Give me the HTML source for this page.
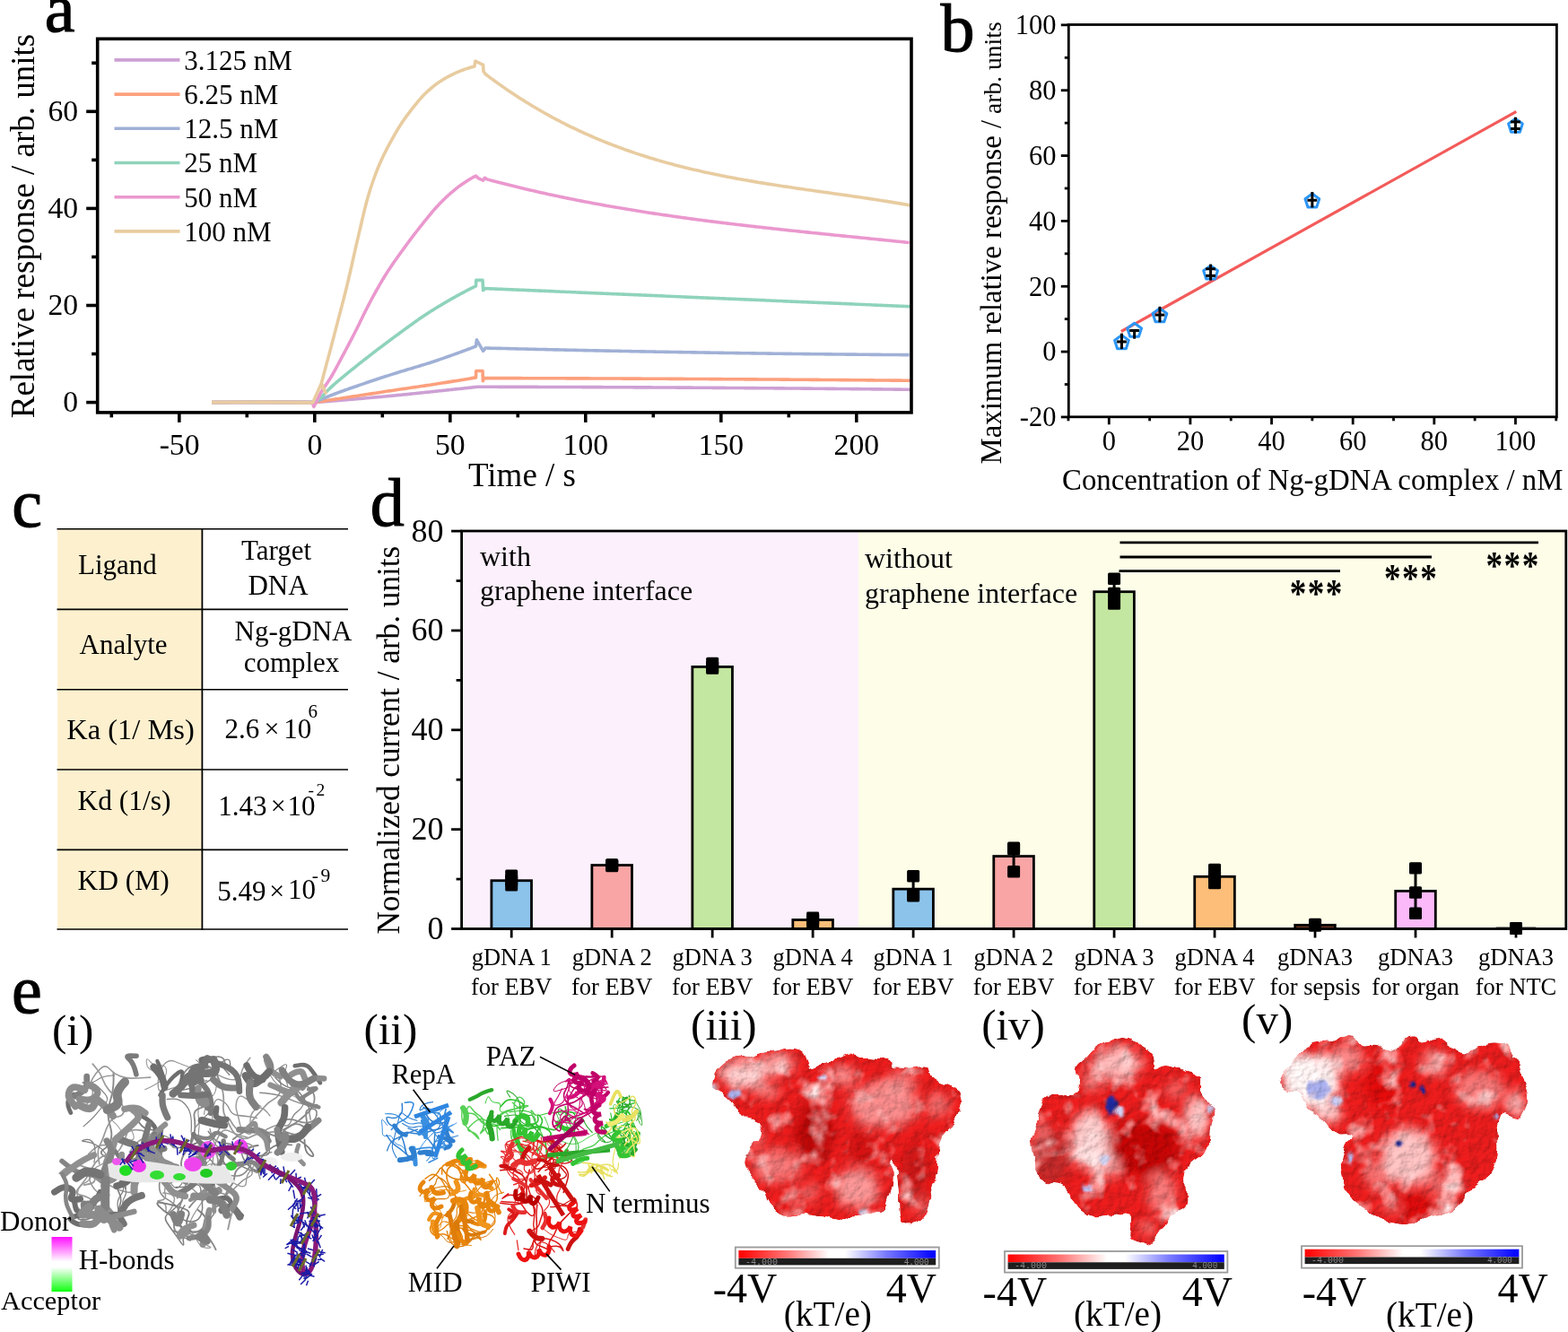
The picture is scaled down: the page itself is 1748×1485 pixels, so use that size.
<!DOCTYPE html><html><head><meta charset="utf-8"><style>html,body{margin:0;padding:0;background:#fff;}body{width:1748px;height:1485px;position:relative;overflow:hidden;}</style></head><body><svg width="1748" height="1485" viewBox="0 0 1748 1485" font-family="'Liberation Serif', 'Times New Roman', serif" style="position:absolute;left:0;top:0">
<rect x="0" y="0" width="1748" height="1485" fill="#fff"/>
<g id="pa">
<polyline points="236.04,448.6 290.4,448.33 350.8,448.6 352.31,448.48 353.82,448.36 355.33,448.24 356.84,448.12 358.35,448 359.86,447.88 361.37,447.76 362.88,447.64 364.39,447.51 365.9,447.39 367.41,447.27 368.92,447.15 370.43,447.02 371.94,446.9 373.45,446.77 374.96,446.65 376.47,446.52 377.98,446.4 379.49,446.27 381,446.15 382.51,446.02 384.02,445.89 385.53,445.77 387.04,445.64 388.55,445.51 390.06,445.38 391.57,445.26 393.08,445.13 394.59,445 396.1,444.87 397.61,444.74 399.12,444.61 400.63,444.48 402.14,444.35 403.65,444.22 405.16,444.09 406.67,443.96 408.18,443.83 409.69,443.69 411.2,443.56 412.71,443.43 414.22,443.3 415.73,443.16 417.24,443.03 418.75,442.89 420.26,442.76 421.77,442.62 423.28,442.49 424.79,442.35 426.3,442.21 427.81,442.08 429.32,441.94 430.83,441.8 432.34,441.66 433.85,441.52 435.36,441.38 436.87,441.23 438.38,441.09 439.89,440.95 441.4,440.8 442.91,440.65 444.42,440.51 445.93,440.36 447.44,440.21 448.95,440.06 450.46,439.91 451.97,439.75 453.48,439.6 454.99,439.45 456.5,439.29 458.01,439.14 459.52,438.98 461.03,438.82 462.54,438.67 464.05,438.51 465.56,438.35 467.07,438.19 468.58,438.04 470.09,437.88 471.6,437.72 473.11,437.56 474.62,437.4 476.13,437.25 477.64,437.09 479.15,436.93 480.66,436.77 482.17,436.61 483.68,436.46 485.19,436.3 486.7,436.14 488.21,435.98 489.72,435.82 491.23,435.67 492.74,435.51 494.25,435.35 495.76,435.19 497.27,435.03 498.78,434.87 500.29,434.71 501.8,434.55 503.31,434.39 504.82,434.23 506.33,434.07 507.84,433.91 509.35,433.75 510.86,433.58 512.37,433.42 513.88,433.26 515.39,433.1 516.9,432.94 518.41,432.77 519.92,432.61 521.43,432.45 522.94,432.29 524.45,432.12 525.96,431.96 527.47,431.8 528.98,431.63 530.49,431.47 532,431.3 535.02,431.3 538.04,431.3 541.06,431.3 544.08,431.31 547.1,431.31 550.12,431.32 553.14,431.32 556.16,431.33 559.18,431.33 562.2,431.34 565.22,431.35 568.24,431.35 571.26,431.36 574.28,431.36 577.3,431.37 580.32,431.38 583.34,431.38 586.36,431.39 589.38,431.4 592.4,431.41 595.42,431.41 598.44,431.42 601.46,431.43 604.48,431.44 607.5,431.45 610.52,431.45 613.54,431.46 616.56,431.47 619.58,431.48 622.6,431.49 625.62,431.5 628.64,431.51 631.66,431.52 634.68,431.53 637.7,431.54 640.72,431.55 643.74,431.56 646.76,431.57 649.78,431.58 652.8,431.59 655.82,431.6 658.84,431.62 661.86,431.63 664.88,431.64 667.9,431.65 670.92,431.66 673.94,431.68 676.96,431.69 679.98,431.7 683,431.71 686.02,431.73 689.04,431.74 692.06,431.76 695.08,431.77 698.1,431.78 701.12,431.8 704.14,431.81 707.16,431.83 710.18,431.84 713.2,431.86 716.22,431.87 719.24,431.89 722.26,431.9 725.28,431.92 728.3,431.93 731.32,431.95 734.34,431.96 737.36,431.98 740.38,432 743.4,432.01 746.42,432.03 749.44,432.05 752.46,432.07 755.48,432.08 758.5,432.1 761.52,432.12 764.54,432.14 767.56,432.15 770.58,432.17 773.6,432.19 776.62,432.21 779.64,432.23 782.66,432.25 785.68,432.27 788.7,432.29 791.72,432.31 794.74,432.33 797.76,432.35 800.78,432.37 803.8,432.39 806.82,432.41 809.84,432.43 812.86,432.45 815.88,432.47 818.9,432.49 821.92,432.51 824.94,432.54 827.96,432.56 830.98,432.58 834,432.6 837.02,432.62 840.04,432.65 843.06,432.67 846.08,432.69 849.1,432.72 852.12,432.74 855.14,432.76 858.16,432.79 861.18,432.81 864.2,432.83 867.22,432.86 870.24,432.88 873.26,432.91 876.28,432.93 879.3,432.96 882.32,432.98 885.34,433.01 888.36,433.03 891.38,433.06 894.4,433.09 897.42,433.11 900.44,433.14 903.46,433.16 906.48,433.19 909.5,433.22 912.52,433.25 915.54,433.27 918.56,433.3 921.58,433.33 924.6,433.36 927.62,433.38 930.64,433.41 933.66,433.44 936.68,433.47 939.7,433.5 942.72,433.53 945.74,433.56 948.76,433.59 951.78,433.61 954.8,433.64 957.82,433.67 960.84,433.7 963.86,433.73 966.88,433.76 969.9,433.8 972.92,433.83 975.94,433.86 978.96,433.89 981.98,433.92 985,433.95 988.02,433.98 991.04,434.01 994.06,434.05 997.08,434.08 1000.1,434.11 1003.12,434.14 1006.14,434.18 1009.16,434.21 1012.18,434.24 1015.2,434.28" fill="none" stroke="#cda0d4" stroke-width="3.6" stroke-linejoin="round" />
<polyline points="236.04,448.6 290.4,448.33 350.8,448.6 352.31,448.37 353.82,448.14 355.33,447.91 356.84,447.68 358.35,447.45 359.86,447.21 361.37,446.98 362.88,446.75 364.39,446.52 365.9,446.29 367.41,446.06 368.92,445.83 370.43,445.6 371.94,445.37 373.45,445.13 374.96,444.9 376.47,444.67 377.98,444.44 379.49,444.21 381,443.98 382.51,443.75 384.02,443.52 385.53,443.29 387.04,443.05 388.55,442.82 390.06,442.59 391.57,442.36 393.08,442.13 394.59,441.9 396.1,441.67 397.61,441.43 399.12,441.2 400.63,440.97 402.14,440.74 403.65,440.51 405.16,440.27 406.67,440.04 408.18,439.81 409.69,439.57 411.2,439.34 412.71,439.11 414.22,438.87 415.73,438.64 417.24,438.41 418.75,438.17 420.26,437.94 421.77,437.71 423.28,437.48 424.79,437.25 426.3,437.01 427.81,436.78 429.32,436.55 430.83,436.32 432.34,436.09 433.85,435.86 435.36,435.63 436.87,435.41 438.38,435.18 439.89,434.95 441.4,434.73 442.91,434.5 444.42,434.28 445.93,434.06 447.44,433.84 448.95,433.62 450.46,433.4 451.97,433.18 453.48,432.96 454.99,432.74 456.5,432.52 458.01,432.31 459.52,432.09 461.03,431.87 462.54,431.65 464.05,431.43 465.56,431.21 467.07,430.99 468.58,430.77 470.09,430.55 471.6,430.33 473.11,430.1 474.62,429.88 476.13,429.65 477.64,429.42 479.15,429.2 480.66,428.96 482.17,428.73 483.68,428.5 485.19,428.26 486.7,428.03 488.21,427.79 489.72,427.56 491.23,427.32 492.74,427.08 494.25,426.84 495.76,426.6 497.27,426.36 498.78,426.12 500.29,425.88 501.8,425.64 503.31,425.39 504.82,425.15 506.33,424.9 507.84,424.66 509.35,424.41 510.86,424.16 512.37,423.92 513.88,423.67 515.39,423.42 516.9,423.17 518.41,422.92 519.92,422.66 521.43,422.41 522.94,422.16 524.45,421.9 525.96,421.65 527.47,421.39 528.98,421.14 530.49,420.88 530.79,413.47 538.04,413.47 538.34,424.82 539.85,421.58 541.06,421.58 544.08,421.58 547.1,421.59 550.12,421.6 553.14,421.6 556.16,421.61 559.18,421.62 562.2,421.62 565.22,421.63 568.24,421.64 571.26,421.65 574.28,421.65 577.3,421.66 580.32,421.67 583.34,421.68 586.36,421.69 589.38,421.7 592.4,421.71 595.42,421.71 598.44,421.72 601.46,421.73 604.48,421.74 607.5,421.75 610.52,421.76 613.54,421.77 616.56,421.78 619.58,421.79 622.6,421.8 625.62,421.81 628.64,421.82 631.66,421.83 634.68,421.84 637.7,421.85 640.72,421.86 643.74,421.88 646.76,421.89 649.78,421.9 652.8,421.91 655.82,421.92 658.84,421.93 661.86,421.94 664.88,421.96 667.9,421.97 670.92,421.98 673.94,421.99 676.96,422.01 679.98,422.02 683,422.03 686.02,422.04 689.04,422.06 692.06,422.07 695.08,422.08 698.1,422.1 701.12,422.11 704.14,422.13 707.16,422.14 710.18,422.15 713.2,422.17 716.22,422.18 719.24,422.2 722.26,422.21 725.28,422.23 728.3,422.24 731.32,422.26 734.34,422.27 737.36,422.29 740.38,422.3 743.4,422.32 746.42,422.33 749.44,422.35 752.46,422.37 755.48,422.38 758.5,422.4 761.52,422.41 764.54,422.43 767.56,422.45 770.58,422.46 773.6,422.48 776.62,422.5 779.64,422.52 782.66,422.53 785.68,422.55 788.7,422.57 791.72,422.59 794.74,422.6 797.76,422.62 800.78,422.64 803.8,422.66 806.82,422.68 809.84,422.69 812.86,422.71 815.88,422.73 818.9,422.75 821.92,422.77 824.94,422.79 827.96,422.81 830.98,422.83 834,422.85 837.02,422.87 840.04,422.89 843.06,422.91 846.08,422.93 849.1,422.95 852.12,422.97 855.14,422.99 858.16,423.01 861.18,423.03 864.2,423.05 867.22,423.07 870.24,423.09 873.26,423.12 876.28,423.14 879.3,423.16 882.32,423.18 885.34,423.2 888.36,423.23 891.38,423.25 894.4,423.27 897.42,423.29 900.44,423.32 903.46,423.34 906.48,423.36 909.5,423.38 912.52,423.41 915.54,423.43 918.56,423.45 921.58,423.48 924.6,423.5 927.62,423.53 930.64,423.55 933.66,423.57 936.68,423.6 939.7,423.62 942.72,423.65 945.74,423.67 948.76,423.7 951.78,423.72 954.8,423.75 957.82,423.77 960.84,423.8 963.86,423.82 966.88,423.85 969.9,423.87 972.92,423.9 975.94,423.93 978.96,423.95 981.98,423.98 985,424.01 988.02,424.03 991.04,424.06 994.06,424.09 997.08,424.11 1000.1,424.14 1003.12,424.17 1006.14,424.19 1009.16,424.22 1012.18,424.25 1015.2,424.28" fill="none" stroke="#fca07d" stroke-width="3.6" stroke-linejoin="round" />
<polyline points="236.04,448.6 290.4,448.33 350.8,448.6 352.31,447.91 353.82,447.22 355.33,446.55 356.84,445.87 358.35,445.21 359.86,444.55 361.37,443.9 362.88,443.26 364.39,442.63 365.9,442.01 367.41,441.39 368.92,440.79 370.43,440.2 371.94,439.62 373.45,439.04 374.96,438.48 376.47,437.92 377.98,437.36 379.49,436.81 381,436.26 382.51,435.72 384.02,435.19 385.53,434.65 387.04,434.12 388.55,433.6 390.06,433.07 391.57,432.54 393.08,432.02 394.59,431.5 396.1,430.97 397.61,430.45 399.12,429.93 400.63,429.41 402.14,428.89 403.65,428.37 405.16,427.85 406.67,427.34 408.18,426.83 409.69,426.32 411.2,425.81 412.71,425.3 414.22,424.79 415.73,424.29 417.24,423.79 418.75,423.29 420.26,422.79 421.77,422.29 423.28,421.79 424.79,421.3 426.3,420.8 427.81,420.31 429.32,419.82 430.83,419.33 432.34,418.84 433.85,418.36 435.36,417.87 436.87,417.39 438.38,416.9 439.89,416.42 441.4,415.95 442.91,415.47 444.42,415.01 445.93,414.54 447.44,414.08 448.95,413.62 450.46,413.17 451.97,412.71 453.48,412.26 454.99,411.81 456.5,411.36 458.01,410.91 459.52,410.46 461.03,410.01 462.54,409.56 464.05,409.11 465.56,408.65 467.07,408.2 468.58,407.74 470.09,407.28 471.6,406.82 473.11,406.35 474.62,405.87 476.13,405.4 477.64,404.92 479.15,404.43 480.66,403.94 482.17,403.44 483.68,402.94 485.19,402.43 486.7,401.93 488.21,401.42 489.72,400.91 491.23,400.39 492.74,399.87 494.25,399.35 495.76,398.83 497.27,398.31 498.78,397.78 500.29,397.25 501.8,396.72 503.31,396.18 504.82,395.64 506.33,395.1 507.84,394.56 509.35,394.01 510.86,393.46 512.37,392.91 513.88,392.36 515.39,391.8 516.9,391.24 518.41,390.68 519.92,390.11 521.43,389.55 522.94,388.98 524.45,388.41 525.96,387.83 527.47,387.25 528.98,386.67 530.49,386.09 531.4,378.88 538.64,391.31 541.06,388.06 542.57,388.02 545.59,388.1 548.61,388.18 551.63,388.25 554.65,388.33 557.67,388.4 560.69,388.48 563.71,388.56 566.73,388.63 569.75,388.71 572.77,388.78 575.79,388.85 578.81,388.93 581.83,389 584.85,389.07 587.87,389.14 590.89,389.22 593.91,389.29 596.93,389.36 599.95,389.43 602.97,389.5 605.99,389.57 609.01,389.64 612.03,389.71 615.05,389.78 618.07,389.85 621.09,389.92 624.11,389.98 627.13,390.05 630.15,390.12 633.17,390.18 636.19,390.25 639.21,390.32 642.23,390.38 645.25,390.45 648.27,390.51 651.29,390.58 654.31,390.64 657.33,390.71 660.35,390.77 663.37,390.83 666.39,390.89 669.41,390.96 672.43,391.02 675.45,391.08 678.47,391.14 681.49,391.2 684.51,391.26 687.53,391.32 690.55,391.38 693.57,391.44 696.59,391.5 699.61,391.56 702.63,391.62 705.65,391.68 708.67,391.73 711.69,391.79 714.71,391.85 717.73,391.9 720.75,391.96 723.77,392.02 726.79,392.07 729.81,392.13 732.83,392.18 735.85,392.24 738.87,392.29 741.89,392.34 744.91,392.4 747.93,392.45 750.95,392.5 753.97,392.55 756.99,392.6 760.01,392.66 763.03,392.71 766.05,392.76 769.07,392.81 772.09,392.86 775.11,392.91 778.13,392.96 781.15,393 784.17,393.05 787.19,393.1 790.21,393.15 793.23,393.2 796.25,393.24 799.27,393.29 802.29,393.33 805.31,393.38 808.33,393.43 811.35,393.47 814.37,393.52 817.39,393.56 820.41,393.6 823.43,393.65 826.45,393.69 829.47,393.73 832.49,393.78 835.51,393.82 838.53,393.86 841.55,393.9 844.57,393.94 847.59,393.98 850.61,394.02 853.63,394.06 856.65,394.1 859.67,394.14 862.69,394.18 865.71,394.22 868.73,394.26 871.75,394.29 874.77,394.33 877.79,394.37 880.81,394.41 883.83,394.44 886.85,394.48 889.87,394.51 892.89,394.55 895.91,394.58 898.93,394.62 901.95,394.65 904.97,394.68 907.99,394.72 911.01,394.75 914.03,394.78 917.05,394.81 920.07,394.85 923.09,394.88 926.11,394.91 929.13,394.94 932.15,394.97 935.17,395 938.19,395.03 941.21,395.06 944.23,395.09 947.25,395.12 950.27,395.14 953.29,395.17 956.31,395.2 959.33,395.23 962.35,395.25 965.37,395.28 968.39,395.3 971.41,395.33 974.43,395.36 977.45,395.38 980.47,395.4 983.49,395.43 986.51,395.45 989.53,395.48 992.55,395.5 995.57,395.52 998.59,395.54 1001.61,395.57 1004.63,395.59 1007.65,395.61 1010.67,395.63 1013.69,395.65" fill="none" stroke="#a0b0d6" stroke-width="3.6" stroke-linejoin="round" />
<polyline points="236.04,448.6 290.4,448.33 350.8,448.6 352.31,447.55 353.82,446.43 355.33,445.25 356.84,443.99 358.35,442.65 359.86,441.17 361.37,439.61 362.88,437.99 364.39,436.37 365.9,434.78 367.41,433.25 368.92,431.82 370.43,430.44 371.94,429.08 373.45,427.74 374.96,426.41 376.47,425.11 377.98,423.82 379.49,422.55 381,421.29 382.51,420.04 384.02,418.8 385.53,417.57 387.04,416.35 388.55,415.13 390.06,413.92 391.57,412.71 393.08,411.51 394.59,410.3 396.1,409.09 397.61,407.88 399.12,406.67 400.63,405.46 402.14,404.26 403.65,403.07 405.16,401.88 406.67,400.69 408.18,399.5 409.69,398.33 411.2,397.15 412.71,395.98 414.22,394.81 415.73,393.64 417.24,392.48 418.75,391.33 420.26,390.17 421.77,389.02 423.28,387.88 424.79,386.74 426.3,385.6 427.81,384.46 429.32,383.33 430.83,382.2 432.34,381.08 433.85,379.96 435.36,378.84 436.87,377.73 438.38,376.62 439.89,375.51 441.4,374.4 442.91,373.29 444.42,372.18 445.93,371.07 447.44,369.96 448.95,368.85 450.46,367.74 451.97,366.63 453.48,365.53 454.99,364.43 456.5,363.34 458.01,362.25 459.52,361.17 461.03,360.09 462.54,359.01 464.05,357.95 465.56,356.89 467.07,355.84 468.58,354.79 470.09,353.76 471.6,352.74 473.11,351.72 474.62,350.72 476.13,349.73 477.64,348.75 479.15,347.78 480.66,346.82 482.17,345.88 483.68,344.94 485.19,344.01 486.7,343.08 488.21,342.16 489.72,341.25 491.23,340.34 492.74,339.43 494.25,338.53 495.76,337.64 497.27,336.75 498.78,335.87 500.29,335 501.8,334.13 503.31,333.27 504.82,332.42 506.33,331.57 507.84,330.73 509.35,329.89 510.86,329.06 512.37,328.24 513.88,327.43 515.39,326.62 516.9,325.83 518.41,325.03 519.92,324.25 521.43,323.47 522.94,322.71 524.45,321.95 525.96,321.19 527.47,320.45 528.98,319.71 530.49,318.98 530.79,312.39 538.04,312.39 538.64,323.74 540.46,322.12 541.06,321.6 544.08,321.73 547.1,321.86 550.12,321.98 553.14,322.11 556.16,322.24 559.18,322.37 562.2,322.5 565.22,322.62 568.24,322.75 571.26,322.88 574.28,323.01 577.3,323.13 580.32,323.26 583.34,323.39 586.36,323.52 589.38,323.65 592.4,323.77 595.42,323.9 598.44,324.03 601.46,324.16 604.48,324.29 607.5,324.41 610.52,324.54 613.54,324.67 616.56,324.8 619.58,324.93 622.6,325.05 625.62,325.18 628.64,325.31 631.66,325.44 634.68,325.57 637.7,325.69 640.72,325.82 643.74,325.95 646.76,326.08 649.78,326.21 652.8,326.33 655.82,326.46 658.84,326.59 661.86,326.72 664.88,326.85 667.9,326.97 670.92,327.1 673.94,327.23 676.96,327.36 679.98,327.49 683,327.61 686.02,327.74 689.04,327.87 692.06,328 695.08,328.13 698.1,328.26 701.12,328.38 704.14,328.51 707.16,328.64 710.18,328.77 713.2,328.9 716.22,329.02 719.24,329.15 722.26,329.28 725.28,329.41 728.3,329.54 731.32,329.67 734.34,329.79 737.36,329.92 740.38,330.05 743.4,330.18 746.42,330.31 749.44,330.44 752.46,330.56 755.48,330.69 758.5,330.82 761.52,330.95 764.54,331.08 767.56,331.21 770.58,331.33 773.6,331.46 776.62,331.59 779.64,331.72 782.66,331.85 785.68,331.98 788.7,332.1 791.72,332.23 794.74,332.36 797.76,332.49 800.78,332.62 803.8,332.75 806.82,332.87 809.84,333 812.86,333.13 815.88,333.26 818.9,333.39 821.92,333.52 824.94,333.65 827.96,333.77 830.98,333.9 834,334.03 837.02,334.16 840.04,334.29 843.06,334.42 846.08,334.55 849.1,334.67 852.12,334.8 855.14,334.93 858.16,335.06 861.18,335.19 864.2,335.32 867.22,335.45 870.24,335.57 873.26,335.7 876.28,335.83 879.3,335.96 882.32,336.09 885.34,336.22 888.36,336.35 891.38,336.47 894.4,336.6 897.42,336.73 900.44,336.86 903.46,336.99 906.48,337.12 909.5,337.25 912.52,337.38 915.54,337.5 918.56,337.63 921.58,337.76 924.6,337.89 927.62,338.02 930.64,338.15 933.66,338.28 936.68,338.41 939.7,338.53 942.72,338.66 945.74,338.79 948.76,338.92 951.78,339.05 954.8,339.18 957.82,339.31 960.84,339.44 963.86,339.57 966.88,339.69 969.9,339.82 972.92,339.95 975.94,340.08 978.96,340.21 981.98,340.34 985,340.47 988.02,340.6 991.04,340.73 994.06,340.85 997.08,340.98 1000.1,341.11 1003.12,341.24 1006.14,341.37 1009.16,341.5 1012.18,341.63 1015.2,341.76" fill="none" stroke="#8fd3bb" stroke-width="3.6" stroke-linejoin="round" />
<polyline points="236.04,448.6 290.4,448.33 348.08,448.6 349.89,453.46 353.82,445.37 355.33,442.32 356.84,439.43 358.35,436.71 359.86,434.2 361.37,431.88 362.88,429.68 364.39,427.52 365.9,425.33 367.41,423.03 368.92,420.57 370.43,417.99 371.94,415.33 373.45,412.61 374.96,409.83 376.47,407.01 377.98,404.16 379.49,401.31 381,398.46 382.51,395.63 384.02,392.81 385.53,389.98 387.04,387.14 388.55,384.29 390.06,381.43 391.57,378.55 393.08,375.65 394.59,372.73 396.1,369.79 397.61,366.81 399.12,363.77 400.63,360.68 402.14,357.56 403.65,354.43 405.16,351.31 406.67,348.23 408.18,345.19 409.69,342.23 411.2,339.36 412.71,336.52 414.22,333.7 415.73,330.91 417.24,328.14 418.75,325.41 420.26,322.7 421.77,320.03 423.28,317.4 424.79,314.81 426.3,312.26 427.81,309.75 429.32,307.3 430.83,304.89 432.34,302.53 433.85,300.22 435.36,297.94 436.87,295.7 438.38,293.49 439.89,291.32 441.4,289.17 442.91,287.04 444.42,284.93 445.93,282.84 447.44,280.77 448.95,278.7 450.46,276.64 451.97,274.58 453.48,272.53 454.99,270.48 456.5,268.44 458.01,266.42 459.52,264.41 461.03,262.42 462.54,260.44 464.05,258.47 465.56,256.52 467.07,254.58 468.58,252.66 470.09,250.76 471.6,248.87 473.11,246.99 474.62,245.13 476.13,243.27 477.64,241.41 479.15,239.57 480.66,237.76 482.17,235.96 483.68,234.2 485.19,232.48 486.7,230.79 488.21,229.16 489.72,227.56 491.23,225.99 492.74,224.46 494.25,222.95 495.76,221.48 497.27,220.03 498.78,218.63 500.29,217.26 501.8,215.92 503.31,214.61 504.82,213.32 506.33,212.06 507.84,210.83 509.35,209.62 510.86,208.45 512.37,207.32 513.88,206.22 515.39,205.17 516.9,204.14 518.41,203.14 519.92,202.16 521.43,201.2 522.94,200.28 524.45,199.38 525.96,198.52 527.47,197.68 528.98,196.88 530.49,196.12 533.51,198.89 538.64,201.05 540.46,198.35 542.57,199.81 545.59,200.62 548.61,201.43 551.63,202.22 554.65,203.01 557.67,203.79 560.69,204.57 563.71,205.33 566.73,206.09 569.75,206.84 572.77,207.59 575.79,208.33 578.81,209.06 581.83,209.78 584.85,210.5 587.87,211.21 590.89,211.92 593.91,212.62 596.93,213.31 599.95,213.99 602.97,214.67 605.99,215.34 609.01,216.01 612.03,216.67 615.05,217.32 618.07,217.97 621.09,218.61 624.11,219.25 627.13,219.88 630.15,220.5 633.17,221.12 636.19,221.73 639.21,222.33 642.23,222.93 645.25,223.53 648.27,224.12 651.29,224.7 654.31,225.28 657.33,225.85 660.35,226.42 663.37,226.98 666.39,227.53 669.41,228.09 672.43,228.63 675.45,229.17 678.47,229.71 681.49,230.24 684.51,230.77 687.53,231.29 690.55,231.8 693.57,232.31 696.59,232.82 699.61,233.32 702.63,233.82 705.65,234.31 708.67,234.8 711.69,235.28 714.71,235.76 717.73,236.24 720.75,236.71 723.77,237.18 726.79,237.64 729.81,238.1 732.83,238.55 735.85,239 738.87,239.45 741.89,239.89 744.91,240.33 747.93,240.76 750.95,241.19 753.97,241.62 756.99,242.04 760.01,242.46 763.03,242.88 766.05,243.29 769.07,243.7 772.09,244.11 775.11,244.51 778.13,244.91 781.15,245.3 784.17,245.7 787.19,246.09 790.21,246.47 793.23,246.86 796.25,247.24 799.27,247.62 802.29,247.99 805.31,248.36 808.33,248.73 811.35,249.1 814.37,249.47 817.39,249.83 820.41,250.19 823.43,250.54 826.45,250.9 829.47,251.25 832.49,251.6 835.51,251.95 838.53,252.3 841.55,252.64 844.57,252.98 847.59,253.32 850.61,253.66 853.63,253.99 856.65,254.33 859.67,254.66 862.69,254.99 865.71,255.32 868.73,255.64 871.75,255.97 874.77,256.29 877.79,256.62 880.81,256.94 883.83,257.26 886.85,257.57 889.87,257.89 892.89,258.21 895.91,258.52 898.93,258.84 901.95,259.15 904.97,259.46 907.99,259.77 911.01,260.08 914.03,260.39 917.05,260.7 920.07,261.01 923.09,261.31 926.11,261.62 929.13,261.93 932.15,262.23 935.17,262.54 938.19,262.84 941.21,263.15 944.23,263.45 947.25,263.75 950.27,264.06 953.29,264.36 956.31,264.66 959.33,264.97 962.35,265.27 965.37,265.58 968.39,265.88 971.41,266.18 974.43,266.49 977.45,266.79 980.47,267.1 983.49,267.4 986.51,267.71 989.53,268.02 992.55,268.32 995.57,268.63 998.59,268.94 1001.61,269.25 1004.63,269.56 1007.65,269.87 1010.67,270.18 1013.69,270.5" fill="none" stroke="#ea98ce" stroke-width="3.6" stroke-linejoin="round" />
<polyline points="236.04,448.6 290.4,448.33 348.69,448.87 357.9,428.33 363.09,438.01 358.35,427.25 364.39,404.3 365.9,398.88 367.41,393.3 368.92,387.6 370.43,381.82 371.94,375.99 373.45,370.16 374.96,364.36 376.47,358.61 377.98,352.89 379.49,347.18 381,341.44 382.51,335.65 384.02,329.77 385.53,323.78 387.04,317.64 388.55,311.29 390.06,304.74 391.57,298.07 393.08,291.32 394.59,284.57 396.1,277.86 397.61,271.26 399.12,264.83 400.63,258.44 402.14,251.97 403.65,245.51 405.16,239.14 406.67,232.94 408.18,226.99 409.69,221.38 411.2,216.19 412.71,211.33 414.22,206.69 415.73,202.25 417.24,197.99 418.75,193.92 420.26,190.01 421.77,186.27 423.28,182.67 424.79,179.24 426.3,175.95 427.81,172.81 429.32,169.77 430.83,166.83 432.34,163.96 433.85,161.14 435.36,158.35 436.87,155.59 438.38,152.87 439.89,150.2 441.4,147.59 442.91,145.04 444.42,142.55 445.93,140.14 447.44,137.81 448.95,135.55 450.46,133.35 451.97,131.2 453.48,129.11 454.99,127.06 456.5,125.05 458.01,123.09 459.52,121.16 461.03,119.27 462.54,117.4 464.05,115.55 465.56,113.72 467.07,111.93 468.58,110.18 470.09,108.47 471.6,106.83 473.11,105.26 474.62,103.76 476.13,102.33 477.64,100.93 479.15,99.58 480.66,98.27 482.17,97 483.68,95.78 485.19,94.61 486.7,93.49 488.21,92.41 489.72,91.38 491.23,90.38 492.74,89.42 494.25,88.49 495.76,87.6 497.27,86.73 498.78,85.9 500.29,85.09 501.8,84.3 503.31,83.54 504.82,82.79 506.33,82.07 507.84,81.37 509.35,80.69 510.86,80.03 512.37,79.41 513.88,78.81 515.39,78.25 516.9,77.7 518.41,77.17 519.92,76.66 521.43,76.17 522.94,75.7 524.45,75.24 525.96,74.82 527.47,74.41 528.98,74.03 529.89,68.09 538.64,72.41 538.95,79.44 541.06,82.56 544.08,84.84 547.1,87.09 550.12,89.3 553.14,91.49 556.16,93.65 559.18,95.78 562.2,97.89 565.22,99.96 568.24,102.01 571.26,104.03 574.28,106.03 577.3,107.99 580.32,109.93 583.34,111.84 586.36,113.73 589.38,115.59 592.4,117.43 595.42,119.24 598.44,121.02 601.46,122.78 604.48,124.51 607.5,126.22 610.52,127.91 613.54,129.57 616.56,131.21 619.58,132.82 622.6,134.41 625.62,135.98 628.64,137.52 631.66,139.04 634.68,140.54 637.7,142.01 640.72,143.47 643.74,144.9 646.76,146.31 649.78,147.7 652.8,149.07 655.82,150.42 658.84,151.74 661.86,153.05 664.88,154.33 667.9,155.6 670.92,156.85 673.94,158.07 676.96,159.28 679.98,160.47 683,161.64 686.02,162.79 689.04,163.92 692.06,165.04 695.08,166.14 698.1,167.21 701.12,168.28 704.14,169.32 707.16,170.35 710.18,171.36 713.2,172.36 716.22,173.33 719.24,174.3 722.26,175.24 725.28,176.17 728.3,177.09 731.32,177.99 734.34,178.88 737.36,179.75 740.38,180.61 743.4,181.45 746.42,182.28 749.44,183.1 752.46,183.9 755.48,184.69 758.5,185.46 761.52,186.23 764.54,186.98 767.56,187.72 770.58,188.44 773.6,189.16 776.62,189.86 779.64,190.55 782.66,191.23 785.68,191.9 788.7,192.56 791.72,193.21 794.74,193.85 797.76,194.48 800.78,195.1 803.8,195.71 806.82,196.31 809.84,196.91 812.86,197.49 815.88,198.06 818.9,198.63 821.92,199.19 824.94,199.74 827.96,200.28 830.98,200.82 834,201.35 837.02,201.87 840.04,202.38 843.06,202.89 846.08,203.4 849.1,203.89 852.12,204.38 855.14,204.87 858.16,205.35 861.18,205.83 864.2,206.3 867.22,206.76 870.24,207.22 873.26,207.68 876.28,208.14 879.3,208.59 882.32,209.03 885.34,209.48 888.36,209.92 891.38,210.36 894.4,210.79 897.42,211.23 900.44,211.66 903.46,212.09 906.48,212.52 909.5,212.95 912.52,213.37 915.54,213.8 918.56,214.22 921.58,214.65 924.6,215.07 927.62,215.5 930.64,215.92 933.66,216.35 936.68,216.78 939.7,217.21 942.72,217.63 945.74,218.07 948.76,218.5 951.78,218.93 954.8,219.37 957.82,219.81 960.84,220.25 963.86,220.7 966.88,221.15 969.9,221.6 972.92,222.05 975.94,222.51 978.96,222.98 981.98,223.44 985,223.92 988.02,224.39 991.04,224.88 994.06,225.36 997.08,225.86 1000.1,226.36 1003.12,226.86 1006.14,227.37 1009.16,227.89 1012.18,228.41 1015.2,228.95" fill="none" stroke="#e8cca0" stroke-width="3.6" stroke-linejoin="round" />
<line x1="127.5" y1="66.9" x2="200.5" y2="66.9" stroke="#cda0d4" stroke-width="3.6" />
<text x="205.3" y="77.8" font-size="31" text-anchor="start" >3.125 nM</text>
<line x1="127.5" y1="105.1" x2="200.5" y2="105.1" stroke="#fca07d" stroke-width="3.6" />
<text x="205.3" y="116" font-size="31" text-anchor="start" >6.25 nM</text>
<line x1="127.5" y1="143.3" x2="200.5" y2="143.3" stroke="#a0b0d6" stroke-width="3.6" />
<text x="205.3" y="154.2" font-size="31" text-anchor="start" >12.5 nM</text>
<line x1="127.5" y1="181.5" x2="200.5" y2="181.5" stroke="#8fd3bb" stroke-width="3.6" />
<text x="205.3" y="192.4" font-size="31" text-anchor="start" >25 nM</text>
<line x1="127.5" y1="219.7" x2="200.5" y2="219.7" stroke="#ea98ce" stroke-width="3.6" />
<text x="205.3" y="230.6" font-size="31" text-anchor="start" >50 nM</text>
<line x1="127.5" y1="257.9" x2="200.5" y2="257.9" stroke="#e8cca0" stroke-width="3.6" />
<text x="205.3" y="268.8" font-size="31" text-anchor="start" >100 nM</text>
<rect x="108.7" y="43.3" width="907.3" height="416.59999999999997" fill="none" stroke="#000" stroke-width="3.6"/>
<line x1="96.2" y1="448.6" x2="108.7" y2="448.6" stroke="#000" stroke-width="3.6" />
<line x1="102.2" y1="394.55" x2="108.7" y2="394.55" stroke="#000" stroke-width="3.6" />
<line x1="96.2" y1="340.5" x2="108.7" y2="340.5" stroke="#000" stroke-width="3.6" />
<line x1="102.2" y1="286.45" x2="108.7" y2="286.45" stroke="#000" stroke-width="3.6" />
<line x1="96.2" y1="232.4" x2="108.7" y2="232.4" stroke="#000" stroke-width="3.6" />
<line x1="102.2" y1="178.35" x2="108.7" y2="178.35" stroke="#000" stroke-width="3.6" />
<line x1="96.2" y1="124.3" x2="108.7" y2="124.3" stroke="#000" stroke-width="3.6" />
<line x1="102.2" y1="70.25" x2="108.7" y2="70.25" stroke="#000" stroke-width="3.6" />
<text x="87.1" y="459.1" font-size="33.7" text-anchor="end" >0</text>
<text x="87.1" y="351" font-size="33.7" text-anchor="end" >20</text>
<text x="87.1" y="242.9" font-size="33.7" text-anchor="end" >40</text>
<text x="87.1" y="134.8" font-size="33.7" text-anchor="end" >60</text>
<line x1="124.3" y1="459.9" x2="124.3" y2="465.4" stroke="#000" stroke-width="3.6" />
<line x1="199.8" y1="459.9" x2="199.8" y2="470.9" stroke="#000" stroke-width="3.6" />
<line x1="275.3" y1="459.9" x2="275.3" y2="465.4" stroke="#000" stroke-width="3.6" />
<line x1="350.8" y1="459.9" x2="350.8" y2="470.9" stroke="#000" stroke-width="3.6" />
<line x1="426.3" y1="459.9" x2="426.3" y2="465.4" stroke="#000" stroke-width="3.6" />
<line x1="501.8" y1="459.9" x2="501.8" y2="470.9" stroke="#000" stroke-width="3.6" />
<line x1="577.3" y1="459.9" x2="577.3" y2="465.4" stroke="#000" stroke-width="3.6" />
<line x1="652.8" y1="459.9" x2="652.8" y2="470.9" stroke="#000" stroke-width="3.6" />
<line x1="728.3" y1="459.9" x2="728.3" y2="465.4" stroke="#000" stroke-width="3.6" />
<line x1="803.8" y1="459.9" x2="803.8" y2="470.9" stroke="#000" stroke-width="3.6" />
<line x1="879.3" y1="459.9" x2="879.3" y2="465.4" stroke="#000" stroke-width="3.6" />
<line x1="954.8" y1="459.9" x2="954.8" y2="470.9" stroke="#000" stroke-width="3.6" />
<text x="200.1" y="506.5" font-size="33.7" text-anchor="middle" >-50</text>
<text x="350.8" y="506.5" font-size="33.7" text-anchor="middle" >0</text>
<text x="501.8" y="506.5" font-size="33.7" text-anchor="middle" >50</text>
<text x="652.8" y="506.5" font-size="33.7" text-anchor="middle" >100</text>
<text x="803.8" y="506.5" font-size="33.7" text-anchor="middle" >150</text>
<text x="954.8" y="506.5" font-size="33.7" text-anchor="middle" >200</text>
<text x="582" y="542" font-size="37" text-anchor="middle" >Time / s</text>
<text x="0" y="0" font-size="37" text-anchor="middle" transform="translate(37.6,252) rotate(-90)">Relative response / arb. units</text>
<text x="49.8" y="34.8" font-size="76" text-anchor="start" stroke="#000" stroke-width="1.1">a</text>
</g>
<g id="pb">
<line x1="1249.89" y1="369.52" x2="1690.37" y2="124.38" stroke="#f35a5a" stroke-width="3.2" />
<polygon points="1250.46,373.67 1258.36,379.41 1255.34,388.69 1245.58,388.69 1242.57,379.41" fill="none" stroke="#2b95f5" stroke-width="3" stroke-linejoin="round"/>
<line x1="1250.46" y1="371.67" x2="1250.46" y2="389.17" stroke="#000" stroke-width="3" />
<line x1="1245.06" y1="380.97" x2="1255.86" y2="380.97" stroke="#000" stroke-width="3" />
<polygon points="1264.62,360.2 1272.52,365.93 1269.5,375.21 1259.74,375.21 1256.73,365.93" fill="none" stroke="#2b95f5" stroke-width="3" stroke-linejoin="round"/>
<line x1="1264.62" y1="368.7" x2="1264.62" y2="377.7" stroke="#000" stroke-width="3" />
<line x1="1259.22" y1="368.5" x2="1270.02" y2="368.5" stroke="#000" stroke-width="3" />
<polygon points="1292.94,343.8 1300.84,349.54 1297.82,358.82 1288.07,358.82 1285.05,349.54" fill="none" stroke="#2b95f5" stroke-width="3" stroke-linejoin="round"/>
<line x1="1292.94" y1="341.8" x2="1292.94" y2="359.3" stroke="#000" stroke-width="3" />
<line x1="1287.54" y1="351.1" x2="1298.35" y2="351.1" stroke="#000" stroke-width="3" />
<polygon points="1349.59,296.09 1357.48,301.82 1354.47,311.1 1344.71,311.1 1341.7,301.82" fill="none" stroke="#2b95f5" stroke-width="3" stroke-linejoin="round"/>
<line x1="1349.59" y1="294.59" x2="1349.59" y2="312.59" stroke="#000" stroke-width="3" />
<line x1="1344.19" y1="299.79" x2="1354.99" y2="299.79" stroke="#000" stroke-width="3" />
<line x1="1344.19" y1="307.39" x2="1354.99" y2="307.39" stroke="#000" stroke-width="3" />
<polygon points="1462.88,215.95 1470.77,221.69 1467.76,230.97 1458,230.97 1454.99,221.69" fill="none" stroke="#2b95f5" stroke-width="3" stroke-linejoin="round"/>
<line x1="1462.88" y1="213.95" x2="1462.88" y2="231.45" stroke="#000" stroke-width="3" />
<line x1="1457.48" y1="223.25" x2="1468.28" y2="223.25" stroke="#000" stroke-width="3" />
<polygon points="1689.46,132.17 1697.35,137.91 1694.34,147.19 1684.58,147.19 1681.57,137.91" fill="none" stroke="#2b95f5" stroke-width="3" stroke-linejoin="round"/>
<line x1="1689.46" y1="130.67" x2="1689.46" y2="148.67" stroke="#000" stroke-width="3" />
<line x1="1684.06" y1="135.87" x2="1694.86" y2="135.87" stroke="#000" stroke-width="3" />
<line x1="1684.06" y1="143.47" x2="1694.86" y2="143.47" stroke="#000" stroke-width="3" />
<rect x="1191.3" y="27.5" width="544.1000000000001" height="437.3" fill="none" stroke="#000" stroke-width="2.8"/>
<line x1="1182.8" y1="464.95" x2="1191.3" y2="464.95" stroke="#000" stroke-width="2.8" />
<line x1="1186.8" y1="428.53" x2="1191.3" y2="428.53" stroke="#000" stroke-width="2.8" />
<line x1="1182.8" y1="392.1" x2="1191.3" y2="392.1" stroke="#000" stroke-width="2.8" />
<line x1="1186.8" y1="355.68" x2="1191.3" y2="355.68" stroke="#000" stroke-width="2.8" />
<line x1="1182.8" y1="319.25" x2="1191.3" y2="319.25" stroke="#000" stroke-width="2.8" />
<line x1="1186.8" y1="282.83" x2="1191.3" y2="282.83" stroke="#000" stroke-width="2.8" />
<line x1="1182.8" y1="246.4" x2="1191.3" y2="246.4" stroke="#000" stroke-width="2.8" />
<line x1="1186.8" y1="209.98" x2="1191.3" y2="209.98" stroke="#000" stroke-width="2.8" />
<line x1="1182.8" y1="173.55" x2="1191.3" y2="173.55" stroke="#000" stroke-width="2.8" />
<line x1="1186.8" y1="137.13" x2="1191.3" y2="137.13" stroke="#000" stroke-width="2.8" />
<line x1="1182.8" y1="100.7" x2="1191.3" y2="100.7" stroke="#000" stroke-width="2.8" />
<line x1="1186.8" y1="64.28" x2="1191.3" y2="64.28" stroke="#000" stroke-width="2.8" />
<line x1="1182.8" y1="27.85" x2="1191.3" y2="27.85" stroke="#000" stroke-width="2.8" />
<text x="1177.5" y="475.25" font-size="30.5" text-anchor="end" >-20</text>
<text x="1177.5" y="402.4" font-size="30.5" text-anchor="end" >0</text>
<text x="1177.5" y="329.55" font-size="30.5" text-anchor="end" >20</text>
<text x="1177.5" y="256.7" font-size="30.5" text-anchor="end" >40</text>
<text x="1177.5" y="183.85" font-size="30.5" text-anchor="end" >60</text>
<text x="1177.5" y="111" font-size="30.5" text-anchor="end" >80</text>
<text x="1177.5" y="38.15" font-size="30.5" text-anchor="end" >100</text>
<line x1="1190.98" y1="464.8" x2="1190.98" y2="469.3" stroke="#000" stroke-width="2.8" />
<line x1="1236.3" y1="464.8" x2="1236.3" y2="473.3" stroke="#000" stroke-width="2.8" />
<line x1="1281.62" y1="464.8" x2="1281.62" y2="469.3" stroke="#000" stroke-width="2.8" />
<line x1="1326.93" y1="464.8" x2="1326.93" y2="473.3" stroke="#000" stroke-width="2.8" />
<line x1="1372.25" y1="464.8" x2="1372.25" y2="469.3" stroke="#000" stroke-width="2.8" />
<line x1="1417.56" y1="464.8" x2="1417.56" y2="473.3" stroke="#000" stroke-width="2.8" />
<line x1="1462.88" y1="464.8" x2="1462.88" y2="469.3" stroke="#000" stroke-width="2.8" />
<line x1="1508.2" y1="464.8" x2="1508.2" y2="473.3" stroke="#000" stroke-width="2.8" />
<line x1="1553.51" y1="464.8" x2="1553.51" y2="469.3" stroke="#000" stroke-width="2.8" />
<line x1="1598.83" y1="464.8" x2="1598.83" y2="473.3" stroke="#000" stroke-width="2.8" />
<line x1="1644.14" y1="464.8" x2="1644.14" y2="469.3" stroke="#000" stroke-width="2.8" />
<line x1="1689.46" y1="464.8" x2="1689.46" y2="473.3" stroke="#000" stroke-width="2.8" />
<line x1="1734.78" y1="464.8" x2="1734.78" y2="469.3" stroke="#000" stroke-width="2.8" />
<text x="1236.3" y="502" font-size="30.5" text-anchor="middle" >0</text>
<text x="1326.93" y="502" font-size="30.5" text-anchor="middle" >20</text>
<text x="1417.56" y="502" font-size="30.5" text-anchor="middle" >40</text>
<text x="1508.2" y="502" font-size="30.5" text-anchor="middle" >60</text>
<text x="1598.83" y="502" font-size="30.5" text-anchor="middle" >80</text>
<text x="1689.46" y="502" font-size="30.5" text-anchor="middle" >100</text>
<text x="1184" y="546" font-size="32.8" text-anchor="start" >Concentration of Ng-gDNA complex / nM</text>
<text transform="translate(1116,517.4) rotate(-90)" font-size="32.8">Maximum relative response /<tspan font-size="27.6"> arb. units</tspan></text>
<text x="1048.5" y="56.5" font-size="76" text-anchor="start" stroke="#000" stroke-width="1.1">b</text>
</g>
<g id="pc">
<rect x="64" y="589.7" width="161.4" height="446.3" fill="#fdf0cf"/>
<line x1="63.5" y1="589.7" x2="388" y2="589.7" stroke="#000" stroke-width="1.6" />
<line x1="63.5" y1="679.4" x2="388" y2="679.4" stroke="#000" stroke-width="1.6" />
<line x1="63.5" y1="768.7" x2="388" y2="768.7" stroke="#000" stroke-width="1.6" />
<line x1="63.5" y1="858" x2="388" y2="858" stroke="#000" stroke-width="1.6" />
<line x1="63.5" y1="947.4" x2="388" y2="947.4" stroke="#000" stroke-width="1.6" />
<line x1="63.5" y1="1036" x2="388" y2="1036" stroke="#000" stroke-width="1.6" />
<line x1="225.4" y1="589" x2="225.4" y2="1036.7" stroke="#000" stroke-width="1.8" />
<text x="87" y="639.8" font-size="31" text-anchor="start" >Ligand</text>
<text x="308" y="624" font-size="31" text-anchor="middle" >Target</text>
<text x="310" y="662.6" font-size="31" text-anchor="middle" >DNA</text>
<text x="88.5" y="729.1" font-size="31" text-anchor="start" >Analyte</text>
<text x="327" y="714.1" font-size="31" text-anchor="middle" >Ng-gDNA</text>
<text x="325" y="749.1" font-size="31" text-anchor="middle" >complex</text>
<text x="74.2" y="823.7" font-size="32.5" text-anchor="start" >Ka (1/ Ms)</text>
<text x="86.5" y="902.5" font-size="31.5" text-anchor="start" >Kd (1/s)</text>
<text x="86.5" y="991.8" font-size="31.5" text-anchor="start" >KD (M)</text>
<text x="250.5" y="823" font-size="31">2.6</text>
<text x="294.5" y="822" font-size="30">×</text>
<text x="316.2" y="823" font-size="31">10</text>
<text x="343.6" y="800.2" font-size="21">6</text>
<text x="243.2" y="908.5" font-size="31">1.43</text>
<text x="301.7" y="907.5" font-size="30">×</text>
<text x="320.4" y="908.5" font-size="31">10</text>
<text x="343.5" y="887.4" font-size="19.5" letter-spacing="2.5">-2</text>
<text x="242.2" y="1003.5" font-size="31">5.49</text>
<text x="300.2" y="1002.5" font-size="30">×</text>
<text x="320.9" y="1001.5" font-size="31">10</text>
<text x="347.8" y="983.3" font-size="21.5" letter-spacing="2.5">-9</text>
<text x="13.2" y="586.5" font-size="76" text-anchor="start" stroke="#000" stroke-width="1.1">c</text>
</g>
<g id="pd">
<rect x="514.6" y="592.0" width="442.4" height="443.5" fill="#fcf0fc"/>
<rect x="957" y="592.0" width="788.8" height="443.5" fill="#fdfde8"/>
<rect x="547.9" y="981.74" width="44.6" height="53.76" fill="#8cc3eb" stroke="#000" stroke-width="2.8"/>
<line x1="570.2" y1="976.2" x2="570.2" y2="986.73" stroke="#000" stroke-width="3" />
<rect x="563.2" y="969.5" width="14" height="13.4" rx="1.5" fill="#000"/>
<rect x="563.2" y="975.04" width="14" height="13.4" rx="1.5" fill="#000"/>
<rect x="563.2" y="980.03" width="14" height="13.4" rx="1.5" fill="#000"/>
<rect x="659.88" y="964.56" width="44.6" height="70.94" fill="#faa5a5" stroke="#000" stroke-width="2.8"/>
<line x1="682.18" y1="964" x2="682.18" y2="965.66" stroke="#000" stroke-width="3" />
<rect x="675.18" y="958.96" width="14" height="13.4" rx="1.5" fill="#000"/>
<rect x="675.18" y="957.3" width="14" height="13.4" rx="1.5" fill="#000"/>
<rect x="675.18" y="957.86" width="14" height="13.4" rx="1.5" fill="#000"/>
<rect x="771.86" y="743.41" width="44.6" height="292.09" fill="#c3e6a0" stroke="#000" stroke-width="2.8"/>
<line x1="794.16" y1="739.53" x2="794.16" y2="745.07" stroke="#000" stroke-width="3" />
<rect x="787.16" y="732.83" width="14" height="13.4" rx="1.5" fill="#000"/>
<rect x="787.16" y="738.37" width="14" height="13.4" rx="1.5" fill="#000"/>
<rect x="787.16" y="736.71" width="14" height="13.4" rx="1.5" fill="#000"/>
<rect x="883.84" y="1025.52" width="44.6" height="9.98" fill="#fcbe78" stroke="#000" stroke-width="2.8"/>
<line x1="906.14" y1="1023.31" x2="906.14" y2="1028.29" stroke="#000" stroke-width="3" />
<rect x="899.14" y="1016.61" width="14" height="13.4" rx="1.5" fill="#000"/>
<rect x="899.14" y="1018.82" width="14" height="13.4" rx="1.5" fill="#000"/>
<rect x="899.14" y="1021.59" width="14" height="13.4" rx="1.5" fill="#000"/>
<rect x="995.82" y="991.16" width="44.6" height="44.34" fill="#8cc3eb" stroke="#000" stroke-width="2.8"/>
<line x1="1018.12" y1="976.75" x2="1018.12" y2="998.92" stroke="#000" stroke-width="3" />
<rect x="1011.12" y="970.05" width="14" height="13.4" rx="1.5" fill="#000"/>
<rect x="1011.12" y="990.56" width="14" height="13.4" rx="1.5" fill="#000"/>
<rect x="1011.12" y="992.22" width="14" height="13.4" rx="1.5" fill="#000"/>
<rect x="1107.8" y="954.58" width="44.6" height="80.92" fill="#faa5a5" stroke="#000" stroke-width="2.8"/>
<line x1="1130.1" y1="945.16" x2="1130.1" y2="971.76" stroke="#000" stroke-width="3" />
<rect x="1123.1" y="938.46" width="14" height="13.4" rx="1.5" fill="#000"/>
<rect x="1123.1" y="965.06" width="14" height="13.4" rx="1.5" fill="#000"/>
<rect x="1123.1" y="940.12" width="14" height="13.4" rx="1.5" fill="#000"/>
<rect x="1219.78" y="659.72" width="44.6" height="375.78" fill="#c3e6a0" stroke="#000" stroke-width="2.8"/>
<line x1="1242.08" y1="645.31" x2="1242.08" y2="673.02" stroke="#000" stroke-width="3" />
<rect x="1235.08" y="638.61" width="14" height="13.4" rx="1.5" fill="#000"/>
<rect x="1235.08" y="654.68" width="14" height="13.4" rx="1.5" fill="#000"/>
<rect x="1235.08" y="666.32" width="14" height="13.4" rx="1.5" fill="#000"/>
<rect x="1331.76" y="977.3" width="44.6" height="58.2" fill="#fcbe78" stroke="#000" stroke-width="2.8"/>
<line x1="1354.06" y1="969.54" x2="1354.06" y2="984.51" stroke="#000" stroke-width="3" />
<rect x="1347.06" y="962.84" width="14" height="13.4" rx="1.5" fill="#000"/>
<rect x="1347.06" y="970.6" width="14" height="13.4" rx="1.5" fill="#000"/>
<rect x="1347.06" y="977.81" width="14" height="13.4" rx="1.5" fill="#000"/>
<rect x="1443.74" y="1031.34" width="44.6" height="4.16" fill="#7a3a28" stroke="#000" stroke-width="2.8"/>
<line x1="1466.04" y1="1030.51" x2="1466.04" y2="1032.17" stroke="#000" stroke-width="3" />
<rect x="1459.04" y="1024.64" width="14" height="13.4" rx="1.5" fill="#000"/>
<rect x="1459.04" y="1025.47" width="14" height="13.4" rx="1.5" fill="#000"/>
<rect x="1459.04" y="1023.81" width="14" height="13.4" rx="1.5" fill="#000"/>
<rect x="1555.72" y="993.38" width="44.6" height="42.12" fill="#fcb9fa" stroke="#000" stroke-width="2.8"/>
<line x1="1578.02" y1="967.88" x2="1578.02" y2="1018.32" stroke="#000" stroke-width="3" />
<rect x="1571.02" y="961.18" width="14" height="13.4" rx="1.5" fill="#000"/>
<rect x="1571.02" y="988.34" width="14" height="13.4" rx="1.5" fill="#000"/>
<rect x="1571.02" y="1011.62" width="14" height="13.4" rx="1.5" fill="#000"/>
<line x1="1667.7" y1="1034" x2="1712.3" y2="1034" stroke="#777" stroke-width="1.5" />
<line x1="1690" y1="1034.67" x2="1690" y2="1035.22" stroke="#000" stroke-width="3" />
<rect x="1683" y="1028.25" width="14" height="13.4" rx="1.5" fill="#000"/>
<rect x="1683" y="1028.52" width="14" height="13.4" rx="1.5" fill="#000"/>
<rect x="1683" y="1027.97" width="14" height="13.4" rx="1.5" fill="#000"/>
<rect x="514.6" y="592.0" width="1231.1999999999998" height="443.5" fill="none" stroke="#000" stroke-width="2.8"/>
<line x1="503.1" y1="1035.5" x2="514.6" y2="1035.5" stroke="#000" stroke-width="2.8" />
<line x1="508.6" y1="980.08" x2="514.6" y2="980.08" stroke="#000" stroke-width="2.8" />
<line x1="503.1" y1="924.65" x2="514.6" y2="924.65" stroke="#000" stroke-width="2.8" />
<line x1="508.6" y1="869.23" x2="514.6" y2="869.23" stroke="#000" stroke-width="2.8" />
<line x1="503.1" y1="813.8" x2="514.6" y2="813.8" stroke="#000" stroke-width="2.8" />
<line x1="508.6" y1="758.38" x2="514.6" y2="758.38" stroke="#000" stroke-width="2.8" />
<line x1="503.1" y1="702.95" x2="514.6" y2="702.95" stroke="#000" stroke-width="2.8" />
<line x1="508.6" y1="647.52" x2="514.6" y2="647.52" stroke="#000" stroke-width="2.8" />
<line x1="503.1" y1="592.1" x2="514.6" y2="592.1" stroke="#000" stroke-width="2.8" />
<text x="494.6" y="1047" font-size="36" text-anchor="end" >0</text>
<text x="494.6" y="936.15" font-size="36" text-anchor="end" >20</text>
<text x="494.6" y="825.3" font-size="36" text-anchor="end" >40</text>
<text x="494.6" y="714.45" font-size="36" text-anchor="end" >60</text>
<text x="494.6" y="603.6" font-size="36" text-anchor="end" >80</text>
<line x1="570.2" y1="1035.5" x2="570.2" y2="1045.5" stroke="#000" stroke-width="2.8" />
<text x="570.2" y="1076.4" font-size="26.5" text-anchor="middle" >gDNA 1</text>
<text x="570.2" y="1108.8" font-size="26.5" text-anchor="middle" >for EBV</text>
<line x1="682.18" y1="1035.5" x2="682.18" y2="1045.5" stroke="#000" stroke-width="2.8" />
<text x="682.18" y="1076.4" font-size="26.5" text-anchor="middle" >gDNA 2</text>
<text x="682.18" y="1108.8" font-size="26.5" text-anchor="middle" >for EBV</text>
<line x1="794.16" y1="1035.5" x2="794.16" y2="1045.5" stroke="#000" stroke-width="2.8" />
<text x="794.16" y="1076.4" font-size="26.5" text-anchor="middle" >gDNA 3</text>
<text x="794.16" y="1108.8" font-size="26.5" text-anchor="middle" >for EBV</text>
<line x1="906.14" y1="1035.5" x2="906.14" y2="1045.5" stroke="#000" stroke-width="2.8" />
<text x="906.14" y="1076.4" font-size="26.5" text-anchor="middle" >gDNA 4</text>
<text x="906.14" y="1108.8" font-size="26.5" text-anchor="middle" >for EBV</text>
<line x1="1018.12" y1="1035.5" x2="1018.12" y2="1045.5" stroke="#000" stroke-width="2.8" />
<text x="1018.12" y="1076.4" font-size="26.5" text-anchor="middle" >gDNA 1</text>
<text x="1018.12" y="1108.8" font-size="26.5" text-anchor="middle" >for EBV</text>
<line x1="1130.1" y1="1035.5" x2="1130.1" y2="1045.5" stroke="#000" stroke-width="2.8" />
<text x="1130.1" y="1076.4" font-size="26.5" text-anchor="middle" >gDNA 2</text>
<text x="1130.1" y="1108.8" font-size="26.5" text-anchor="middle" >for EBV</text>
<line x1="1242.08" y1="1035.5" x2="1242.08" y2="1045.5" stroke="#000" stroke-width="2.8" />
<text x="1242.08" y="1076.4" font-size="26.5" text-anchor="middle" >gDNA 3</text>
<text x="1242.08" y="1108.8" font-size="26.5" text-anchor="middle" >for EBV</text>
<line x1="1354.06" y1="1035.5" x2="1354.06" y2="1045.5" stroke="#000" stroke-width="2.8" />
<text x="1354.06" y="1076.4" font-size="26.5" text-anchor="middle" >gDNA 4</text>
<text x="1354.06" y="1108.8" font-size="26.5" text-anchor="middle" >for EBV</text>
<line x1="1466.04" y1="1035.5" x2="1466.04" y2="1045.5" stroke="#000" stroke-width="2.8" />
<text x="1466.04" y="1076.4" font-size="26.5" text-anchor="middle" >gDNA3</text>
<text x="1466.04" y="1108.8" font-size="26.5" text-anchor="middle" >for sepsis</text>
<line x1="1578.02" y1="1035.5" x2="1578.02" y2="1045.5" stroke="#000" stroke-width="2.8" />
<text x="1578.02" y="1076.4" font-size="26.5" text-anchor="middle" >gDNA3</text>
<text x="1578.02" y="1108.8" font-size="26.5" text-anchor="middle" >for organ</text>
<line x1="1690" y1="1035.5" x2="1690" y2="1045.5" stroke="#000" stroke-width="2.8" />
<text x="1690" y="1076.4" font-size="26.5" text-anchor="middle" >gDNA3</text>
<text x="1690" y="1108.8" font-size="26.5" text-anchor="middle" >for NTC</text>
<line x1="1248.5" y1="604.8" x2="1715" y2="604.8" stroke="#000" stroke-width="2.8" />
<line x1="1248.5" y1="621" x2="1596" y2="621" stroke="#000" stroke-width="2.8" />
<line x1="1247.5" y1="636.7" x2="1494" y2="636.7" stroke="#000" stroke-width="2.8" />
<text transform="translate(1437.7,675.7) scale(0.93,1.1)" font-size="40" font-weight="bold" letter-spacing="1.6">***</text>
<text transform="translate(1543,659.2) scale(0.93,1.1)" font-size="40" font-weight="bold" letter-spacing="1.6">***</text>
<text transform="translate(1656.5,645.1) scale(0.93,1.1)" font-size="40" font-weight="bold" letter-spacing="1.6">***</text>
<text x="535" y="630.6" font-size="32" text-anchor="start" >with</text>
<text x="535" y="669" font-size="32" text-anchor="start" >graphene interface</text>
<text x="964" y="632.6" font-size="32" text-anchor="start" >without</text>
<text x="964" y="672" font-size="32" text-anchor="start" >graphene interface</text>
<text transform="translate(445.3,825.2) rotate(-90)" font-size="35.2" text-anchor="middle">Normalized current / arb. units</text>
<text x="412.8" y="586.3" font-size="76" text-anchor="start" stroke="#000" stroke-width="1.1">d</text>
</g>
<g id="pe">
<g id="e1">
<path d="M232.2,1261.4 Q239.7,1273.3 246.7,1274.1 Q253.6,1274.9 260.5,1276 Q267.4,1277.2 268.8,1284.1 Q270.2,1290.9 274.3,1296.5 Q278.5,1302.1 285,1304.7 Q291.6,1307.2 284.7,1306 Q277.8,1304.7 271.7,1301.3 Q265.5,1297.9 259.8,1293.9 L254,1290" fill="none" stroke="#7e7e7e" stroke-width="1.5" stroke-linecap="round" stroke-linejoin="round" opacity="1.0"/>
<path d="M173.2,1314.6 Q162.3,1305.8 158.4,1311.6 Q154.5,1317.4 151.9,1323.9 Q149.3,1330.4 142.4,1329.2 Q135.5,1327.9 129.2,1325 Q122.8,1322.1 116.9,1318.4 Q111,1314.6 104.5,1311.9 Q98.1,1309.2 100.1,1315.9 Q102.1,1322.6 107.1,1327.5 L112,1332.5" fill="none" stroke="#999999" stroke-width="1.6" stroke-linecap="round" stroke-linejoin="round" opacity="1.0"/>
<path d="M197.6,1335.6 Q207.3,1325.5 207.6,1318.5 Q207.8,1311.5 213.7,1307.7 Q219.6,1303.8 221.4,1297.1 Q223.2,1290.3 224.8,1283.5 Q226.5,1276.7 232.5,1273.1 Q238.5,1269.5 241.9,1263.4 Q245.3,1257.3 248,1250.8 L250.8,1244.4" fill="none" stroke="#7e7e7e" stroke-width="1.5" stroke-linecap="round" stroke-linejoin="round" opacity="1.0"/>
<path d="M217.5,1257.1 Q226.8,1246.6 231.9,1241.8 Q237.1,1237.1 238.8,1230.3 Q240.6,1223.5 246.8,1226.8 Q253,1230 255.7,1236.5 Q258.5,1242.9 265.4,1243.5 Q272.4,1244.1 279.3,1245.2 L286.3,1246.3" fill="none" stroke="#8a8a8a" stroke-width="1.3" stroke-linecap="round" stroke-linejoin="round" opacity="1.0"/>
<path d="M298.7,1193 Q304.3,1205.8 310.2,1209.5 Q316.2,1213.2 321.4,1217.9 Q326.6,1222.6 333.2,1224.8 Q339.9,1226.9 346.2,1229.9 L352.6,1232.8" fill="none" stroke="#999999" stroke-width="1.2" stroke-linecap="round" stroke-linejoin="round" opacity="1.0"/>
<path d="M211,1346.1 Q219.5,1335 226.1,1332.7 Q232.7,1330.4 229,1324.4 Q225.3,1318.5 219.5,1314.6 Q213.7,1310.6 207.6,1307.2 Q201.5,1303.8 202,1296.8 Q202.5,1289.8 207,1284.4 Q211.4,1279 214.1,1272.6 Q216.8,1266.1 217.2,1259.1 Q217.7,1252.1 216.6,1245.2 Q215.4,1238.3 222,1235.9 L228.5,1233.4" fill="none" stroke="#8a8a8a" stroke-width="1.9" stroke-linecap="round" stroke-linejoin="round" opacity="1.0"/>
<path d="M312.8,1260.9 Q298.8,1262.5 291.9,1263.3 Q284.9,1264.2 278.9,1267.7 Q272.8,1271.2 266.8,1267.7 Q260.7,1264.2 257.6,1257.9 Q254.5,1251.6 251.3,1245.4 Q248.1,1239.2 249,1232.2 Q249.8,1225.3 248.6,1218.4 L247.3,1211.5" fill="none" stroke="#999999" stroke-width="1.8" stroke-linecap="round" stroke-linejoin="round" opacity="1.0"/>
<path d="M140.1,1325.3 Q139.1,1311.3 136.8,1304.7 Q134.4,1298.1 128,1295.3 Q121.6,1292.5 115.7,1288.7 Q109.8,1285 115.7,1281.3 Q121.7,1277.6 123.5,1270.8 Q125.3,1264.1 123.3,1257.4 Q121.2,1250.7 120.5,1243.7 Q119.7,1236.8 122,1230.2 Q124.2,1223.5 125.5,1216.7 Q126.7,1209.8 126.6,1202.8 L126.5,1195.8" fill="none" stroke="#8a8a8a" stroke-width="1.9" stroke-linecap="round" stroke-linejoin="round" opacity="1.0"/>
<path d="M193.9,1279 Q182.7,1270.6 178.2,1265.2 Q173.7,1259.9 166.8,1259.2 Q159.8,1258.4 155.9,1252.6 Q152,1246.8 149.1,1240.4 L146.3,1234.1" fill="none" stroke="#7e7e7e" stroke-width="1.8" stroke-linecap="round" stroke-linejoin="round" opacity="1.0"/>
<path d="M296.8,1259.4 Q309.1,1252.7 315.9,1254.6 Q322.6,1256.5 324.5,1249.7 Q326.3,1243 332,1238.9 Q337.7,1234.8 339,1227.9 L340.3,1221" fill="none" stroke="#8a8a8a" stroke-width="1.3" stroke-linecap="round" stroke-linejoin="round" opacity="1.0"/>
<path d="M204.1,1215.1 Q217.9,1212.6 224.2,1209.7 Q230.6,1206.7 236.5,1202.9 Q242.4,1199.2 243.2,1192.2 Q244.1,1185.3 250.3,1182.1 Q256.6,1179 256.6,1186 L256.7,1193" fill="none" stroke="#7e7e7e" stroke-width="1.4" stroke-linecap="round" stroke-linejoin="round" opacity="1.0"/>
<path d="M203.9,1275.7 Q191.2,1269.9 184.9,1266.9 Q178.5,1263.9 171.6,1265.2 Q164.8,1266.5 158.5,1269.7 Q152.3,1272.9 148.4,1278.7 L144.5,1284.5" fill="none" stroke="#999999" stroke-width="1.6" stroke-linecap="round" stroke-linejoin="round" opacity="1.0"/>
<path d="M171.2,1299.2 Q183.1,1306.5 180,1312.7 Q176.8,1319 177.8,1325.9 Q178.8,1332.8 185,1336.1 Q191.2,1339.4 196.1,1344.3 Q201,1349.3 197.8,1355.5 Q194.5,1361.7 199.7,1366.4 Q204.8,1371.2 210.7,1374.9 Q216.7,1378.6 223.7,1378.5 Q230.7,1378.5 230.5,1371.5 Q230.3,1364.5 234.5,1358.8 L238.6,1353.2" fill="none" stroke="#8a8a8a" stroke-width="1.6" stroke-linecap="round" stroke-linejoin="round" opacity="1.0"/>
<path d="M339.5,1270.6 Q339.3,1284.6 345.4,1288 Q351.6,1291.3 348.2,1285.1 Q344.8,1279 339.1,1275 L333.4,1271" fill="none" stroke="#7e7e7e" stroke-width="1.8" stroke-linecap="round" stroke-linejoin="round" opacity="1.0"/>
<path d="M193.2,1279.4 Q207.2,1279.7 214.2,1278.9 Q221.1,1278.1 228.1,1277.4 Q235,1276.8 239,1282.5 Q243,1288.3 243,1295.3 Q242.9,1302.3 240.5,1308.9 Q238.1,1315.4 239.2,1322.4 Q240.3,1329.3 247.2,1330.4 Q254.1,1331.6 257.8,1337.6 Q261.4,1343.6 259.2,1350.2 Q257,1356.9 255.6,1363.7 L254.2,1370.6" fill="none" stroke="#999999" stroke-width="1.9" stroke-linecap="round" stroke-linejoin="round" opacity="1.0"/>
<path d="M66.3,1308.2 Q76.4,1298.5 83.4,1298.7 Q90.4,1298.8 96.7,1301.9 Q103,1305 105.2,1311.7 Q107.4,1318.3 100.5,1319.7 L93.7,1321.1" fill="none" stroke="#999999" stroke-width="1.9" stroke-linecap="round" stroke-linejoin="round" opacity="1.0"/>
<path d="M124.7,1248.9 Q135.4,1257.9 136.2,1264.9 Q137,1271.8 144,1271.6 Q151,1271.5 148.6,1264.9 L146.2,1258.3" fill="none" stroke="#999999" stroke-width="1.1" stroke-linecap="round" stroke-linejoin="round" opacity="1.0"/>
<path d="M256,1247.6 Q262.4,1260 269.3,1261.5 Q276.1,1263 278.2,1256.4 Q280.3,1249.7 285.2,1244.6 Q290,1239.6 294.6,1234.2 Q299.1,1228.9 305.2,1225.6 Q311.4,1222.2 312.7,1215.3 Q313.9,1208.4 311.1,1202 L308.3,1195.6" fill="none" stroke="#999999" stroke-width="1.7" stroke-linecap="round" stroke-linejoin="round" opacity="1.0"/>
<path d="M125.7,1306.2 Q138.2,1312.6 133.5,1317.9 Q128.9,1323.1 132.4,1329.1 Q135.9,1335.2 134.1,1341.9 Q132.2,1348.7 130.9,1355.5 Q129.5,1362.4 126.5,1356.1 Q123.4,1349.8 116.6,1351.1 Q109.7,1352.4 103.9,1356.3 Q98.1,1360.3 91.1,1359.8 Q84.2,1359.3 89.8,1355.2 L95.4,1351" fill="none" stroke="#7e7e7e" stroke-width="1.7" stroke-linecap="round" stroke-linejoin="round" opacity="1.0"/>
<path d="M175.3,1198.2 Q187.1,1205.6 182.1,1200.7 Q177.2,1195.8 170.5,1193.7 Q163.8,1191.6 163.3,1184.7 Q162.8,1177.7 167.1,1183.2 Q171.4,1188.8 178.3,1187.8 Q185.2,1186.8 185.5,1193.8 Q185.8,1200.8 180,1204.8 Q174.3,1208.7 168,1211.8 L161.7,1214.8" fill="none" stroke="#999999" stroke-width="1.1" stroke-linecap="round" stroke-linejoin="round" opacity="1.0"/>
<path d="M235.7,1347.9 Q248.6,1342.6 250.3,1335.8 Q251.9,1329 256.4,1323.6 Q260.9,1318.2 261.5,1311.3 Q262.1,1304.3 268.2,1300.9 L274.3,1297.5" fill="none" stroke="#8a8a8a" stroke-width="1.9" stroke-linecap="round" stroke-linejoin="round" opacity="1.0"/>
<path d="M192.1,1371.9 Q205.9,1374.5 210.3,1380 Q214.7,1385.4 209,1381.4 Q203.2,1377.5 204.4,1384.4 Q205.7,1391.3 201.8,1385.4 Q198,1379.6 193.8,1374 Q189.6,1368.4 185.8,1362.5 Q182.1,1356.6 187.9,1352.7 Q193.7,1348.7 198.4,1343.5 L203.1,1338.4" fill="none" stroke="#7e7e7e" stroke-width="1.5" stroke-linecap="round" stroke-linejoin="round" opacity="1.0"/>
<path d="M301.8,1209.7 Q312.9,1218.3 319.6,1220.4 Q326.2,1222.5 327.9,1215.7 Q329.6,1208.9 336.6,1209.5 Q343.6,1210.1 347.6,1215.8 Q351.7,1221.5 350.2,1228.4 Q348.8,1235.2 343.7,1240 Q338.7,1244.9 333.2,1249.2 Q327.6,1253.5 321.4,1256.6 L315.1,1259.8" fill="none" stroke="#8a8a8a" stroke-width="1.8" stroke-linecap="round" stroke-linejoin="round" opacity="1.0"/>
<path d="M278.9,1179.3 Q269.9,1190 268.9,1196.9 Q268,1203.8 261,1203.8 Q254,1203.8 247.7,1200.7 Q241.5,1197.6 235.4,1194.1 L229.3,1190.7" fill="none" stroke="#999999" stroke-width="1.5" stroke-linecap="round" stroke-linejoin="round" opacity="1.0"/>
<path d="M93,1255.9 Q103.7,1246.8 108,1241.2 Q112.3,1235.7 117.1,1230.6 Q121.9,1225.6 117.5,1220.1 Q113.2,1214.6 107.7,1210.2 Q102.3,1205.8 95.3,1206.3 Q88.4,1206.9 95.3,1207.5 Q102.3,1208.1 108.1,1204.1 Q113.8,1200.1 120.8,1199.5 L127.7,1198.8" fill="none" stroke="#7e7e7e" stroke-width="1.1" stroke-linecap="round" stroke-linejoin="round" opacity="1.0"/>
<path d="M210.2,1303.8 Q205.5,1317 200.7,1322.1 Q196,1327.2 192.2,1321.3 Q188.4,1315.4 183.3,1310.6 Q178.3,1305.7 172.4,1301.9 Q166.6,1298 160,1300.5 Q153.4,1303 146.5,1303.5 Q139.5,1304 136.9,1310.5 Q134.3,1317 138.4,1322.7 Q142.4,1328.4 138.9,1334.4 Q135.3,1340.4 137.3,1347.2 L139.2,1353.9" fill="none" stroke="#7e7e7e" stroke-width="1.1" stroke-linecap="round" stroke-linejoin="round" opacity="1.0"/>
<path d="M234,1258.4 Q236.7,1272.2 241.4,1277.4 Q246.1,1282.6 252.6,1280 Q259.1,1277.4 265.7,1275 Q272.3,1272.7 276.1,1278.5 Q280,1284.4 278,1291.1 Q276.1,1297.8 279.8,1303.7 Q283.6,1309.7 277.1,1312.3 Q270.6,1315 266,1320.3 Q261.4,1325.5 255.5,1329.4 Q249.7,1333.2 244.6,1338.1 L239.6,1343" fill="none" stroke="#8a8a8a" stroke-width="1.3" stroke-linecap="round" stroke-linejoin="round" opacity="1.0"/>
<path d="M181.6,1330 Q195.6,1330.7 194.4,1337.7 Q193.3,1344.6 188.8,1349.9 Q184.3,1355.3 185.1,1348.3 Q186,1341.4 179.1,1340.2 Q172.2,1339 179.1,1338.2 Q186.1,1337.5 184.1,1330.8 Q182.1,1324.1 187.9,1320 Q193.6,1316 200.5,1317.1 Q207.4,1318.2 212.3,1323.2 Q217.3,1328.2 222.8,1332.4 L228.3,1336.7" fill="none" stroke="#999999" stroke-width="1.5" stroke-linecap="round" stroke-linejoin="round" opacity="1.0"/>
<path d="M254.9,1343.8 Q245.4,1333.5 238.4,1332.7 Q231.5,1331.8 227.3,1337.4 Q223.1,1343 219.2,1348.9 Q215.3,1354.7 212.4,1361 Q209.5,1367.4 213.5,1373.2 Q217.5,1378.9 220.9,1385 Q224.2,1391.2 231.2,1391.4 Q238.2,1391.6 231.8,1388.9 Q225.4,1386.1 223.9,1379.3 Q222.5,1372.4 227.3,1367.4 L232.2,1362.3" fill="none" stroke="#999999" stroke-width="1.2" stroke-linecap="round" stroke-linejoin="round" opacity="1.0"/>
<path d="M110.8,1297.6 Q107.6,1284 110.8,1277.8 Q114,1271.6 116.2,1264.9 Q118.3,1258.2 121.7,1252.1 Q125,1246 131.9,1244.8 Q138.8,1243.7 137.8,1236.7 Q136.7,1229.8 131.4,1225.3 Q126.1,1220.7 121.5,1215.4 Q117,1210 114.6,1203.5 Q112.2,1196.9 107.7,1191.5 L103.3,1186.1" fill="none" stroke="#999999" stroke-width="1.7" stroke-linecap="round" stroke-linejoin="round" opacity="1.0"/>
<path d="M287.6,1277 Q273.7,1278.6 275.5,1285.3 Q277.2,1292.1 271.5,1296.1 Q265.8,1300.2 258.8,1300.7 Q251.8,1301.2 248.9,1294.9 Q245.9,1288.5 241,1283.5 Q236,1278.6 230,1275.1 Q223.9,1271.6 217.7,1274.9 Q211.6,1278.2 213.1,1271.3 L214.7,1264.5" fill="none" stroke="#7e7e7e" stroke-width="2" stroke-linecap="round" stroke-linejoin="round" opacity="1.0"/>
<path d="M96.7,1231.3 Q105.7,1220.5 102.8,1214.2 Q99.9,1207.8 103.5,1201.8 Q107.1,1195.8 112.3,1191.1 Q117.5,1186.5 122.2,1191.7 Q126.8,1196.9 133.3,1199.6 Q139.7,1202.3 146.7,1202.1 Q153.7,1202 160.7,1201.5 L167.7,1201.1" fill="none" stroke="#999999" stroke-width="1.6" stroke-linecap="round" stroke-linejoin="round" opacity="1.0"/>
<path d="M226.4,1274.6 Q231.7,1287.5 228.9,1294 Q226.1,1300.4 231.9,1304.4 Q237.7,1308.3 243.4,1312.3 L249.2,1316.3" fill="none" stroke="#7e7e7e" stroke-width="1.6" stroke-linecap="round" stroke-linejoin="round" opacity="1.0"/>
<path d="M345.8,1237.7 Q339.5,1225.2 335.1,1219.7 Q330.8,1214.2 323.9,1212.7 Q317.1,1211.2 312,1206.4 L306.9,1201.6" fill="none" stroke="#7e7e7e" stroke-width="1.4" stroke-linecap="round" stroke-linejoin="round" opacity="1.0"/>
<path d="M227.6,1242.4 Q228.7,1228.4 234.4,1224.3 Q240,1220.2 240.9,1213.3 Q241.8,1206.3 242.5,1199.4 Q243.1,1192.4 236.2,1191.6 Q229.2,1190.8 223.9,1186.3 L218.5,1181.8" fill="none" stroke="#7e7e7e" stroke-width="1" stroke-linecap="round" stroke-linejoin="round" opacity="1.0"/>
<path d="M302.9,1284.5 Q289.1,1286.9 286.4,1293.3 Q283.8,1299.8 279.2,1305.1 Q274.5,1310.3 274.5,1317.3 Q274.5,1324.3 267.8,1322.3 Q261.1,1320.3 256.3,1315.1 Q251.5,1310 244.6,1309.1 L237.7,1308.1" fill="none" stroke="#999999" stroke-width="1.4" stroke-linecap="round" stroke-linejoin="round" opacity="1.0"/>
<path d="M202.9,1368.2 Q193.9,1357.5 188,1353.6 Q182.2,1349.8 177.3,1344.8 Q172.4,1339.8 179.3,1340.8 Q186.3,1341.8 193,1343.7 Q199.7,1345.7 206.3,1348 Q212.9,1350.3 209.7,1356.5 Q206.5,1362.7 209.5,1369 Q212.6,1375.3 219.3,1373.3 Q226.1,1371.3 228.6,1364.8 Q231.2,1358.3 226,1353.5 L220.8,1348.8" fill="none" stroke="#7e7e7e" stroke-width="1.8" stroke-linecap="round" stroke-linejoin="round" opacity="1.0"/>
<path d="M126.1,1286.6 Q116.9,1297.1 110.4,1299.7 Q103.9,1302.3 102.4,1309.1 Q100.8,1316 94.4,1318.8 Q88,1321.6 86.7,1328.4 Q85.4,1335.3 85.9,1342.3 Q86.3,1349.3 93.3,1350.3 Q100.2,1351.3 105.4,1346.7 Q110.6,1342 116.7,1345.4 L122.8,1348.9" fill="none" stroke="#999999" stroke-width="1.4" stroke-linecap="round" stroke-linejoin="round" opacity="1.0"/>
<path d="M255.7,1198.3 Q246.7,1187.5 241.8,1182.5 Q236.9,1177.5 243.9,1178.1 Q250.9,1178.7 250.8,1185.7 L250.6,1192.7" fill="none" stroke="#8a8a8a" stroke-width="1.6" stroke-linecap="round" stroke-linejoin="round" opacity="1.0"/>
<path d="M240.6,1393.2 Q234.7,1380.5 228.8,1376.7 Q223,1372.8 216,1373.4 Q209,1374 202.1,1375 Q195.2,1375.9 194.2,1369 Q193.3,1362.1 196.1,1355.7 Q198.9,1349.2 201.1,1342.6 Q203.3,1335.9 206.9,1329.9 Q210.5,1323.9 213.1,1317.4 Q215.7,1310.9 213.7,1304.2 L211.8,1297.5" fill="none" stroke="#8a8a8a" stroke-width="1.9" stroke-linecap="round" stroke-linejoin="round" opacity="1.0"/>
<path d="M214.6,1191 Q201.5,1186.3 195.1,1183.5 Q188.6,1180.7 183.8,1185.8 Q178.9,1190.8 177.4,1197.6 Q175.9,1204.5 176.3,1211.5 Q176.6,1218.5 183.2,1216.1 Q189.8,1213.7 196.5,1211.9 Q203.3,1210 210.2,1209.1 Q217.2,1208.2 223.9,1206.3 L230.7,1204.5" fill="none" stroke="#999999" stroke-width="1.3" stroke-linecap="round" stroke-linejoin="round" opacity="1.0"/>
<path d="M289.8,1218.2 Q303.8,1219.2 310.5,1221.1 Q317.2,1223.1 323.6,1225.9 Q330.1,1228.7 336.8,1230.6 Q343.5,1232.6 350.5,1231.8 Q357.4,1231 350.6,1232.7 Q343.8,1234.4 345,1241.3 L346.2,1248.2" fill="none" stroke="#8a8a8a" stroke-width="1.4" stroke-linecap="round" stroke-linejoin="round" opacity="1.0"/>
<path d="M259.8,1270.3 Q270.4,1261.2 277.3,1260.2 Q284.3,1259.3 291.1,1261 Q297.8,1262.7 304.2,1265.7 Q310.5,1268.6 314.7,1263 Q318.9,1257.4 325.3,1254.4 Q331.6,1251.4 337.3,1255.4 L343.1,1259.4" fill="none" stroke="#8a8a8a" stroke-width="1.9" stroke-linecap="round" stroke-linejoin="round" opacity="1.0"/>
<path d="M215.4,1292.9 Q227.3,1300.2 232.2,1295.2 Q237.1,1290.1 234.4,1283.7 Q231.7,1277.2 225.9,1273.2 Q220.2,1269.3 221.4,1262.4 Q222.7,1255.5 221.6,1248.6 Q220.5,1241.7 221.1,1234.7 Q221.7,1227.7 228.7,1228.3 Q235.7,1229 236,1236 Q236.3,1243 237.3,1249.9 L238.2,1256.8" fill="none" stroke="#7e7e7e" stroke-width="1" stroke-linecap="round" stroke-linejoin="round" opacity="1.0"/>
<path d="M98.8,1286.5 Q108.2,1276.1 115.2,1276.6 Q122.2,1277 127.8,1272.8 Q133.5,1268.7 138.9,1264.3 Q144.3,1259.9 151.3,1259.7 Q158.3,1259.5 164.5,1262.8 Q170.6,1266.2 171.3,1273.2 Q172.1,1280.1 170.4,1286.9 Q168.6,1293.7 168.8,1300.7 L169,1307.7" fill="none" stroke="#999999" stroke-width="1.7" stroke-linecap="round" stroke-linejoin="round" opacity="1.0"/>
<path d="M213.1,1262.3 Q214,1248.3 212.1,1241.6 Q210.3,1234.8 205.2,1230 Q200.2,1225.1 193.2,1225.2 L186.2,1225.3" fill="none" stroke="#7e7e7e" stroke-width="1.2" stroke-linecap="round" stroke-linejoin="round" opacity="1.0"/>
<path d="M320.7,1210.7 Q316.4,1197.4 318.9,1190.9 Q321.4,1184.3 315.4,1188 Q309.5,1191.6 303.9,1195.9 Q298.4,1200.2 291.5,1201.3 Q284.6,1202.5 278.2,1199.5 L271.9,1196.5" fill="none" stroke="#8a8a8a" stroke-width="1.1" stroke-linecap="round" stroke-linejoin="round" opacity="1.0"/>
<path d="M242,1319.6 Q230.8,1311.2 230,1304.2 Q229.3,1297.3 236.2,1297.8 Q243.2,1298.4 250.2,1297.9 Q257.2,1297.5 264.2,1296.7 Q271.1,1296 278.1,1296.4 Q285.1,1296.9 287.1,1303.6 Q289.1,1310.3 283.4,1306.3 Q277.7,1302.2 280.3,1295.7 Q282.9,1289.1 279.5,1283 Q276.2,1276.8 271.9,1271.3 L267.6,1265.8" fill="none" stroke="#8a8a8a" stroke-width="1" stroke-linecap="round" stroke-linejoin="round" opacity="1.0"/>
<path d="M104.9,1295.8 Q107.4,1282 104.6,1275.6 Q101.8,1269.2 95,1270.6 Q88.1,1272.1 95.1,1272.7 Q102.1,1273.4 108.1,1277 Q114.1,1280.6 117.9,1286.5 Q121.8,1292.3 127.7,1296 Q133.7,1299.7 134.3,1306.7 Q134.9,1313.7 137,1320.3 Q139.1,1327 134.7,1332.4 Q130.3,1337.9 131.2,1344.8 L132.2,1351.7" fill="none" stroke="#7e7e7e" stroke-width="1.2" stroke-linecap="round" stroke-linejoin="round" opacity="1.0"/>
<path d="M221.3,1275.6 Q218.4,1289.3 219.1,1296.3 Q219.8,1303.2 215.2,1308.5 Q210.6,1313.8 209.6,1320.7 L208.6,1327.6" fill="none" stroke="#999999" stroke-width="1.1" stroke-linecap="round" stroke-linejoin="round" opacity="1.0"/>
<path d="M287,1257.1 Q300.7,1260.3 300.4,1267.3 Q300.1,1274.3 300.5,1281.3 Q301,1288.3 294,1288.3 Q287,1288.4 280.1,1287.7 Q273.1,1287 267,1283.6 Q260.9,1280.2 254.1,1281.9 Q247.3,1283.5 248.3,1290.5 L249.4,1297.4" fill="none" stroke="#7e7e7e" stroke-width="1.3" stroke-linecap="round" stroke-linejoin="round" opacity="1.0"/>
<path d="M226.3,1285.7 Q237.3,1294.3 240.4,1300.6 Q243.5,1306.8 250.2,1309 Q256.9,1311.1 263.9,1311 Q270.9,1310.9 275,1305.2 L279.2,1299.6" fill="none" stroke="#8a8a8a" stroke-width="1.6" stroke-linecap="round" stroke-linejoin="round" opacity="1.0"/>
<path d="M300.9,1243.9 Q292.7,1232.5 286.5,1235.8 Q280.3,1239.1 279.3,1246 Q278.3,1252.9 279.6,1259.8 Q280.9,1266.7 274.8,1263.2 Q268.7,1259.8 267.4,1252.9 Q266,1246 264,1239.3 Q262,1232.6 264.4,1226 Q266.7,1219.5 272.4,1223.6 Q278.1,1227.7 284.5,1230.5 L290.9,1233.3" fill="none" stroke="#999999" stroke-width="1.4" stroke-linecap="round" stroke-linejoin="round" opacity="1.0"/>
<path d="M199,1209.7 Q203.6,1196.5 208.9,1191.9 Q214.1,1187.2 221.1,1186.5 Q228.1,1185.8 233.9,1189.6 Q239.7,1193.5 242.6,1199.9 L245.4,1206.3" fill="none" stroke="#8a8a8a" stroke-width="1.9" stroke-linecap="round" stroke-linejoin="round" opacity="1.0"/>
<path d="M325.2,1276.5 Q311.4,1274.5 305.3,1278.1 Q299.3,1281.6 294.5,1286.7 Q289.8,1291.9 288.4,1298.7 L287,1305.6" fill="none" stroke="#7e7e7e" stroke-width="1.7" stroke-linecap="round" stroke-linejoin="round" opacity="1.0"/>
<path d="M205.9,1343.9 Q197.2,1354.9 202.9,1358.9 Q208.6,1363 215.5,1361.7 Q222.3,1360.4 224.4,1353.7 Q226.5,1347 225.4,1340.1 Q224.4,1333.2 223.8,1326.2 Q223.3,1319.2 216.6,1321.4 Q209.9,1323.5 202.9,1323.6 L195.9,1323.6" fill="none" stroke="#7e7e7e" stroke-width="1.5" stroke-linecap="round" stroke-linejoin="round" opacity="1.0"/>
<path d="M316.7,1261.2 Q329.7,1266.5 336.6,1265.4 Q343.5,1264.3 342.7,1257.3 Q342,1250.3 341.1,1243.4 Q340.1,1236.5 347.1,1236.2 Q354.1,1235.9 353,1242.8 Q351.8,1249.7 344.9,1251.1 Q338.1,1252.6 331.7,1249.8 Q325.3,1246.9 318.5,1248.2 L311.6,1249.5" fill="none" stroke="#8a8a8a" stroke-width="1.8" stroke-linecap="round" stroke-linejoin="round" opacity="1.0"/>
<path d="M108.8,1355 Q108.2,1341 102.2,1337.3 Q96.3,1333.6 89.4,1332.2 Q82.6,1330.7 87.1,1325.3 Q91.6,1319.9 95.7,1314.3 Q99.9,1308.6 102.7,1302.2 Q105.6,1295.9 111,1291.5 Q116.5,1287.1 123.5,1286.9 Q130.5,1286.6 134,1280.6 Q137.6,1274.6 140,1268 L142.3,1261.4" fill="none" stroke="#999999" stroke-width="1.7" stroke-linecap="round" stroke-linejoin="round" opacity="1.0"/>
<path d="M290,1314 Q286.4,1300.5 281.7,1295.3 Q277,1290.1 281,1284.4 Q285,1278.6 278.6,1275.8 Q272.2,1272.9 265.3,1274.2 Q258.4,1275.5 252.9,1279.7 Q247.3,1284 240.4,1284.5 L233.4,1284.9" fill="none" stroke="#999999" stroke-width="1.6" stroke-linecap="round" stroke-linejoin="round" opacity="1.0"/>
<path d="M231.3,1290.8 Q217.6,1287.6 211.9,1291.6 Q206.1,1295.6 211.6,1299.9 Q217.1,1304.3 223.7,1306.6 Q230.3,1308.9 234,1303 Q237.7,1297.1 237.6,1290.1 Q237.4,1283.1 239.5,1276.4 Q241.7,1269.7 245.6,1263.9 Q249.5,1258.1 255.8,1261.1 Q262.1,1264.2 268.8,1266.1 L275.6,1267.9" fill="none" stroke="#999999" stroke-width="1.5" stroke-linecap="round" stroke-linejoin="round" opacity="1.0"/>
<path d="M138.8,1308.8 Q146.3,1298.1 140.3,1295.6 Q134.3,1293 131,1287.4 Q127.7,1281.9 123.8,1276.6 L119.9,1271.4" fill="none" stroke="#7a7a7a" stroke-width="4.6" stroke-linecap="round" stroke-linejoin="round" opacity="1.0"/>
<path d="M269.3,1355.1 Q259.8,1346.2 257.1,1340.3 Q254.3,1334.5 247.9,1335.7 L241.5,1336.8" fill="none" stroke="#6e6e6e" stroke-width="5.3" stroke-linecap="round" stroke-linejoin="round" opacity="1.0"/>
<path d="M227.3,1297.2 Q220.4,1308.2 223.7,1313.8 L227.1,1319.4" fill="none" stroke="#858585" stroke-width="7.1" stroke-linecap="round" stroke-linejoin="round" opacity="1.0"/>
<path d="M151.9,1197.8 Q149,1185.1 144.1,1180.9 Q139.1,1176.7 145.6,1177 L152.1,1177.2" fill="none" stroke="#7a7a7a" stroke-width="5.6" stroke-linecap="round" stroke-linejoin="round" opacity="1.0"/>
<path d="M170.1,1272.6 Q175.6,1260.8 171.9,1255.5 Q168.2,1250.1 162.6,1246.8 L157,1243.5" fill="none" stroke="#6e6e6e" stroke-width="4.9" stroke-linecap="round" stroke-linejoin="round" opacity="1.0"/>
<path d="M325.8,1218.6 Q313.3,1214.9 307.4,1212.2 L301.5,1209.6" fill="none" stroke="#909090" stroke-width="6.3" stroke-linecap="round" stroke-linejoin="round" opacity="1.0"/>
<path d="M179.8,1260.6 Q174.5,1272.5 176.9,1278.5 Q179.3,1284.6 178.1,1291 L176.9,1297.3" fill="none" stroke="#7a7a7a" stroke-width="4.9" stroke-linecap="round" stroke-linejoin="round" opacity="1.0"/>
<path d="M138.7,1236.5 Q151.4,1233.4 156.7,1237.1 L162,1240.9" fill="none" stroke="#909090" stroke-width="7.2" stroke-linecap="round" stroke-linejoin="round" opacity="1.0"/>
<path d="M191.8,1314.3 Q201.6,1305.7 207.5,1303 L213.5,1300.4" fill="none" stroke="#909090" stroke-width="4.1" stroke-linecap="round" stroke-linejoin="round" opacity="1.0"/>
<path d="M111.5,1328.6 Q106.4,1340.5 102.2,1345.6 Q98.1,1350.6 91.7,1351.5 Q85.2,1352.5 84,1346.1 L82.7,1339.7" fill="none" stroke="#6e6e6e" stroke-width="5.5" stroke-linecap="round" stroke-linejoin="round" opacity="1.0"/>
<path d="M297.2,1182.2 Q301,1194.6 306.9,1197.4 L312.8,1200.2" fill="none" stroke="#909090" stroke-width="6.6" stroke-linecap="round" stroke-linejoin="round" opacity="1.0"/>
<path d="M357,1207.2 Q349.9,1196.3 345.8,1191.3 Q341.6,1186.3 335.2,1187.3 L328.7,1188.3" fill="none" stroke="#6e6e6e" stroke-width="4.6" stroke-linecap="round" stroke-linejoin="round" opacity="1.0"/>
<path d="M126.9,1274.9 Q122.9,1287.3 120,1293.1 Q117,1298.8 120,1304.6 Q123,1310.4 119.7,1315.9 L116.3,1321.5" fill="none" stroke="#909090" stroke-width="7.9" stroke-linecap="round" stroke-linejoin="round" opacity="1.0"/>
<path d="M231.6,1235.4 Q229.7,1222.5 223.4,1221 Q217.1,1219.5 214.7,1213.4 L212.3,1207.4" fill="none" stroke="#7a7a7a" stroke-width="6.3" stroke-linecap="round" stroke-linejoin="round" opacity="1.0"/>
<path d="M355.2,1249.1 Q345.4,1257.6 340.3,1261.7 Q335.3,1265.8 329,1267.4 Q322.7,1269 317.8,1273.3 L312.9,1277.5" fill="none" stroke="#858585" stroke-width="6.6" stroke-linecap="round" stroke-linejoin="round" opacity="1.0"/>
<path d="M230.4,1288.4 Q218.4,1293.3 215,1298.8 Q211.6,1304.4 209.2,1310.4 L206.8,1316.5" fill="none" stroke="#858585" stroke-width="7.8" stroke-linecap="round" stroke-linejoin="round" opacity="1.0"/>
<path d="M184.2,1253.6 Q174.2,1261.9 169.6,1266.4 Q164.9,1271 167.3,1277 L169.7,1283.1" fill="none" stroke="#909090" stroke-width="6.1" stroke-linecap="round" stroke-linejoin="round" opacity="1.0"/>
<path d="M343.9,1214.5 Q356.6,1211.6 351,1214.9 Q345.4,1218.2 339.9,1221.7 L334.4,1225.1" fill="none" stroke="#858585" stroke-width="4.1" stroke-linecap="round" stroke-linejoin="round" opacity="1.0"/>
<path d="M218.7,1304.2 Q219.9,1317.2 214.8,1321.2 Q209.7,1325.2 203.9,1328.1 L198.1,1331.1" fill="none" stroke="#7a7a7a" stroke-width="6.2" stroke-linecap="round" stroke-linejoin="round" opacity="1.0"/>
<path d="M135.7,1287 Q136.1,1300 129.7,1299.6 Q123.2,1299.2 123.3,1292.7 L123.5,1286.2" fill="none" stroke="#909090" stroke-width="6.7" stroke-linecap="round" stroke-linejoin="round" opacity="1.0"/>
<path d="M355.4,1234.4 Q342.7,1231.9 337.4,1228.1 Q332,1224.4 329.6,1218.4 Q327.3,1212.3 324.5,1206.5 L321.7,1200.6" fill="none" stroke="#858585" stroke-width="4.4" stroke-linecap="round" stroke-linejoin="round" opacity="1.0"/>
<path d="M313.6,1229.4 Q321.5,1219.1 326.9,1215.5 L332.3,1211.9" fill="none" stroke="#909090" stroke-width="8.4" stroke-linecap="round" stroke-linejoin="round" opacity="1.0"/>
<path d="M260.1,1292.4 Q249.5,1284.8 249.4,1278.3 L249.2,1271.8" fill="none" stroke="#7a7a7a" stroke-width="5.3" stroke-linecap="round" stroke-linejoin="round" opacity="1.0"/>
<path d="M238.8,1350.8 Q239,1337.8 237.7,1331.4 Q236.4,1325.1 234.2,1319 Q231.9,1312.8 230.2,1306.6 L228.4,1300.3" fill="none" stroke="#909090" stroke-width="4.8" stroke-linecap="round" stroke-linejoin="round" opacity="1.0"/>
<path d="M155.3,1290.8 Q154.7,1303.7 152.2,1309.7 Q149.7,1315.7 149.6,1322.2 L149.5,1328.7" fill="none" stroke="#909090" stroke-width="8.1" stroke-linecap="round" stroke-linejoin="round" opacity="1.0"/>
<path d="M226.1,1387.5 Q227.8,1374.7 229.1,1368.3 Q230.3,1361.9 231.9,1355.6 L233.4,1349.3" fill="none" stroke="#909090" stroke-width="7" stroke-linecap="round" stroke-linejoin="round" opacity="1.0"/>
<path d="M130,1322.1 Q142.6,1319.1 145,1313.1 Q147.4,1307 141,1306.3 Q134.5,1305.6 129.8,1310 L125.1,1314.5" fill="none" stroke="#6e6e6e" stroke-width="7.6" stroke-linecap="round" stroke-linejoin="round" opacity="1.0"/>
<path d="M171.4,1189.7 Q180.3,1199.1 181.9,1205.4 L183.5,1211.7" fill="none" stroke="#6e6e6e" stroke-width="7.9" stroke-linecap="round" stroke-linejoin="round" opacity="1.0"/>
<path d="M206.5,1333.6 Q193.7,1331.3 189.8,1326.1 Q185.9,1320.9 181.8,1315.8 L177.7,1310.8" fill="none" stroke="#909090" stroke-width="7.2" stroke-linecap="round" stroke-linejoin="round" opacity="1.0"/>
<path d="M155.7,1290.4 Q155,1277.4 148.7,1275.7 Q142.5,1273.9 136.4,1271.5 L130.4,1269.1" fill="none" stroke="#7a7a7a" stroke-width="7.9" stroke-linecap="round" stroke-linejoin="round" opacity="1.0"/>
<path d="M311.6,1266.4 Q323.6,1271.5 329.7,1269.3 Q335.8,1267.1 339.5,1261.8 L343.2,1256.4" fill="none" stroke="#6e6e6e" stroke-width="8.3" stroke-linecap="round" stroke-linejoin="round" opacity="1.0"/>
<path d="M248.8,1286.5 Q245.9,1299.2 240.8,1303.3 Q235.7,1307.3 233.6,1313.5 L231.5,1319.6" fill="none" stroke="#7a7a7a" stroke-width="4.8" stroke-linecap="round" stroke-linejoin="round" opacity="1.0"/>
<path d="M210.6,1380.3 Q223.6,1379.3 228.4,1374.9 Q233.1,1370.5 232.9,1364 L232.7,1357.5" fill="none" stroke="#858585" stroke-width="5.7" stroke-linecap="round" stroke-linejoin="round" opacity="1.0"/>
<path d="M178.4,1220.8 Q185.2,1209.7 189.4,1204.7 Q193.5,1199.7 198.8,1195.9 Q204.1,1192.1 203.3,1198.5 L202.5,1205" fill="none" stroke="#6e6e6e" stroke-width="4.4" stroke-linecap="round" stroke-linejoin="round" opacity="1.0"/>
<path d="M275,1187.8 Q280.6,1199.6 286.8,1201.5 L293,1203.5" fill="none" stroke="#6e6e6e" stroke-width="7.3" stroke-linecap="round" stroke-linejoin="round" opacity="1.0"/>
<path d="M233.3,1323.2 Q223.7,1331.9 217.9,1334.8 L212.1,1337.8" fill="none" stroke="#909090" stroke-width="4.4" stroke-linecap="round" stroke-linejoin="round" opacity="1.0"/>
<path d="M69,1294.4 Q79,1302.7 84.8,1305.8 Q90.5,1308.9 97,1308.9 Q103.5,1308.9 108.6,1313 L113.6,1317" fill="none" stroke="#858585" stroke-width="5.5" stroke-linecap="round" stroke-linejoin="round" opacity="1.0"/>
<path d="M211.8,1199.4 Q223.1,1205.7 227.5,1210.5 Q231.9,1215.3 233.7,1221.6 Q235.5,1227.8 235.2,1234.3 L234.9,1240.8" fill="none" stroke="#7a7a7a" stroke-width="6.3" stroke-linecap="round" stroke-linejoin="round" opacity="1.0"/>
<path d="M171.9,1264.4 Q169.5,1277.2 168.1,1283.5 Q166.7,1289.9 169.6,1295.7 Q172.5,1301.5 177.6,1305.6 L182.7,1309.6" fill="none" stroke="#7a7a7a" stroke-width="5.7" stroke-linecap="round" stroke-linejoin="round" opacity="1.0"/>
<path d="M188.4,1311.5 Q195.8,1300.8 189.7,1298.5 Q183.7,1296.1 177.5,1294 L171.4,1291.8" fill="none" stroke="#858585" stroke-width="7.2" stroke-linecap="round" stroke-linejoin="round" opacity="1.0"/>
<path d="M266.5,1259.4 Q279.5,1260.1 286,1260.5 Q292.4,1260.9 295.9,1266.4 L299.3,1272" fill="none" stroke="#858585" stroke-width="6.7" stroke-linecap="round" stroke-linejoin="round" opacity="1.0"/>
<path d="M232.3,1284.3 Q223.7,1274.6 219.6,1269.5 L215.6,1264.5" fill="none" stroke="#7a7a7a" stroke-width="5.4" stroke-linecap="round" stroke-linejoin="round" opacity="1.0"/>
<path d="M324.5,1198.1 Q335.7,1191.4 338,1197.4 L340.3,1203.5" fill="none" stroke="#909090" stroke-width="6.9" stroke-linecap="round" stroke-linejoin="round" opacity="1.0"/>
<path d="M148.6,1295 Q160.2,1289.2 161.9,1283 Q163.7,1276.7 168.1,1272 L172.6,1267.2" fill="none" stroke="#858585" stroke-width="6.3" stroke-linecap="round" stroke-linejoin="round" opacity="1.0"/>
<path d="M89.4,1336.7 Q76.6,1339.1 79.9,1333.5 Q83.3,1327.9 77.5,1324.9 Q71.7,1322 66.2,1325.5 L60.7,1329" fill="none" stroke="#6e6e6e" stroke-width="7.2" stroke-linecap="round" stroke-linejoin="round" opacity="1.0"/>
<path d="M128.4,1270.7 Q138.2,1262.1 143,1257.8 Q147.9,1253.5 152.4,1248.8 Q156.9,1244.1 151.7,1240.2 L146.6,1236.2" fill="none" stroke="#909090" stroke-width="7.4" stroke-linecap="round" stroke-linejoin="round" opacity="1.0"/>
<path d="M209.5,1278.2 Q220.2,1285.6 226.7,1286.6 L233.1,1287.7" fill="none" stroke="#909090" stroke-width="5.6" stroke-linecap="round" stroke-linejoin="round" opacity="1.0"/>
<path d="M291.6,1304.9 Q284.3,1294.1 278,1295.8 Q271.7,1297.4 265.2,1297.8 Q258.7,1298.3 253.2,1301.7 L247.6,1305" fill="none" stroke="#858585" stroke-width="5.3" stroke-linecap="round" stroke-linejoin="round" opacity="1.0"/>
<path d="M135.7,1302.6 Q129.8,1314.2 123.6,1316.1 Q117.4,1318.1 112,1314.5 Q106.6,1310.9 100.9,1307.7 L95.3,1304.5" fill="none" stroke="#909090" stroke-width="6.7" stroke-linecap="round" stroke-linejoin="round" opacity="1.0"/>
<path d="M165.8,1253.6 Q162.3,1266.1 160.7,1272.4 Q159.1,1278.7 164.9,1281.6 Q170.7,1284.6 176.9,1282.6 L183.1,1280.6" fill="none" stroke="#7a7a7a" stroke-width="6.8" stroke-linecap="round" stroke-linejoin="round" opacity="1.0"/>
<path d="M338.6,1297.9 Q328.9,1289.2 330.8,1282.9 L332.7,1276.7" fill="none" stroke="#909090" stroke-width="4.8" stroke-linecap="round" stroke-linejoin="round" opacity="1.0"/>
<path d="M152.5,1293.9 Q162.7,1285.7 168.7,1288.2 L174.7,1290.7" fill="none" stroke="#909090" stroke-width="4.3" stroke-linecap="round" stroke-linejoin="round" opacity="1.0"/>
<path d="M116.4,1318.8 Q114,1306 117.8,1300.7 Q121.6,1295.5 123.6,1289.3 Q125.6,1283.1 122.3,1277.5 L119,1271.9" fill="none" stroke="#858585" stroke-width="7.1" stroke-linecap="round" stroke-linejoin="round" opacity="1.0"/>
<path d="M150.4,1298.5 Q160.2,1307.1 166.7,1307.8 Q173.1,1308.6 179.3,1306.7 L185.5,1304.7" fill="none" stroke="#858585" stroke-width="5.1" stroke-linecap="round" stroke-linejoin="round" opacity="1.0"/>
<path d="M159.8,1287 Q168.8,1296.3 174.8,1298.8 L180.8,1301.3" fill="none" stroke="#909090" stroke-width="8.1" stroke-linecap="round" stroke-linejoin="round" opacity="1.0"/>
<path d="M313.8,1283.9 Q310.6,1271.3 310.1,1264.8 Q309.6,1258.3 313.3,1253 Q317,1247.7 317.3,1241.2 L317.6,1234.7" fill="none" stroke="#6e6e6e" stroke-width="7.6" stroke-linecap="round" stroke-linejoin="round" opacity="1.0"/>
<path d="M183.3,1204.2 Q179.3,1191.8 176.7,1185.9 Q174,1180 176.5,1186 L179.1,1192" fill="none" stroke="#6e6e6e" stroke-width="4.3" stroke-linecap="round" stroke-linejoin="round" opacity="1.0"/>
<path d="M296.7,1178.2 Q304.5,1188.7 300.7,1194 L296.9,1199.3" fill="none" stroke="#858585" stroke-width="7" stroke-linecap="round" stroke-linejoin="round" opacity="1.0"/>
<path d="M220.3,1267 Q232.5,1271.5 236.3,1266.3 Q240.1,1261 245.9,1264.1 L251.6,1267.2" fill="none" stroke="#858585" stroke-width="4.4" stroke-linecap="round" stroke-linejoin="round" opacity="1.0"/>
<path d="M71.9,1308.6 Q82.1,1300.5 87.5,1296.8 Q92.9,1293.2 98.8,1290.4 L104.7,1287.7" fill="none" stroke="#909090" stroke-width="7.1" stroke-linecap="round" stroke-linejoin="round" opacity="1.0"/>
<path d="M208.2,1374 Q197.6,1381.6 200.7,1375.8 Q203.7,1370.1 209.9,1368 L216,1365.9" fill="none" stroke="#909090" stroke-width="7" stroke-linecap="round" stroke-linejoin="round" opacity="1.0"/>
<path d="M88,1355.4 Q75.1,1356.6 79.9,1360.9 Q84.8,1365.2 91.3,1365.5 L97.8,1365.8" fill="none" stroke="#6e6e6e" stroke-width="5.7" stroke-linecap="round" stroke-linejoin="round" opacity="1.0"/>
<path d="M225.4,1182.2 Q238,1178.9 239.3,1185.3 L240.6,1191.7" fill="none" stroke="#6e6e6e" stroke-width="8" stroke-linecap="round" stroke-linejoin="round" opacity="1.0"/>
<path d="M186.7,1245.9 Q180.9,1234.3 181,1227.8 L181.1,1221.3" fill="none" stroke="#7a7a7a" stroke-width="7.2" stroke-linecap="round" stroke-linejoin="round" opacity="1.0"/>
<path d="M81.1,1357.1 Q74.6,1345.9 73.6,1339.4 Q72.6,1333 73.9,1326.6 Q75.2,1320.3 72.2,1314.5 L69.2,1308.8" fill="none" stroke="#858585" stroke-width="4.6" stroke-linecap="round" stroke-linejoin="round" opacity="1.0"/>
<path d="M235.7,1319.9 Q233.8,1307.1 227.5,1305.7 L221.1,1304.3" fill="none" stroke="#6e6e6e" stroke-width="7.3" stroke-linecap="round" stroke-linejoin="round" opacity="1.0"/>
<path d="M196.6,1301 Q183.7,1298.8 180.2,1293.4 Q176.6,1288 172,1283.4 L167.4,1278.7" fill="none" stroke="#909090" stroke-width="7.1" stroke-linecap="round" stroke-linejoin="round" opacity="1.0"/>
<path d="M78.8,1240.5 Q73.1,1228.8 77.8,1224.4 L82.6,1220" fill="none" stroke="#6e6e6e" stroke-width="4.8" stroke-linecap="round" stroke-linejoin="round" opacity="1.0"/>
<path d="M273.7,1199.1 Q279.8,1210.6 285.5,1207.3 Q291.1,1204.1 295.6,1199.4 L300.1,1194.7" fill="none" stroke="#6e6e6e" stroke-width="8.3" stroke-linecap="round" stroke-linejoin="round" opacity="1.0"/>
<path d="M275.8,1257.8 Q284.9,1248.5 285,1255 Q285.1,1261.5 290.7,1264.9 Q296.2,1268.2 297.3,1274.6 L298.4,1281" fill="none" stroke="#909090" stroke-width="5.3" stroke-linecap="round" stroke-linejoin="round" opacity="1.0"/>
<path d="M309,1259.6 Q311.1,1272.4 315.3,1267.5 Q319.6,1262.6 318.8,1269 Q318.1,1275.5 313.6,1280.2 L309.2,1285" fill="none" stroke="#858585" stroke-width="7.1" stroke-linecap="round" stroke-linejoin="round" opacity="1.0"/>
<path d="M224.7,1249.1 Q237.2,1252.7 243.7,1253.6 L250.1,1254.4" fill="none" stroke="#6e6e6e" stroke-width="8.3" stroke-linecap="round" stroke-linejoin="round" opacity="1.0"/>
<path d="M252.7,1247.8 Q239.7,1248.4 240.5,1241.9 L241.3,1235.5" fill="none" stroke="#6e6e6e" stroke-width="6.3" stroke-linecap="round" stroke-linejoin="round" opacity="1.0"/>
<path d="M119.4,1348.7 Q128.5,1358 122,1358.5 L115.5,1359" fill="none" stroke="#909090" stroke-width="8.2" stroke-linecap="round" stroke-linejoin="round" opacity="1.0"/>
<path d="M361.2,1202.5 Q346.3,1200.8 341.8,1206.7 L337.2,1212.7" fill="none" stroke="#8c8c8c" stroke-width="6.4" stroke-linecap="round" stroke-linejoin="round" opacity="1.0"/>
<path d="M120.2,1235.7 Q128.5,1248.2 124.4,1242 Q120.3,1235.7 114.5,1230.9 L108.7,1226.1" fill="none" stroke="#8c8c8c" stroke-width="8.2" stroke-linecap="round" stroke-linejoin="round" opacity="1.0"/>
<path d="M267.4,1356.8 Q261,1343.3 254.2,1346.3 L247.3,1349.4" fill="none" stroke="#747474" stroke-width="7.8" stroke-linecap="round" stroke-linejoin="round" opacity="1.0"/>
<path d="M158,1332.8 Q143.6,1337.1 139.7,1343.5 L135.8,1350" fill="none" stroke="#747474" stroke-width="7.8" stroke-linecap="round" stroke-linejoin="round" opacity="1.0"/>
<path d="M221.3,1212.8 Q218.6,1227.5 225.5,1230.4 Q232.5,1233.2 229.2,1226.5 L225.8,1219.8" fill="none" stroke="#8c8c8c" stroke-width="7" stroke-linecap="round" stroke-linejoin="round" opacity="1.0"/>
<path d="M216.8,1206.4 Q223.4,1192.9 227.3,1186.5 L231.2,1180.1" fill="none" stroke="#747474" stroke-width="7.8" stroke-linecap="round" stroke-linejoin="round" opacity="1.0"/>
<path d="M88.1,1231.6 Q100.9,1239.5 104.3,1232.7 L107.6,1226" fill="none" stroke="#8c8c8c" stroke-width="8.6" stroke-linecap="round" stroke-linejoin="round" opacity="1.0"/>
<path d="M117.7,1315.6 Q117.1,1330.6 117.2,1338.1 L117.3,1345.6" fill="none" stroke="#808080" stroke-width="10" stroke-linecap="round" stroke-linejoin="round" opacity="1.0"/>
<path d="M192.7,1219.5 Q204.6,1210.4 207.6,1203.5 Q210.5,1196.6 217,1200.4 L223.5,1204.1" fill="none" stroke="#747474" stroke-width="8.5" stroke-linecap="round" stroke-linejoin="round" opacity="1.0"/>
<path d="M314.5,1193.3 Q322.1,1206.2 329.3,1208.3 Q336.5,1210.3 343,1206.4 L349.4,1202.5" fill="none" stroke="#808080" stroke-width="7.5" stroke-linecap="round" stroke-linejoin="round" opacity="1.0"/>
<path d="M139.1,1206.2 Q128.6,1217 131,1224.1 Q133.3,1231.2 126.5,1234.2 L119.6,1237.2" fill="none" stroke="#808080" stroke-width="9.9" stroke-linecap="round" stroke-linejoin="round" opacity="1.0"/>
<path d="M83.7,1222.1 Q97,1215 96.9,1207.5 L96.7,1200.1" fill="none" stroke="#808080" stroke-width="6.8" stroke-linecap="round" stroke-linejoin="round" opacity="1.0"/>
<path d="M98,1343 Q96.5,1357.9 95.4,1350.5 L94.3,1343.1" fill="none" stroke="#808080" stroke-width="9.2" stroke-linecap="round" stroke-linejoin="round" opacity="1.0"/>
<path d="M98.2,1209.4 Q112.2,1214.9 107.8,1220.9 Q103.4,1227 95.9,1226.1 L88.5,1225.2" fill="none" stroke="#8c8c8c" stroke-width="7.3" stroke-linecap="round" stroke-linejoin="round" opacity="1.0"/>
<path d="M243.7,1327.3 Q231,1335.3 223.6,1334.4 L216.1,1333.5" fill="none" stroke="#8c8c8c" stroke-width="8" stroke-linecap="round" stroke-linejoin="round" opacity="1.0"/>
<path d="M241.7,1316.6 Q254.4,1324.6 260.1,1329.6 Q265.7,1334.5 262.2,1341.1 L258.6,1347.7" fill="none" stroke="#8c8c8c" stroke-width="6.6" stroke-linecap="round" stroke-linejoin="round" opacity="1.0"/>
<path d="M97.2,1350.4 Q103.8,1337 111,1334.7 L118.1,1332.5" fill="none" stroke="#808080" stroke-width="8.7" stroke-linecap="round" stroke-linejoin="round" opacity="1.0"/>
<path d="M116.5,1357.2 Q130.3,1351.5 134.2,1357.9 L138.1,1364.3" fill="none" stroke="#747474" stroke-width="7.3" stroke-linecap="round" stroke-linejoin="round" opacity="1.0"/>
<path d="M278.9,1207.2 Q276.3,1221.9 280.8,1227.9 L285.3,1233.9" fill="none" stroke="#808080" stroke-width="8.2" stroke-linecap="round" stroke-linejoin="round" opacity="1.0"/>
<path d="M127.2,1371.5 Q120.4,1358.1 127.7,1356.2 Q135,1354.4 142.2,1352.5 L149.5,1350.7" fill="none" stroke="#8c8c8c" stroke-width="6.2" stroke-linecap="round" stroke-linejoin="round" opacity="1.0"/>
<path d="M202.1,1353.5 Q198.8,1368.1 196,1361.1 L193.2,1354.2" fill="none" stroke="#808080" stroke-width="8" stroke-linecap="round" stroke-linejoin="round" opacity="1.0"/>
<path d="M133,1368 Q121.4,1358.5 115.6,1353.6 L109.9,1348.8" fill="none" stroke="#8c8c8c" stroke-width="9.4" stroke-linecap="round" stroke-linejoin="round" opacity="1.0"/>
<path d="M206.4,1307.9 Q221.1,1310.8 228.3,1312.8 Q235.6,1314.7 243,1315.6 L250.5,1316.4" fill="none" stroke="#8c8c8c" stroke-width="7.6" stroke-linecap="round" stroke-linejoin="round" opacity="1.0"/>
<path d="M214.3,1219 Q213.6,1204.1 214,1196.6 Q214.3,1189.1 221.8,1188.6 L229.3,1188.1" fill="none" stroke="#747474" stroke-width="6.1" stroke-linecap="round" stroke-linejoin="round" opacity="1.0"/>
<path d="M221.6,1378.8 Q233.9,1387.4 229.7,1381.2 L225.5,1375" fill="none" stroke="#808080" stroke-width="8.1" stroke-linecap="round" stroke-linejoin="round" opacity="1.0"/>
<path d="M111.3,1309.4 Q97.3,1304 91.3,1308.5 L85.2,1312.9" fill="none" stroke="#747474" stroke-width="9.8" stroke-linecap="round" stroke-linejoin="round" opacity="1.0"/>
<path d="M115.9,1359.4 Q102.6,1352.4 95.2,1353.9 Q87.8,1355.3 93.6,1350.5 L99.3,1345.6" fill="none" stroke="#8c8c8c" stroke-width="9.1" stroke-linecap="round" stroke-linejoin="round" opacity="1.0"/>
<path d="M263.7,1212.9 Q248.7,1213.6 243.2,1208.5 L237.6,1203.5" fill="none" stroke="#808080" stroke-width="7.2" stroke-linecap="round" stroke-linejoin="round" opacity="1.0"/>
<path d="M266.9,1216.8 Q267,1201.8 261.9,1196.3 Q256.8,1190.8 249.8,1188.2 L242.8,1185.6" fill="none" stroke="#747474" stroke-width="6.7" stroke-linecap="round" stroke-linejoin="round" opacity="1.0"/>
<path d="M238.1,1181.4 Q243.9,1195.3 236.4,1196.1 Q229,1197 221.5,1196.4 L214,1195.9" fill="none" stroke="#747474" stroke-width="8.8" stroke-linecap="round" stroke-linejoin="round" opacity="1.0"/>
<path d="M201.6,1220.9 Q216.6,1222.2 224,1221.2 L231.4,1220.2" fill="none" stroke="#747474" stroke-width="6.9" stroke-linecap="round" stroke-linejoin="round" opacity="1.0"/>
<path d="M252.8,1354.4 Q248.9,1339.9 241.4,1338.7 L234,1337.5" fill="none" stroke="#808080" stroke-width="8.8" stroke-linecap="round" stroke-linejoin="round" opacity="1.0"/>
<path d="M239.9,1329.8 Q228.4,1320.1 222.5,1315.6 L216.5,1311" fill="none" stroke="#808080" stroke-width="8.3" stroke-linecap="round" stroke-linejoin="round" opacity="1.0"/>
<path d="M94.6,1215.2 Q81.1,1208.7 77.8,1215.4 Q74.4,1222.1 79.3,1227.8 L84.1,1233.6" fill="none" stroke="#8c8c8c" stroke-width="7.6" stroke-linecap="round" stroke-linejoin="round" opacity="1.0"/>
<path d="M113.5,1352.2 Q107.2,1365.8 99.7,1365.1 L92.3,1364.3" fill="none" stroke="#8c8c8c" stroke-width="8.1" stroke-linecap="round" stroke-linejoin="round" opacity="1.0"/>
<path d="M120,1298 C140,1288 170,1296 200,1300 C215,1302 235,1298 252,1300 L262,1318 C240,1322 215,1318 190,1318 C165,1318 140,1320 122,1312 Z" fill="#e8e8e8"/>
<ellipse cx="140" cy="1305" rx="7" ry="6" fill="#22dd22"/>
<ellipse cx="155" cy="1300" rx="8" ry="7" fill="#ee33ee"/>
<ellipse cx="175" cy="1310" rx="8" ry="5" fill="#33dd33"/>
<ellipse cx="215" cy="1298" rx="10" ry="8" fill="#ee44ee"/>
<ellipse cx="230" cy="1308" rx="7" ry="5" fill="#22cc22"/>
<ellipse cx="232" cy="1282" rx="9" ry="10" fill="#ee55ee"/>
<ellipse cx="268" cy="1278" rx="8" ry="8" fill="#ee44ee"/>
<ellipse cx="258" cy="1300" rx="6" ry="5" fill="#33cc33"/>
<ellipse cx="130" cy="1295" rx="5" ry="4" fill="#ee55ee"/>
<ellipse cx="200" cy="1312" rx="7" ry="4" fill="#33dd33"/>
<ellipse cx="300" cy="1296" rx="10" ry="6" fill="#f0f0f0"/>
<ellipse cx="325" cy="1290" rx="12" ry="5" fill="#eeeeee"/>
<line x1="143.7" y1="1294.5" x2="148.9" y2="1299.9" stroke="#1c1ca6" stroke-width="1.5"/>
<line x1="141.7" y1="1295.8" x2="148" y2="1304.2" stroke="#1c1ca6" stroke-width="1.5"/>
<line x1="144.7" y1="1295.7" x2="152.6" y2="1293" stroke="#1c1ca6" stroke-width="1.5"/>
<line x1="138.9" y1="1297.4" x2="135.8" y2="1292.3" stroke="#1c1ca6" stroke-width="1.5"/>
<line x1="139.5" y1="1298.1" x2="135.9" y2="1291.4" stroke="#1c1ca6" stroke-width="1.5"/>
<line x1="141.2" y1="1294" x2="146.6" y2="1293.3" stroke="#1c1ca6" stroke-width="1.5"/>
<line x1="138.6" y1="1292.4" x2="133.7" y2="1298.9" stroke="#1c1ca6" stroke-width="1.5"/>
<line x1="142.7" y1="1295.3" x2="146" y2="1291.7" stroke="#1c1ca6" stroke-width="1.5"/>
<line x1="152.2" y1="1284.1" x2="161.1" y2="1289.2" stroke="#1c1ca6" stroke-width="1.5"/>
<line x1="149.4" y1="1282.6" x2="146.9" y2="1277.8" stroke="#1c1ca6" stroke-width="1.5"/>
<line x1="153.3" y1="1281.1" x2="158.6" y2="1282.3" stroke="#1c1ca6" stroke-width="1.5"/>
<line x1="144.8" y1="1285.4" x2="152.2" y2="1280.4" stroke="#1c1ca6" stroke-width="1.5"/>
<line x1="154.2" y1="1287.5" x2="160" y2="1296.7" stroke="#1c1ca6" stroke-width="1.5"/>
<line x1="152.9" y1="1281" x2="156.9" y2="1282.4" stroke="#1c1ca6" stroke-width="1.5"/>
<line x1="144.7" y1="1286" x2="142.5" y2="1291.8" stroke="#1c1ca6" stroke-width="1.5"/>
<line x1="148.7" y1="1284.9" x2="158.4" y2="1286.5" stroke="#1c1ca6" stroke-width="1.5"/>
<line x1="159.4" y1="1278.8" x2="159" y2="1273.4" stroke="#1c1ca6" stroke-width="1.5"/>
<line x1="160.4" y1="1280.3" x2="163.8" y2="1277.7" stroke="#1c1ca6" stroke-width="1.5"/>
<line x1="163.9" y1="1280.8" x2="167.3" y2="1283.1" stroke="#1c1ca6" stroke-width="1.5"/>
<line x1="164.6" y1="1278.4" x2="154.7" y2="1278.8" stroke="#1c1ca6" stroke-width="1.5"/>
<line x1="165.8" y1="1273.2" x2="165.2" y2="1284" stroke="#1c1ca6" stroke-width="1.5"/>
<line x1="157.2" y1="1276.1" x2="151.5" y2="1278.5" stroke="#1c1ca6" stroke-width="1.5"/>
<line x1="166.5" y1="1283.1" x2="172.8" y2="1285.9" stroke="#1c1ca6" stroke-width="1.5"/>
<line x1="164.1" y1="1281.7" x2="163.7" y2="1273.9" stroke="#1c1ca6" stroke-width="1.5"/>
<line x1="178.9" y1="1273" x2="180.9" y2="1262.7" stroke="#1c1ca6" stroke-width="1.5"/>
<line x1="179.2" y1="1273.9" x2="183.6" y2="1279.5" stroke="#1c1ca6" stroke-width="1.5"/>
<line x1="174.1" y1="1271.5" x2="174.4" y2="1267.3" stroke="#1c1ca6" stroke-width="1.5"/>
<line x1="173.7" y1="1277" x2="178.7" y2="1277" stroke="#1c1ca6" stroke-width="1.5"/>
<line x1="178.2" y1="1271.6" x2="187.6" y2="1275.4" stroke="#1c1ca6" stroke-width="1.5"/>
<line x1="185.7" y1="1270.5" x2="181.2" y2="1270.6" stroke="#1c1ca6" stroke-width="1.5"/>
<line x1="175.5" y1="1272.2" x2="180.2" y2="1273.3" stroke="#1c1ca6" stroke-width="1.5"/>
<line x1="181.3" y1="1273.1" x2="177.4" y2="1280.6" stroke="#1c1ca6" stroke-width="1.5"/>
<line x1="193" y1="1266.6" x2="190.3" y2="1272.8" stroke="#1c1ca6" stroke-width="1.5"/>
<line x1="190.2" y1="1274.7" x2="197" y2="1278.8" stroke="#1c1ca6" stroke-width="1.5"/>
<line x1="194.4" y1="1276.1" x2="193.1" y2="1271.8" stroke="#1c1ca6" stroke-width="1.5"/>
<line x1="189.8" y1="1271.5" x2="194.3" y2="1277.2" stroke="#1c1ca6" stroke-width="1.5"/>
<line x1="191.7" y1="1273.8" x2="189.8" y2="1264.3" stroke="#1c1ca6" stroke-width="1.5"/>
<line x1="191.8" y1="1273.7" x2="193.2" y2="1268.1" stroke="#1c1ca6" stroke-width="1.5"/>
<line x1="190.1" y1="1270.8" x2="184.1" y2="1270.9" stroke="#1c1ca6" stroke-width="1.5"/>
<line x1="197.5" y1="1279.4" x2="198" y2="1287.7" stroke="#1c1ca6" stroke-width="1.5"/>
<line x1="206.4" y1="1278.7" x2="204" y2="1288" stroke="#1c1ca6" stroke-width="1.5"/>
<line x1="205.5" y1="1272.5" x2="202" y2="1265.7" stroke="#1c1ca6" stroke-width="1.5"/>
<line x1="202.8" y1="1277.4" x2="207.9" y2="1280.9" stroke="#1c1ca6" stroke-width="1.5"/>
<line x1="207.5" y1="1277.9" x2="212.9" y2="1285.9" stroke="#1c1ca6" stroke-width="1.5"/>
<line x1="203.7" y1="1276.5" x2="211.2" y2="1271.1" stroke="#1c1ca6" stroke-width="1.5"/>
<line x1="204.6" y1="1278.2" x2="199.7" y2="1286" stroke="#1c1ca6" stroke-width="1.5"/>
<line x1="201" y1="1279.7" x2="207.3" y2="1273.5" stroke="#1c1ca6" stroke-width="1.5"/>
<line x1="204.4" y1="1275.3" x2="205.9" y2="1268.3" stroke="#1c1ca6" stroke-width="1.5"/>
<line x1="214.8" y1="1280.5" x2="205.7" y2="1277.2" stroke="#1c1ca6" stroke-width="1.5"/>
<line x1="214.5" y1="1283" x2="204.3" y2="1283.3" stroke="#1c1ca6" stroke-width="1.5"/>
<line x1="213.4" y1="1284.4" x2="210.2" y2="1287.8" stroke="#1c1ca6" stroke-width="1.5"/>
<line x1="218.9" y1="1286" x2="209.9" y2="1290.3" stroke="#1c1ca6" stroke-width="1.5"/>
<line x1="220.8" y1="1283.5" x2="214.3" y2="1287.5" stroke="#1c1ca6" stroke-width="1.5"/>
<line x1="217.6" y1="1284.9" x2="221" y2="1280.9" stroke="#1c1ca6" stroke-width="1.5"/>
<line x1="216.5" y1="1279.7" x2="206" y2="1282.4" stroke="#1c1ca6" stroke-width="1.5"/>
<line x1="220.9" y1="1281.5" x2="216.2" y2="1280.4" stroke="#1c1ca6" stroke-width="1.5"/>
<line x1="231.6" y1="1283.3" x2="229.9" y2="1275.7" stroke="#1c1ca6" stroke-width="1.5"/>
<line x1="228.9" y1="1280.9" x2="235.2" y2="1274" stroke="#1c1ca6" stroke-width="1.5"/>
<line x1="229.2" y1="1285.5" x2="228.3" y2="1274.7" stroke="#1c1ca6" stroke-width="1.5"/>
<line x1="235.3" y1="1282.2" x2="230.4" y2="1288" stroke="#1c1ca6" stroke-width="1.5"/>
<line x1="233.3" y1="1281.7" x2="234.6" y2="1288.3" stroke="#1c1ca6" stroke-width="1.5"/>
<line x1="229.4" y1="1278.6" x2="233.7" y2="1279.4" stroke="#1c1ca6" stroke-width="1.5"/>
<line x1="230.9" y1="1286" x2="238.9" y2="1279.1" stroke="#1c1ca6" stroke-width="1.5"/>
<line x1="234.1" y1="1285.8" x2="230.7" y2="1289.6" stroke="#1c1ca6" stroke-width="1.5"/>
<line x1="248.8" y1="1281.2" x2="243.8" y2="1273" stroke="#1c1ca6" stroke-width="1.5"/>
<line x1="248.1" y1="1280.8" x2="255.8" y2="1287.8" stroke="#1c1ca6" stroke-width="1.5"/>
<line x1="248.3" y1="1283.6" x2="244.6" y2="1287.4" stroke="#1c1ca6" stroke-width="1.5"/>
<line x1="250" y1="1275.4" x2="245.9" y2="1283.3" stroke="#1c1ca6" stroke-width="1.5"/>
<line x1="246.5" y1="1280.8" x2="251.6" y2="1279.8" stroke="#1c1ca6" stroke-width="1.5"/>
<line x1="247.9" y1="1279.8" x2="254.8" y2="1276.9" stroke="#1c1ca6" stroke-width="1.5"/>
<line x1="250.1" y1="1280.4" x2="244.5" y2="1276.6" stroke="#1c1ca6" stroke-width="1.5"/>
<line x1="250.4" y1="1279.9" x2="244.2" y2="1285" stroke="#1c1ca6" stroke-width="1.5"/>
<line x1="262.9" y1="1284.6" x2="271.8" y2="1279" stroke="#1c1ca6" stroke-width="1.5"/>
<line x1="266" y1="1278.6" x2="259.3" y2="1277.5" stroke="#1c1ca6" stroke-width="1.5"/>
<line x1="265.8" y1="1275.3" x2="267.6" y2="1269.8" stroke="#1c1ca6" stroke-width="1.5"/>
<line x1="260.3" y1="1279.3" x2="258.8" y2="1272.4" stroke="#1c1ca6" stroke-width="1.5"/>
<line x1="261.6" y1="1281.2" x2="263.7" y2="1284.7" stroke="#1c1ca6" stroke-width="1.5"/>
<line x1="266" y1="1279.1" x2="270.6" y2="1273.9" stroke="#1c1ca6" stroke-width="1.5"/>
<line x1="261.5" y1="1281.4" x2="269.6" y2="1282.8" stroke="#1c1ca6" stroke-width="1.5"/>
<line x1="263.1" y1="1277.9" x2="267.7" y2="1282.6" stroke="#1c1ca6" stroke-width="1.5"/>
<line x1="277.7" y1="1285.3" x2="282.7" y2="1281" stroke="#1c1ca6" stroke-width="1.5"/>
<line x1="282.5" y1="1288.4" x2="289.2" y2="1288.5" stroke="#1c1ca6" stroke-width="1.5"/>
<line x1="287.9" y1="1291.8" x2="295.4" y2="1294.3" stroke="#1c1ca6" stroke-width="1.5"/>
<line x1="277.4" y1="1289.9" x2="272.1" y2="1296.7" stroke="#1c1ca6" stroke-width="1.5"/>
<line x1="282.8" y1="1290.7" x2="289.9" y2="1284.8" stroke="#1c1ca6" stroke-width="1.5"/>
<line x1="281" y1="1291.9" x2="285.3" y2="1289.5" stroke="#1c1ca6" stroke-width="1.5"/>
<line x1="283.8" y1="1288.6" x2="276.3" y2="1293.2" stroke="#1c1ca6" stroke-width="1.5"/>
<line x1="278.3" y1="1286.1" x2="278.6" y2="1281.6" stroke="#1c1ca6" stroke-width="1.5"/>
<line x1="295.1" y1="1301.7" x2="295.1" y2="1310.8" stroke="#1c1ca6" stroke-width="1.5"/>
<line x1="293.3" y1="1301.1" x2="290.6" y2="1310.5" stroke="#1c1ca6" stroke-width="1.5"/>
<line x1="293.6" y1="1304.8" x2="293.7" y2="1309" stroke="#1c1ca6" stroke-width="1.5"/>
<line x1="288.5" y1="1293.4" x2="293.9" y2="1292.5" stroke="#1c1ca6" stroke-width="1.5"/>
<line x1="294.9" y1="1299.6" x2="292.5" y2="1305.8" stroke="#1c1ca6" stroke-width="1.5"/>
<line x1="293.3" y1="1298.7" x2="298.8" y2="1299.5" stroke="#1c1ca6" stroke-width="1.5"/>
<line x1="291.6" y1="1301" x2="290.5" y2="1309.6" stroke="#1c1ca6" stroke-width="1.5"/>
<line x1="293.5" y1="1298.4" x2="287.1" y2="1304.7" stroke="#1c1ca6" stroke-width="1.5"/>
<line x1="304.7" y1="1310" x2="307" y2="1314.7" stroke="#1c1ca6" stroke-width="1.5"/>
<line x1="302.8" y1="1307.4" x2="310.3" y2="1301.6" stroke="#1c1ca6" stroke-width="1.5"/>
<line x1="301.2" y1="1305.2" x2="308" y2="1299.6" stroke="#1c1ca6" stroke-width="1.5"/>
<line x1="297.9" y1="1308.3" x2="293.1" y2="1312.5" stroke="#1c1ca6" stroke-width="1.5"/>
<line x1="303.5" y1="1308.1" x2="300.8" y2="1297.9" stroke="#1c1ca6" stroke-width="1.5"/>
<line x1="306.3" y1="1308.1" x2="299" y2="1315.7" stroke="#1c1ca6" stroke-width="1.5"/>
<line x1="304.4" y1="1304.6" x2="310.4" y2="1308.5" stroke="#1c1ca6" stroke-width="1.5"/>
<line x1="307.3" y1="1306.9" x2="310.9" y2="1303.3" stroke="#1c1ca6" stroke-width="1.5"/>
<line x1="321" y1="1315.8" x2="326.7" y2="1323.8" stroke="#1c1ca6" stroke-width="1.5"/>
<line x1="316.7" y1="1311.2" x2="319.7" y2="1318.2" stroke="#1c1ca6" stroke-width="1.5"/>
<line x1="313.6" y1="1311.9" x2="307.6" y2="1307.1" stroke="#1c1ca6" stroke-width="1.5"/>
<line x1="314.4" y1="1308.2" x2="307.3" y2="1315.6" stroke="#1c1ca6" stroke-width="1.5"/>
<line x1="313" y1="1314.2" x2="312.7" y2="1320" stroke="#1c1ca6" stroke-width="1.5"/>
<line x1="323.5" y1="1309.9" x2="329" y2="1303.9" stroke="#1c1ca6" stroke-width="1.5"/>
<line x1="313.7" y1="1315.9" x2="322.4" y2="1312.5" stroke="#1c1ca6" stroke-width="1.5"/>
<line x1="317.2" y1="1307.5" x2="315.9" y2="1300.4" stroke="#1c1ca6" stroke-width="1.5"/>
<line x1="324.9" y1="1316.7" x2="333.5" y2="1317.9" stroke="#1c1ca6" stroke-width="1.5"/>
<line x1="334" y1="1316.6" x2="333.2" y2="1326.3" stroke="#1c1ca6" stroke-width="1.5"/>
<line x1="328.9" y1="1317.1" x2="333.9" y2="1315.9" stroke="#1c1ca6" stroke-width="1.5"/>
<line x1="330.8" y1="1317.4" x2="327.7" y2="1321.1" stroke="#1c1ca6" stroke-width="1.5"/>
<line x1="329.9" y1="1314.8" x2="335.9" y2="1312.2" stroke="#1c1ca6" stroke-width="1.5"/>
<line x1="330.4" y1="1317.4" x2="330" y2="1307.8" stroke="#1c1ca6" stroke-width="1.5"/>
<line x1="334.9" y1="1315.8" x2="339.8" y2="1319.3" stroke="#1c1ca6" stroke-width="1.5"/>
<line x1="325.4" y1="1320.8" x2="321.7" y2="1328" stroke="#1c1ca6" stroke-width="1.5"/>
<line x1="341.8" y1="1327.4" x2="343.8" y2="1323.8" stroke="#1c1ca6" stroke-width="1.5"/>
<line x1="345.2" y1="1321.3" x2="350.8" y2="1315" stroke="#1c1ca6" stroke-width="1.5"/>
<line x1="335.8" y1="1324.7" x2="337.8" y2="1334.9" stroke="#1c1ca6" stroke-width="1.5"/>
<line x1="338.5" y1="1328.2" x2="334.5" y2="1319.5" stroke="#1c1ca6" stroke-width="1.5"/>
<line x1="340.2" y1="1324" x2="346" y2="1325.7" stroke="#1c1ca6" stroke-width="1.5"/>
<line x1="340.8" y1="1321.2" x2="332.5" y2="1316.6" stroke="#1c1ca6" stroke-width="1.5"/>
<line x1="341" y1="1325.7" x2="348.1" y2="1324.9" stroke="#1c1ca6" stroke-width="1.5"/>
<line x1="339.5" y1="1326.1" x2="332.2" y2="1321.1" stroke="#1c1ca6" stroke-width="1.5"/>
<line x1="344.2" y1="1327.4" x2="337.5" y2="1319.3" stroke="#1c1ca6" stroke-width="1.5"/>
<line x1="341.1" y1="1324.7" x2="331.5" y2="1324" stroke="#1c1ca6" stroke-width="1.5"/>
<line x1="344.4" y1="1321.2" x2="335" y2="1325.2" stroke="#1c1ca6" stroke-width="1.5"/>
<line x1="341.5" y1="1320.9" x2="339.5" y2="1312.8" stroke="#1c1ca6" stroke-width="1.5"/>
<line x1="353.2" y1="1338.5" x2="343.1" y2="1335.1" stroke="#1c1ca6" stroke-width="1.5"/>
<line x1="348.6" y1="1333.2" x2="354.2" y2="1337.7" stroke="#1c1ca6" stroke-width="1.5"/>
<line x1="349.9" y1="1337.5" x2="345.6" y2="1333.4" stroke="#1c1ca6" stroke-width="1.5"/>
<line x1="347.4" y1="1337.5" x2="352.4" y2="1341.5" stroke="#1c1ca6" stroke-width="1.5"/>
<line x1="353.2" y1="1331.9" x2="351.4" y2="1342.3" stroke="#1c1ca6" stroke-width="1.5"/>
<line x1="346" y1="1334.4" x2="355.8" y2="1337.3" stroke="#1c1ca6" stroke-width="1.5"/>
<line x1="353.2" y1="1336.1" x2="352.7" y2="1325.2" stroke="#1c1ca6" stroke-width="1.5"/>
<line x1="348.9" y1="1337" x2="358.2" y2="1331.4" stroke="#1c1ca6" stroke-width="1.5"/>
<line x1="348.2" y1="1336" x2="352.1" y2="1330.5" stroke="#1c1ca6" stroke-width="1.5"/>
<line x1="350.5" y1="1337.7" x2="354.5" y2="1338.6" stroke="#1c1ca6" stroke-width="1.5"/>
<line x1="345.2" y1="1333.4" x2="345.2" y2="1322.7" stroke="#1c1ca6" stroke-width="1.5"/>
<line x1="346" y1="1332.4" x2="340" y2="1325.5" stroke="#1c1ca6" stroke-width="1.5"/>
<line x1="344.9" y1="1350.7" x2="353.6" y2="1354.2" stroke="#1c1ca6" stroke-width="1.5"/>
<line x1="351.8" y1="1350.9" x2="347.9" y2="1351.8" stroke="#1c1ca6" stroke-width="1.5"/>
<line x1="345.1" y1="1352.3" x2="350.3" y2="1354.9" stroke="#1c1ca6" stroke-width="1.5"/>
<line x1="349.7" y1="1343.9" x2="348.3" y2="1339" stroke="#1c1ca6" stroke-width="1.5"/>
<line x1="345.6" y1="1353" x2="350.2" y2="1351.4" stroke="#1c1ca6" stroke-width="1.5"/>
<line x1="343" y1="1351.4" x2="344" y2="1356.5" stroke="#1c1ca6" stroke-width="1.5"/>
<path d="M140,1296 C150,1280 170,1270 190,1272 C210,1274 222,1286 240,1282 C258,1277 275,1278 290,1295 C300,1305 325,1312 345,1322 C356,1332 350,1360 342,1380 C335,1400 335,1418 342,1420 C352,1415 355,1380 350,1345" fill="none" stroke="#8b1a7a" stroke-width="5.5"/>
<path d="M300,1300 C318,1312 335,1318 338,1335 C340,1355 328,1375 326,1395 C325,1410 332,1420 340,1421" fill="none" stroke="#7a1470" stroke-width="4.5"/>
<line x1="349.2" y1="1356.9" x2="350.4" y2="1364.1" stroke="#1c1ca6" stroke-width="1.5"/>
<line x1="348.3" y1="1349" x2="350.6" y2="1353.1" stroke="#1c1ca6" stroke-width="1.5"/>
<line x1="344.3" y1="1351.7" x2="334.3" y2="1352.9" stroke="#1c1ca6" stroke-width="1.5"/>
<line x1="352.8" y1="1355.8" x2="357.2" y2="1356.8" stroke="#1c1ca6" stroke-width="1.5"/>
<line x1="348.2" y1="1349.5" x2="346.3" y2="1345.3" stroke="#1c1ca6" stroke-width="1.5"/>
<line x1="349" y1="1354.6" x2="342" y2="1351.4" stroke="#1c1ca6" stroke-width="1.5"/>
<line x1="339.8" y1="1360.3" x2="342.5" y2="1367.8" stroke="#1c1ca6" stroke-width="1.5"/>
<line x1="344.4" y1="1361.8" x2="352.5" y2="1360.6" stroke="#1c1ca6" stroke-width="1.5"/>
<line x1="348.9" y1="1361.9" x2="354.4" y2="1368" stroke="#1c1ca6" stroke-width="1.5"/>
<line x1="347.6" y1="1360.7" x2="349.9" y2="1364.1" stroke="#1c1ca6" stroke-width="1.5"/>
<line x1="345.6" y1="1366.4" x2="345.7" y2="1360.4" stroke="#1c1ca6" stroke-width="1.5"/>
<line x1="342.9" y1="1366.4" x2="335" y2="1360.5" stroke="#1c1ca6" stroke-width="1.5"/>
<line x1="343.9" y1="1366.1" x2="343.3" y2="1375" stroke="#1c1ca6" stroke-width="1.5"/>
<line x1="344.9" y1="1369.4" x2="350.9" y2="1374.4" stroke="#1c1ca6" stroke-width="1.5"/>
<line x1="340.4" y1="1364.7" x2="335.2" y2="1371.9" stroke="#1c1ca6" stroke-width="1.5"/>
<line x1="347.6" y1="1364.3" x2="352.2" y2="1368.2" stroke="#1c1ca6" stroke-width="1.5"/>
<line x1="347.1" y1="1365.6" x2="354" y2="1358.2" stroke="#1c1ca6" stroke-width="1.5"/>
<line x1="339.4" y1="1368.4" x2="337.3" y2="1362.6" stroke="#1c1ca6" stroke-width="1.5"/>
<line x1="336.7" y1="1382.5" x2="335.6" y2="1373.7" stroke="#1c1ca6" stroke-width="1.5"/>
<line x1="336.4" y1="1382.4" x2="334.1" y2="1386.6" stroke="#1c1ca6" stroke-width="1.5"/>
<line x1="337.3" y1="1380.7" x2="333.4" y2="1376.3" stroke="#1c1ca6" stroke-width="1.5"/>
<line x1="338.8" y1="1382" x2="341.2" y2="1378.6" stroke="#1c1ca6" stroke-width="1.5"/>
<line x1="339.1" y1="1376.6" x2="333" y2="1378.7" stroke="#1c1ca6" stroke-width="1.5"/>
<line x1="339.4" y1="1377.3" x2="332.2" y2="1373.4" stroke="#1c1ca6" stroke-width="1.5"/>
<line x1="339.1" y1="1384.7" x2="329.8" y2="1384.6" stroke="#1c1ca6" stroke-width="1.5"/>
<line x1="341" y1="1379.8" x2="335.7" y2="1382.1" stroke="#1c1ca6" stroke-width="1.5"/>
<line x1="338.9" y1="1380.3" x2="340.6" y2="1375" stroke="#1c1ca6" stroke-width="1.5"/>
<line x1="339.4" y1="1386.1" x2="339.7" y2="1395.8" stroke="#1c1ca6" stroke-width="1.5"/>
<line x1="342" y1="1377.3" x2="338.8" y2="1380.5" stroke="#1c1ca6" stroke-width="1.5"/>
<line x1="339.6" y1="1377.7" x2="345.6" y2="1378.8" stroke="#1c1ca6" stroke-width="1.5"/>
<line x1="339.5" y1="1392.8" x2="330.1" y2="1390.6" stroke="#1c1ca6" stroke-width="1.5"/>
<line x1="334.3" y1="1399.5" x2="342.1" y2="1394.5" stroke="#1c1ca6" stroke-width="1.5"/>
<line x1="331.7" y1="1396.4" x2="325.9" y2="1393" stroke="#1c1ca6" stroke-width="1.5"/>
<line x1="336.2" y1="1398.6" x2="339" y2="1403.6" stroke="#1c1ca6" stroke-width="1.5"/>
<line x1="340.3" y1="1395.5" x2="332.1" y2="1390.3" stroke="#1c1ca6" stroke-width="1.5"/>
<line x1="341.6" y1="1398" x2="347.7" y2="1401.3" stroke="#1c1ca6" stroke-width="1.5"/>
<line x1="335.6" y1="1394.5" x2="340.9" y2="1398.6" stroke="#1c1ca6" stroke-width="1.5"/>
<line x1="338.6" y1="1392.2" x2="338.3" y2="1386.6" stroke="#1c1ca6" stroke-width="1.5"/>
<line x1="333.8" y1="1397.2" x2="340.2" y2="1400.5" stroke="#1c1ca6" stroke-width="1.5"/>
<line x1="333.2" y1="1393.6" x2="342.2" y2="1396.9" stroke="#1c1ca6" stroke-width="1.5"/>
<line x1="336.7" y1="1394" x2="346.3" y2="1397.2" stroke="#1c1ca6" stroke-width="1.5"/>
<line x1="330.5" y1="1399.8" x2="320.4" y2="1397.3" stroke="#1c1ca6" stroke-width="1.5"/>
<line x1="341" y1="1410.7" x2="342" y2="1419.2" stroke="#1c1ca6" stroke-width="1.5"/>
<line x1="332.3" y1="1410.6" x2="326.9" y2="1404.9" stroke="#1c1ca6" stroke-width="1.5"/>
<line x1="341.1" y1="1406.6" x2="347.5" y2="1410.3" stroke="#1c1ca6" stroke-width="1.5"/>
<line x1="337" y1="1412.1" x2="329.1" y2="1408.5" stroke="#1c1ca6" stroke-width="1.5"/>
<line x1="331.4" y1="1406.4" x2="339" y2="1409.5" stroke="#1c1ca6" stroke-width="1.5"/>
<line x1="337.9" y1="1408" x2="331.1" y2="1410.3" stroke="#1c1ca6" stroke-width="1.5"/>
<line x1="334.5" y1="1406.2" x2="335.5" y2="1414.4" stroke="#1c1ca6" stroke-width="1.5"/>
<line x1="333.5" y1="1405.6" x2="329.8" y2="1410.6" stroke="#1c1ca6" stroke-width="1.5"/>
<line x1="336.1" y1="1407.6" x2="328.9" y2="1402.5" stroke="#1c1ca6" stroke-width="1.5"/>
<line x1="332.8" y1="1408.8" x2="332.7" y2="1415.1" stroke="#1c1ca6" stroke-width="1.5"/>
<line x1="342.5" y1="1412.9" x2="340.7" y2="1417.2" stroke="#1c1ca6" stroke-width="1.5"/>
<line x1="330.7" y1="1410.8" x2="321.9" y2="1409.9" stroke="#1c1ca6" stroke-width="1.5"/>
<line x1="339.9" y1="1418.9" x2="333.3" y2="1427.3" stroke="#1c1ca6" stroke-width="1.5"/>
<line x1="342.8" y1="1417.2" x2="335.1" y2="1420.4" stroke="#1c1ca6" stroke-width="1.5"/>
<line x1="345.5" y1="1417.2" x2="341.8" y2="1415.7" stroke="#1c1ca6" stroke-width="1.5"/>
<line x1="340.6" y1="1426.5" x2="335.1" y2="1432" stroke="#1c1ca6" stroke-width="1.5"/>
<line x1="344.7" y1="1421.5" x2="350.5" y2="1423.2" stroke="#1c1ca6" stroke-width="1.5"/>
<line x1="342.2" y1="1420.6" x2="341.4" y2="1413.7" stroke="#1c1ca6" stroke-width="1.5"/>
<line x1="342.4" y1="1422.9" x2="338.4" y2="1425.6" stroke="#1c1ca6" stroke-width="1.5"/>
<line x1="343.5" y1="1427.8" x2="341.5" y2="1433.3" stroke="#1c1ca6" stroke-width="1.5"/>
<line x1="347.9" y1="1420.2" x2="339.6" y2="1426.7" stroke="#1c1ca6" stroke-width="1.5"/>
<line x1="347.1" y1="1420.9" x2="336.7" y2="1419.6" stroke="#1c1ca6" stroke-width="1.5"/>
<line x1="338.4" y1="1423.4" x2="345.9" y2="1417.8" stroke="#1c1ca6" stroke-width="1.5"/>
<line x1="341.6" y1="1414.8" x2="347" y2="1422.2" stroke="#1c1ca6" stroke-width="1.5"/>
<line x1="349.2" y1="1403.2" x2="344.9" y2="1412.4" stroke="#1c1ca6" stroke-width="1.5"/>
<line x1="353.7" y1="1404.4" x2="358" y2="1404.3" stroke="#1c1ca6" stroke-width="1.5"/>
<line x1="352.3" y1="1399.8" x2="360.8" y2="1398.1" stroke="#1c1ca6" stroke-width="1.5"/>
<line x1="350.1" y1="1401.6" x2="350.1" y2="1412.2" stroke="#1c1ca6" stroke-width="1.5"/>
<line x1="351.2" y1="1406.4" x2="352" y2="1396.1" stroke="#1c1ca6" stroke-width="1.5"/>
<line x1="352.9" y1="1401.9" x2="350.8" y2="1405.7" stroke="#1c1ca6" stroke-width="1.5"/>
<line x1="355" y1="1395.5" x2="362.7" y2="1396.7" stroke="#1c1ca6" stroke-width="1.5"/>
<line x1="352.7" y1="1396.5" x2="356.5" y2="1400.4" stroke="#1c1ca6" stroke-width="1.5"/>
<line x1="356.2" y1="1401.8" x2="359.6" y2="1393.1" stroke="#1c1ca6" stroke-width="1.5"/>
<line x1="349.2" y1="1393.8" x2="343" y2="1392" stroke="#1c1ca6" stroke-width="1.5"/>
<line x1="355.7" y1="1406.5" x2="348.5" y2="1411.1" stroke="#1c1ca6" stroke-width="1.5"/>
<line x1="356.7" y1="1402.6" x2="362" y2="1406.4" stroke="#1c1ca6" stroke-width="1.5"/>
<line x1="352.3" y1="1378.6" x2="350.3" y2="1374.2" stroke="#1c1ca6" stroke-width="1.5"/>
<line x1="353.5" y1="1379.7" x2="347.9" y2="1379.4" stroke="#1c1ca6" stroke-width="1.5"/>
<line x1="348.9" y1="1384" x2="350.5" y2="1380.1" stroke="#1c1ca6" stroke-width="1.5"/>
<line x1="347.3" y1="1381.2" x2="343.2" y2="1379.1" stroke="#1c1ca6" stroke-width="1.5"/>
<line x1="350.1" y1="1373.5" x2="354" y2="1372.1" stroke="#1c1ca6" stroke-width="1.5"/>
<line x1="353.9" y1="1375.6" x2="358.5" y2="1367.5" stroke="#1c1ca6" stroke-width="1.5"/>
<line x1="351.4" y1="1378.1" x2="350.8" y2="1371.2" stroke="#1c1ca6" stroke-width="1.5"/>
<line x1="354.9" y1="1382.3" x2="358.5" y2="1376.9" stroke="#1c1ca6" stroke-width="1.5"/>
<line x1="351.5" y1="1375.8" x2="353.6" y2="1385.9" stroke="#1c1ca6" stroke-width="1.5"/>
<line x1="354.1" y1="1378.6" x2="350.6" y2="1370.5" stroke="#1c1ca6" stroke-width="1.5"/>
<line x1="354.6" y1="1383.6" x2="357.2" y2="1391.2" stroke="#1c1ca6" stroke-width="1.5"/>
<line x1="350.9" y1="1383.1" x2="347.8" y2="1376.5" stroke="#1c1ca6" stroke-width="1.5"/>
<line x1="352.2" y1="1364.4" x2="360.2" y2="1369.3" stroke="#1c1ca6" stroke-width="1.5"/>
<line x1="350.5" y1="1362.8" x2="355" y2="1367.1" stroke="#1c1ca6" stroke-width="1.5"/>
<line x1="355.1" y1="1361.5" x2="357.8" y2="1370.5" stroke="#1c1ca6" stroke-width="1.5"/>
<line x1="350.3" y1="1361.8" x2="344.1" y2="1369.6" stroke="#1c1ca6" stroke-width="1.5"/>
<line x1="348.2" y1="1357.1" x2="355.9" y2="1362.2" stroke="#1c1ca6" stroke-width="1.5"/>
<line x1="350.6" y1="1360.7" x2="353.3" y2="1356.7" stroke="#1c1ca6" stroke-width="1.5"/>
<line x1="352.6" y1="1356" x2="362.7" y2="1353.9" stroke="#1c1ca6" stroke-width="1.5"/>
<line x1="352.5" y1="1360.6" x2="356.9" y2="1361.2" stroke="#1c1ca6" stroke-width="1.5"/>
<line x1="348" y1="1362.2" x2="350.5" y2="1357.2" stroke="#1c1ca6" stroke-width="1.5"/>
<line x1="345" y1="1352" x2="342.7" y2="1358.4" stroke="#1c1ca6" stroke-width="1.5"/>
<line x1="349.2" y1="1361.1" x2="352.8" y2="1369.1" stroke="#1c1ca6" stroke-width="1.5"/>
<line x1="348.4" y1="1360.4" x2="348.1" y2="1367.7" stroke="#1c1ca6" stroke-width="1.5"/>
<line x1="336.8" y1="1339.2" x2="328.4" y2="1338.9" stroke="#1c1ca6" stroke-width="1.5"/>
<line x1="328.9" y1="1341.6" x2="321" y2="1348.8" stroke="#1c1ca6" stroke-width="1.5"/>
<line x1="331.2" y1="1340.2" x2="336.1" y2="1337" stroke="#1c1ca6" stroke-width="1.5"/>
<line x1="336.9" y1="1342.5" x2="333.4" y2="1347.9" stroke="#1c1ca6" stroke-width="1.5"/>
<line x1="326.2" y1="1344.1" x2="329.9" y2="1348.1" stroke="#1c1ca6" stroke-width="1.5"/>
<line x1="332.6" y1="1340.4" x2="326.6" y2="1347.7" stroke="#1c1ca6" stroke-width="1.5"/>
<line x1="337.2" y1="1336.9" x2="339.5" y2="1331.5" stroke="#1c1ca6" stroke-width="1.5"/>
<line x1="334.3" y1="1339.8" x2="334.8" y2="1345.7" stroke="#1c1ca6" stroke-width="1.5"/>
<line x1="326.4" y1="1344.2" x2="331.5" y2="1336.1" stroke="#1c1ca6" stroke-width="1.5"/>
<line x1="328.7" y1="1336.5" x2="326.9" y2="1326.7" stroke="#1c1ca6" stroke-width="1.5"/>
<line x1="331.7" y1="1341.5" x2="332.5" y2="1351" stroke="#1c1ca6" stroke-width="1.5"/>
<line x1="330.1" y1="1340.3" x2="330.4" y2="1344.5" stroke="#1c1ca6" stroke-width="1.5"/>
<line x1="329.8" y1="1360.4" x2="337.4" y2="1360.4" stroke="#1c1ca6" stroke-width="1.5"/>
<line x1="329.2" y1="1359.6" x2="332" y2="1363" stroke="#1c1ca6" stroke-width="1.5"/>
<line x1="327.2" y1="1362.8" x2="330.3" y2="1359.5" stroke="#1c1ca6" stroke-width="1.5"/>
<line x1="328.6" y1="1360" x2="334.4" y2="1360.7" stroke="#1c1ca6" stroke-width="1.5"/>
<line x1="333.5" y1="1355.3" x2="331.6" y2="1363.3" stroke="#1c1ca6" stroke-width="1.5"/>
<line x1="329.1" y1="1361.7" x2="324.3" y2="1355" stroke="#1c1ca6" stroke-width="1.5"/>
<line x1="328.9" y1="1368.7" x2="324.1" y2="1365.9" stroke="#1c1ca6" stroke-width="1.5"/>
<line x1="326.9" y1="1358.4" x2="330.9" y2="1354" stroke="#1c1ca6" stroke-width="1.5"/>
<line x1="325.9" y1="1357.9" x2="326.6" y2="1347.9" stroke="#1c1ca6" stroke-width="1.5"/>
<line x1="333.9" y1="1363.1" x2="326.1" y2="1364.3" stroke="#1c1ca6" stroke-width="1.5"/>
<line x1="328.6" y1="1359.5" x2="327.7" y2="1368.8" stroke="#1c1ca6" stroke-width="1.5"/>
<line x1="327.5" y1="1359.3" x2="332.9" y2="1357.3" stroke="#1c1ca6" stroke-width="1.5"/>
<line x1="328.1" y1="1387.8" x2="323.9" y2="1381.7" stroke="#1c1ca6" stroke-width="1.5"/>
<line x1="325.2" y1="1385.7" x2="330.1" y2="1383.8" stroke="#1c1ca6" stroke-width="1.5"/>
<line x1="328.9" y1="1385.9" x2="334.6" y2="1393.3" stroke="#1c1ca6" stroke-width="1.5"/>
<line x1="324" y1="1385.5" x2="329.6" y2="1388.3" stroke="#1c1ca6" stroke-width="1.5"/>
<line x1="328.1" y1="1385.1" x2="319.9" y2="1387.2" stroke="#1c1ca6" stroke-width="1.5"/>
<line x1="326.4" y1="1386.4" x2="333" y2="1392.5" stroke="#1c1ca6" stroke-width="1.5"/>
<line x1="322" y1="1389.3" x2="317.6" y2="1391.8" stroke="#1c1ca6" stroke-width="1.5"/>
<line x1="326.9" y1="1381.9" x2="319.4" y2="1387.8" stroke="#1c1ca6" stroke-width="1.5"/>
<line x1="329.1" y1="1385.2" x2="326.2" y2="1381.1" stroke="#1c1ca6" stroke-width="1.5"/>
<line x1="327.1" y1="1388.9" x2="332.1" y2="1382" stroke="#1c1ca6" stroke-width="1.5"/>
<line x1="330.3" y1="1389" x2="332.6" y2="1378.3" stroke="#1c1ca6" stroke-width="1.5"/>
<line x1="328.5" y1="1386.8" x2="337.6" y2="1385.2" stroke="#1c1ca6" stroke-width="1.5"/>
<line x1="331.3" y1="1403.6" x2="341.4" y2="1406" stroke="#1c1ca6" stroke-width="1.5"/>
<line x1="330.7" y1="1403.7" x2="336.3" y2="1410.1" stroke="#1c1ca6" stroke-width="1.5"/>
<line x1="329.2" y1="1399.9" x2="326.4" y2="1408.7" stroke="#1c1ca6" stroke-width="1.5"/>
<line x1="327.8" y1="1406.6" x2="320.4" y2="1410.4" stroke="#1c1ca6" stroke-width="1.5"/>
<line x1="330.2" y1="1409.7" x2="330.1" y2="1413.8" stroke="#1c1ca6" stroke-width="1.5"/>
<line x1="325.5" y1="1403.6" x2="332.7" y2="1406.6" stroke="#1c1ca6" stroke-width="1.5"/>
<line x1="330.6" y1="1407.2" x2="334.9" y2="1403.5" stroke="#1c1ca6" stroke-width="1.5"/>
<line x1="328.9" y1="1399.2" x2="323.5" y2="1407.8" stroke="#1c1ca6" stroke-width="1.5"/>
<line x1="334" y1="1402.4" x2="330.3" y2="1405.3" stroke="#1c1ca6" stroke-width="1.5"/>
<line x1="328.1" y1="1403.4" x2="334.4" y2="1407.6" stroke="#1c1ca6" stroke-width="1.5"/>
<line x1="331.4" y1="1407.4" x2="331.1" y2="1396.6" stroke="#1c1ca6" stroke-width="1.5"/>
<line x1="335.2" y1="1404" x2="333.6" y2="1408.1" stroke="#1c1ca6" stroke-width="1.5"/>
<line x1="146" y1="1292" x2="154" y2="1278" stroke="#6b6b2a" stroke-width="3"/>
<line x1="174" y1="1280" x2="182" y2="1266" stroke="#6b6b2a" stroke-width="3"/>
<line x1="201" y1="1284" x2="209" y2="1270" stroke="#6b6b2a" stroke-width="3"/>
<line x1="228" y1="1290" x2="236" y2="1276" stroke="#6b6b2a" stroke-width="3"/>
<line x1="261" y1="1287" x2="269" y2="1273" stroke="#6b6b2a" stroke-width="3"/>
<line x1="288" y1="1307" x2="296" y2="1293" stroke="#6b6b2a" stroke-width="3"/>
<line x1="314" y1="1319" x2="322" y2="1305" stroke="#6b6b2a" stroke-width="3"/>
<line x1="338" y1="1332" x2="346" y2="1318" stroke="#6b6b2a" stroke-width="3"/>
<line x1="344" y1="1357" x2="352" y2="1343" stroke="#6b6b2a" stroke-width="3"/>
<line x1="336" y1="1387" x2="344" y2="1373" stroke="#6b6b2a" stroke-width="3"/>
<line x1="333" y1="1417" x2="341" y2="1403" stroke="#6b6b2a" stroke-width="3"/>
<line x1="348" y1="1407" x2="356" y2="1393" stroke="#6b6b2a" stroke-width="3"/>
<line x1="347" y1="1367" x2="355" y2="1353" stroke="#6b6b2a" stroke-width="3"/>
<line x1="324" y1="1367" x2="332" y2="1353" stroke="#6b6b2a" stroke-width="3"/>
<line x1="326" y1="1412" x2="334" y2="1398" stroke="#6b6b2a" stroke-width="3"/>
</g>
<defs><linearGradient id="hb" x1="0" y1="0" x2="0" y2="1"><stop offset="0" stop-color="#ff10ff"/><stop offset="0.45" stop-color="#ffffff"/><stop offset="0.55" stop-color="#ffffff"/><stop offset="1" stop-color="#10ff10"/></linearGradient></defs>
<rect x="57.5" y="1379" width="23" height="61" fill="url(#hb)"/>
<g id="e2">
<path d="M472,1234.5 Q480.7,1241.1 486.2,1240.7 Q491.7,1240.3 490.9,1245.8 Q490.1,1251.2 494.1,1255 Q498.2,1258.7 502.9,1261.5 Q507.6,1264.3 503.3,1261 Q498.9,1257.6 496.9,1252.5 Q494.9,1247.4 495.9,1242 L497,1236.6" fill="none" stroke="#3a8fe0" stroke-width="1.8" stroke-linecap="round" stroke-linejoin="round" opacity="1.0"/>
<path d="M475.7,1294.2 Q483.3,1286.3 482.5,1280.8 Q481.7,1275.4 486.3,1272.5 Q490.9,1269.5 496.4,1269.5 Q501.9,1269.5 496.9,1271.8 Q492,1274.1 489.8,1279.2 Q487.7,1284.3 485.6,1289.3 Q483.5,1294.4 481.5,1289.3 Q479.6,1284.1 481.9,1279.2 Q484.3,1274.2 487.1,1269.5 Q490,1264.8 495.1,1267 Q500.1,1269.2 505.4,1267.6 L510.7,1266" fill="none" stroke="#3a8fe0" stroke-width="1.1" stroke-linecap="round" stroke-linejoin="round" opacity="1.0"/>
<path d="M469.3,1246.8 Q472.6,1236.3 475.1,1241.2 Q477.6,1246.1 478.2,1251.5 Q478.9,1257 482.5,1261.1 Q486.2,1265.2 488.9,1270 Q491.6,1274.8 496.4,1277.5 Q501.2,1280.2 495.7,1279.9 L490.2,1279.6" fill="none" stroke="#3a8fe0" stroke-width="1.1" stroke-linecap="round" stroke-linejoin="round" opacity="1.0"/>
<path d="M499.1,1247.6 Q490.9,1254.9 487.1,1258.9 Q483.4,1262.9 479.3,1266.6 Q475.3,1270.3 471.9,1274.7 Q468.6,1279.1 466.4,1284.1 Q464.2,1289.2 458.7,1288.9 Q453.2,1288.7 451.9,1283.3 Q450.6,1278 445.2,1276.7 Q439.9,1275.5 438.3,1270.2 Q436.8,1264.9 431.5,1266.3 Q426.2,1267.8 426.3,1262.3 Q426.4,1256.8 425.6,1251.3 Q424.9,1245.9 428.3,1250.2 L431.7,1254.5" fill="none" stroke="#3a8fe0" stroke-width="1" stroke-linecap="round" stroke-linejoin="round" opacity="1.0"/>
<path d="M442,1290.6 Q436.1,1281.3 437.6,1276 Q439.1,1270.8 440.3,1265.4 Q441.5,1260 442.8,1254.7 Q444.1,1249.3 445.2,1243.9 Q446.4,1238.6 450.5,1242.3 Q454.5,1246.1 459.7,1247.7 L465,1249.3" fill="none" stroke="#2f7fd0" stroke-width="1.1" stroke-linecap="round" stroke-linejoin="round" opacity="1.0"/>
<path d="M444.5,1270.6 Q450.2,1261.2 455.5,1262.5 Q460.8,1263.9 466.3,1263.9 Q471.8,1263.9 477,1262 Q482.1,1260 487.5,1259.1 Q492.9,1258.1 496.2,1253.6 Q499.4,1249.2 494.4,1251.5 Q489.4,1253.7 484.4,1251.5 Q479.3,1249.3 476.5,1244.6 L473.7,1239.9" fill="none" stroke="#2f7fd0" stroke-width="1.5" stroke-linecap="round" stroke-linejoin="round" opacity="1.0"/>
<path d="M429.5,1241.7 Q440.5,1241 444.4,1245 Q448.2,1248.9 453.1,1251.4 Q458,1253.9 463.3,1252.4 Q468.6,1250.9 473.3,1253.6 Q478.1,1256.3 481.9,1260.4 Q485.6,1264.4 490.5,1262 Q495.5,1259.6 500.2,1256.7 L504.9,1253.9" fill="none" stroke="#3a8fe0" stroke-width="1.1" stroke-linecap="round" stroke-linejoin="round" opacity="1.0"/>
<path d="M482.5,1228.7 Q471.5,1229.8 468.9,1234.7 Q466.3,1239.5 470.9,1236.5 Q475.5,1233.5 479.8,1237 Q484,1240.5 487.3,1244.8 Q490.6,1249.2 490.2,1254.7 Q489.7,1260.2 484.3,1259.8 Q478.8,1259.4 473.8,1257.1 Q468.8,1254.8 463.5,1256.4 Q458.2,1258 453.4,1255.3 L448.6,1252.6" fill="none" stroke="#2f7fd0" stroke-width="1.2" stroke-linecap="round" stroke-linejoin="round" opacity="1.0"/>
<path d="M465.4,1259.1 Q455.1,1263 450.1,1265.3 Q445.1,1267.5 440.2,1270.1 Q435.4,1272.6 433.5,1277.8 L431.5,1282.9" fill="none" stroke="#2f7fd0" stroke-width="1.3" stroke-linecap="round" stroke-linejoin="round" opacity="1.0"/>
<path d="M494.6,1235.8 Q485.7,1242.2 487.9,1247.2 Q490.1,1252.3 494.9,1255 Q499.6,1257.7 504.3,1254.8 L509,1251.9" fill="none" stroke="#3a8fe0" stroke-width="0.9" stroke-linecap="round" stroke-linejoin="round" opacity="1.0"/>
<path d="M451.4,1229.3 Q462.1,1227 460.8,1232.3 Q459.4,1237.7 456.6,1242.4 Q453.8,1247.1 448.7,1249.2 Q443.6,1251.3 440,1255.4 L436.3,1259.5" fill="none" stroke="#3a8fe0" stroke-width="1.6" stroke-linecap="round" stroke-linejoin="round" opacity="1.0"/>
<path d="M484.9,1263.9 Q483.4,1274.8 485.4,1280 Q487.4,1285.1 484.7,1280.3 Q482,1275.5 478.4,1271.3 Q474.9,1267.1 470.1,1264.4 Q465.3,1261.6 460.2,1259.7 L455,1257.8" fill="none" stroke="#2f7fd0" stroke-width="1.4" stroke-linecap="round" stroke-linejoin="round" opacity="1.0"/>
<path d="M477.9,1296 L487.8,1291.3" fill="none" stroke="#3a8fe0" stroke-width="1.5" stroke-linecap="round" stroke-linejoin="round" opacity="1.0"/>
<path d="M463.2,1281.4 Q473.9,1278.8 479.3,1279.4 Q484.8,1280.1 490.2,1278.9 Q495.5,1277.7 500.8,1276.2 Q506.1,1274.7 502.5,1278.8 Q498.8,1283 496.6,1277.9 L494.4,1272.9" fill="none" stroke="#3a8fe0" stroke-width="1.7" stroke-linecap="round" stroke-linejoin="round" opacity="1.0"/>
<path d="M430.9,1265.4 Q436.8,1274.7 441.5,1277.6 Q446.1,1280.5 450.2,1284.3 Q454.2,1288 458.2,1291.8 Q462.2,1295.6 457.8,1292.2 Q453.5,1288.9 452.4,1283.5 Q451.4,1278.1 449.8,1272.8 Q448.2,1267.6 446,1262.5 Q443.9,1257.4 438.6,1255.8 Q433.4,1254.3 431.5,1249.1 Q429.6,1244 434.7,1245.9 Q439.9,1247.8 444.4,1244.5 Q448.8,1241.3 448.5,1235.8 L448.2,1230.3" fill="none" stroke="#2f7fd0" stroke-width="1.5" stroke-linecap="round" stroke-linejoin="round" opacity="1.0"/>
<path d="M468.1,1285.2 Q476.9,1283.6 481.1,1285.2 Q485.3,1286.9 480.8,1286.6 L476.3,1286.3" fill="none" stroke="#2f7fd0" stroke-width="5.2" stroke-linecap="round" stroke-linejoin="round" opacity="1.0"/>
<path d="M470.6,1243.5 Q476.6,1250.2 476,1254.6 Q475.4,1259.1 471.4,1261.2 L467.5,1263.3" fill="none" stroke="#3a8fe0" stroke-width="5.5" stroke-linecap="round" stroke-linejoin="round" opacity="1.0"/>
<path d="M460.9,1280.1 Q462.6,1288.9 462.8,1293.4 L463.1,1297.9" fill="none" stroke="#3a8fe0" stroke-width="5.1" stroke-linecap="round" stroke-linejoin="round" opacity="1.0"/>
<path d="M497.5,1260.5 Q499,1269.4 503.2,1271.1 Q507.3,1272.8 503,1271.6 L498.6,1270.4" fill="none" stroke="#2f7fd0" stroke-width="5" stroke-linecap="round" stroke-linejoin="round" opacity="1.0"/>
<path d="M445.8,1293.2 Q454.8,1292.6 458.8,1290.5 Q462.8,1288.5 460.8,1284.5 L458.7,1280.5" fill="none" stroke="#2f7fd0" stroke-width="5.9" stroke-linecap="round" stroke-linejoin="round" opacity="1.0"/>
<path d="M489.2,1266.9 Q497.7,1269.7 500.8,1272.9 Q503.9,1276.2 500.1,1278.5 L496.2,1280.8" fill="none" stroke="#2f7fd0" stroke-width="3.6" stroke-linecap="round" stroke-linejoin="round" opacity="1.0"/>
<path d="M474.4,1267.4 Q474.6,1258.4 473.1,1254.2 L471.5,1249.9" fill="none" stroke="#3a8fe0" stroke-width="5.1" stroke-linecap="round" stroke-linejoin="round" opacity="1.0"/>
<path d="M439.5,1254.9 Q443.9,1262.7 448.2,1264 L452.5,1265.4" fill="none" stroke="#2f7fd0" stroke-width="4.7" stroke-linecap="round" stroke-linejoin="round" opacity="1.0"/>
<path d="M515.3,1236.9 Q513.6,1247.8 516.8,1252.2 Q520,1256.7 524.1,1260.4 Q528.3,1264 532,1268.1 Q535.7,1272.1 532.9,1267.4 Q530.2,1262.6 524.8,1261.6 Q519.4,1260.6 523.1,1256.5 Q526.7,1252.4 531.2,1249.2 Q535.7,1246.1 540.6,1248.6 L545.4,1251.2" fill="none" stroke="#55d055" stroke-width="1.4" stroke-linecap="round" stroke-linejoin="round" opacity="1.0"/>
<path d="M708.3,1257.3 Q704.2,1247.1 699.7,1243.8 Q695.3,1240.5 691.9,1236.2 Q688.5,1231.9 689.7,1226.5 Q690.9,1221.2 695.8,1223.6 Q700.7,1226.1 706.1,1227.1 Q711.5,1228 706.3,1229.9 Q701.2,1231.8 696,1233.6 Q690.8,1235.4 685.3,1235.6 L679.8,1235.8" fill="none" stroke="#33c433" stroke-width="1.3" stroke-linecap="round" stroke-linejoin="round" opacity="1.0"/>
<path d="M579.4,1258.6 Q590.3,1259.6 595.2,1257.1 Q600.1,1254.6 605.3,1256.4 Q610.5,1258.2 615.9,1259.4 Q621.3,1260.5 621.7,1255 Q622.1,1249.5 627,1247.2 Q632,1244.8 631.1,1239.3 L630.2,1233.9" fill="none" stroke="#33c433" stroke-width="1.6" stroke-linecap="round" stroke-linejoin="round" opacity="1.0"/>
<path d="M685,1239.8 Q681.7,1229.3 686.5,1232 Q691.3,1234.7 690.6,1240.1 Q689.9,1245.6 686.1,1249.5 Q682.3,1253.5 677.6,1256.4 Q672.9,1259.3 668,1261.6 Q663,1263.9 658.2,1266.7 Q653.4,1269.4 648.9,1272.5 Q644.3,1275.5 638.8,1275.5 Q633.3,1275.5 628.3,1273.1 Q623.3,1270.8 618.4,1268.3 Q613.5,1265.8 612.5,1260.4 Q611.5,1255 609.2,1250 L606.9,1245" fill="none" stroke="#55d055" stroke-width="1" stroke-linecap="round" stroke-linejoin="round" opacity="1.0"/>
<path d="M540.5,1257.8 Q544.9,1267.8 544.9,1262.3 Q544.8,1256.8 540.3,1253.7 Q535.8,1250.5 532.7,1246 Q529.7,1241.4 524.2,1241.3 Q518.7,1241.2 520.8,1236.1 Q523,1231.1 525.9,1235.8 Q528.8,1240.4 533.6,1243.1 Q538.4,1245.8 539.2,1251.3 Q540,1256.7 536.9,1261.3 Q533.8,1265.8 537.6,1261.8 Q541.3,1257.8 545.8,1254.5 Q550.2,1251.2 553.9,1255.3 L557.6,1259.4" fill="none" stroke="#55d055" stroke-width="1.6" stroke-linecap="round" stroke-linejoin="round" opacity="1.0"/>
<path d="M555.1,1271.4 Q554,1260.5 554,1255 Q553.9,1249.5 557.1,1245 Q560.4,1240.6 565.7,1239.3 Q571.1,1237.9 575.9,1235.2 Q580.6,1232.5 586.1,1232.5 Q591.6,1232.4 586.4,1234.2 Q581.2,1235.9 575.7,1236.1 Q570.2,1236.4 565,1238.2 Q559.9,1240.1 555.9,1243.9 Q551.9,1247.7 547.6,1251.1 Q543.2,1254.5 538.8,1251.2 L534.3,1248" fill="none" stroke="#55d055" stroke-width="1.3" stroke-linecap="round" stroke-linejoin="round" opacity="1.0"/>
<path d="M699.2,1280.9 Q699,1269.9 700.9,1264.7 Q702.7,1259.6 700.2,1254.7 Q697.6,1249.8 698,1244.3 Q698.4,1238.8 702.2,1234.9 Q706.1,1231 700.6,1231.3 Q695.1,1231.6 695.2,1226.1 Q695.3,1220.6 693.7,1225.9 Q692.2,1231.2 697.7,1231.8 Q703.1,1232.5 699.9,1237 L696.8,1241.5" fill="none" stroke="#2aa82a" stroke-width="1.1" stroke-linecap="round" stroke-linejoin="round" opacity="1.0"/>
<path d="M568,1240 Q578.8,1237.8 584.2,1238.4 Q589.7,1239 594.4,1241.8 Q599.2,1244.6 604.4,1242.8 Q609.6,1241 615.1,1240.8 Q620.6,1240.5 626,1239.9 Q631.5,1239.2 636.9,1240.1 L642.3,1241.1" fill="none" stroke="#33c433" stroke-width="1.1" stroke-linecap="round" stroke-linejoin="round" opacity="1.0"/>
<path d="M711.2,1237.2 Q702.1,1243.3 698.5,1247.5 Q694.9,1251.6 689.5,1252.6 Q684.1,1253.6 681,1249.1 Q677.9,1244.5 680.7,1249.3 Q683.5,1254 687.8,1257.5 Q692,1261 695.2,1265.5 Q698.4,1269.9 703.8,1270.9 Q709.2,1271.8 705.1,1275.4 Q700.9,1279.1 695.5,1280 L690.1,1281" fill="none" stroke="#33c433" stroke-width="1" stroke-linecap="round" stroke-linejoin="round" opacity="1.0"/>
<path d="M619.8,1240.2 Q624,1250.4 626,1255.5 Q628,1260.6 631.4,1264.9 Q634.9,1269.1 638.3,1264.8 Q641.8,1260.5 639.7,1255.5 Q637.6,1250.4 633.9,1246.3 Q630.1,1242.3 630.4,1247.8 Q630.6,1253.3 633.5,1258 Q636.4,1262.7 639.3,1267.4 Q642.2,1272 642.2,1277.5 L642.1,1283" fill="none" stroke="#2aa82a" stroke-width="0.9" stroke-linecap="round" stroke-linejoin="round" opacity="1.0"/>
<path d="M597.8,1255.6 Q586.8,1256.4 581.9,1254 Q576.9,1251.7 575.5,1246.4 Q574.2,1241.1 573.3,1235.6 Q572.5,1230.2 575.5,1225.6 Q578.6,1221.1 582.6,1224.9 Q586.6,1228.7 582.9,1232.8 Q579.3,1236.9 575.3,1233 L571.4,1229.2" fill="none" stroke="#55d055" stroke-width="1.4" stroke-linecap="round" stroke-linejoin="round" opacity="1.0"/>
<path d="M568.7,1223.1 Q562.2,1214.2 567.2,1216.5 Q572.2,1218.8 575.8,1223 Q579.3,1227.2 579.7,1232.7 Q580.1,1238.1 579.3,1243.6 Q578.5,1249 583.1,1252.1 Q587.6,1255.3 592.9,1253.8 Q598.2,1252.4 596.4,1247.2 Q594.5,1242 589.3,1243.6 Q584,1245.2 578.7,1243.8 Q573.3,1242.5 567.9,1243.5 L562.5,1244.4" fill="none" stroke="#2aa82a" stroke-width="1.1" stroke-linecap="round" stroke-linejoin="round" opacity="1.0"/>
<path d="M700.2,1260.9 Q694.7,1251.3 691.4,1255.7 Q688.1,1260.1 686.4,1265.4 Q684.8,1270.6 679.8,1273 Q674.8,1275.3 670.4,1272 Q666,1268.7 666.6,1263.3 Q667.1,1257.8 667.6,1263.3 Q668,1268.8 672.5,1271.9 Q677.1,1275 673.2,1271.1 L669.3,1267.2" fill="none" stroke="#2aa82a" stroke-width="1" stroke-linecap="round" stroke-linejoin="round" opacity="1.0"/>
<path d="M707.3,1226.3 Q713.7,1235.2 714.4,1240.7 Q715.1,1246.2 715.7,1251.6 Q716.4,1257.1 713.3,1252.5 Q710.3,1247.9 711.2,1242.5 Q712.1,1237.1 713,1242.5 L713.8,1248" fill="none" stroke="#2aa82a" stroke-width="0.9" stroke-linecap="round" stroke-linejoin="round" opacity="1.0"/>
<path d="M660.2,1262.5 Q652.4,1254.7 650.9,1249.4 Q649.4,1244.2 644.2,1246.1 Q639.1,1248 634.9,1244.4 Q630.8,1240.8 626.3,1237.5 Q621.9,1234.3 622.3,1239.8 Q622.8,1245.3 626.9,1241.6 Q631,1238 636.3,1239.5 Q641.6,1241.1 641.7,1246.6 Q641.9,1252.1 641.2,1257.6 Q640.6,1263 638.5,1268.1 Q636.4,1273.2 633.7,1278 Q631.1,1282.8 627.7,1287.2 L624.4,1291.6" fill="none" stroke="#2aa82a" stroke-width="1.1" stroke-linecap="round" stroke-linejoin="round" opacity="1.0"/>
<path d="M596.9,1243.8 Q590.8,1234.6 592.3,1239.9 Q593.8,1245.2 596.1,1250.2 Q598.5,1255.1 601.6,1259.7 Q604.7,1264.2 605.6,1269.6 Q606.4,1275.1 603.2,1279.6 Q600.1,1284.1 594.9,1282.1 Q589.8,1280.1 584.5,1278.7 Q579.2,1277.3 574.6,1274.3 Q569.9,1271.3 569.7,1265.9 L569.4,1260.4" fill="none" stroke="#55d055" stroke-width="1.3" stroke-linecap="round" stroke-linejoin="round" opacity="1.0"/>
<path d="M652.1,1293.2 Q643.2,1299.7 638.4,1297.2 Q633.5,1294.6 628.5,1292.4 Q623.4,1290.2 617.9,1290.2 Q612.4,1290.2 607,1291.2 Q601.6,1292.2 599.8,1287 Q597.9,1281.8 601.8,1277.9 L605.7,1274" fill="none" stroke="#55d055" stroke-width="1.4" stroke-linecap="round" stroke-linejoin="round" opacity="1.0"/>
<path d="M559,1257.7 Q570,1257.3 575.4,1256.7 Q580.9,1256 586,1258 Q591.1,1260.1 593.6,1255.2 Q596,1250.2 599.1,1254.8 L602.2,1259.3" fill="none" stroke="#33c433" stroke-width="1.8" stroke-linecap="round" stroke-linejoin="round" opacity="1.0"/>
<path d="M701,1281.1 Q696.9,1270.9 693.8,1275.5 Q690.6,1280 695.4,1277.2 Q700.1,1274.4 705.6,1275.2 Q711,1276 705.5,1275.4 Q700.1,1274.8 696.5,1279 Q692.9,1283.2 694.7,1278 Q696.6,1272.8 695.7,1267.4 Q694.8,1262 696.8,1256.8 Q698.7,1251.7 703.6,1254.3 Q708.5,1256.8 711,1261.7 Q713.6,1266.6 711.1,1271.5 Q708.6,1276.4 707.4,1281.8 L706.2,1287.1" fill="none" stroke="#2aa82a" stroke-width="1.7" stroke-linecap="round" stroke-linejoin="round" opacity="1.0"/>
<path d="M543.6,1246.2 Q547,1256.7 552.3,1255.3 Q557.6,1254 563.1,1253.3 Q568.6,1252.6 573.9,1253.8 Q579.3,1255.1 584.7,1254.5 Q590.2,1253.9 595.6,1252.7 Q600.9,1251.5 599.7,1246.1 Q598.5,1240.8 602.3,1244.8 Q606.1,1248.7 603.3,1253.5 Q600.6,1258.3 597.8,1263 Q594.9,1267.7 590,1270.1 L585,1272.5" fill="none" stroke="#33c433" stroke-width="1.6" stroke-linecap="round" stroke-linejoin="round" opacity="1.0"/>
<path d="M706.9,1261.5 Q698.5,1268.6 693.6,1271.1 Q688.7,1273.6 687.8,1279.1 Q686.9,1284.5 692,1286.6 Q697.1,1288.7 694.8,1283.7 Q692.6,1278.7 693.5,1273.3 Q694.4,1267.9 697.4,1263.2 L700.4,1258.6" fill="none" stroke="#2aa82a" stroke-width="1.6" stroke-linecap="round" stroke-linejoin="round" opacity="1.0"/>
<path d="M609.2,1292.2 Q609.5,1281.2 608.2,1275.8 Q607,1270.5 611.7,1267.6 Q616.4,1264.7 612.4,1261 Q608.3,1257.3 602.8,1257 Q597.4,1256.8 592.1,1258.3 Q586.8,1259.8 582.6,1256.2 Q578.5,1252.6 579.4,1247.1 Q580.3,1241.7 583,1236.9 Q585.7,1232.2 581,1229.3 Q576.3,1226.5 570.8,1226 Q565.3,1225.4 561.7,1229.6 L558.1,1233.7" fill="none" stroke="#33c433" stroke-width="1.7" stroke-linecap="round" stroke-linejoin="round" opacity="1.0"/>
<path d="M639.6,1296 Q632.4,1287.7 627.7,1284.8 Q623,1281.9 618.6,1278.6 Q614.2,1275.3 610.1,1271.7 Q605.9,1268.1 602,1264.2 Q598.1,1260.4 594.5,1256.2 Q591,1252 586.3,1249 L581.7,1246.1" fill="none" stroke="#2aa82a" stroke-width="1.3" stroke-linecap="round" stroke-linejoin="round" opacity="1.0"/>
<path d="M679.6,1248.4 Q690.6,1248.9 692.8,1243.9 Q695.1,1238.9 694,1233.5 Q692.9,1228.1 697.2,1224.7 Q701.5,1221.2 698.5,1225.9 Q695.6,1230.5 690.6,1228.2 Q685.6,1226 688.9,1230.4 Q692.2,1234.8 697.6,1233.7 Q703,1232.6 702.2,1227.2 L701.4,1221.7" fill="none" stroke="#2aa82a" stroke-width="1.5" stroke-linecap="round" stroke-linejoin="round" opacity="1.0"/>
<path d="M705.1,1246.6 Q696.4,1253.2 692.3,1256.8 Q688.1,1260.5 682.9,1262.1 Q677.6,1263.7 673.2,1267 Q668.8,1270.3 665,1274.3 Q661.3,1278.3 655.8,1279.2 Q650.4,1280.2 646.3,1283.8 Q642.1,1287.4 642.2,1292.9 Q642.3,1298.4 642.6,1292.9 Q642.8,1287.4 644.4,1282.2 Q646,1276.9 643,1272.3 Q640,1267.7 639.1,1262.3 Q638.2,1256.9 634.8,1252.5 L631.5,1248.1" fill="none" stroke="#55d055" stroke-width="1.4" stroke-linecap="round" stroke-linejoin="round" opacity="1.0"/>
<path d="M541.1,1230 Q543.8,1219.3 545.9,1224.4 Q548.1,1229.5 553.6,1229.4 Q559,1229.2 557.5,1234.5 Q555.9,1239.8 561.4,1240 Q566.9,1240.3 567,1245.8 Q567.2,1251.3 571,1255.2 Q574.9,1259.1 572.4,1263.9 L569.8,1268.8" fill="none" stroke="#55d055" stroke-width="1.1" stroke-linecap="round" stroke-linejoin="round" opacity="1.0"/>
<path d="M684,1256.6 Q692.3,1263.9 694.3,1269 Q696.2,1274.1 700.7,1277.4 Q705.1,1280.7 700.1,1278.3 Q695.2,1275.9 690.4,1278.5 Q685.6,1281.2 684.4,1275.8 Q683.3,1270.4 680,1266 Q676.6,1261.6 673,1257.5 Q669.3,1253.4 670.7,1258.8 Q672.1,1264.1 676.7,1267.1 L681.3,1270.1" fill="none" stroke="#2aa82a" stroke-width="1.4" stroke-linecap="round" stroke-linejoin="round" opacity="1.0"/>
<path d="M680.8,1240.8 Q682.6,1251.6 683,1257.1 Q683.4,1262.6 688.6,1260.9 Q693.9,1259.2 699.2,1260.5 Q704.6,1261.7 707.3,1266.5 Q709.9,1271.3 704.7,1273 Q699.4,1274.7 694.3,1276.6 Q689.2,1278.6 687.9,1273.3 Q686.6,1267.9 690,1263.6 Q693.4,1259.3 698.6,1257.5 Q703.9,1255.8 700.2,1259.9 Q696.6,1264.1 693.8,1268.8 Q691,1273.5 692.3,1278.8 L693.6,1284.2" fill="none" stroke="#33c433" stroke-width="1.1" stroke-linecap="round" stroke-linejoin="round" opacity="1.0"/>
<path d="M698.1,1222.9 Q690.8,1231.1 688.9,1236.2 Q686.9,1241.4 691.2,1238 Q695.6,1234.7 701.1,1234 Q706.5,1233.4 710.9,1236.7 Q715.3,1240 712.4,1244.7 L709.5,1249.4" fill="none" stroke="#2aa82a" stroke-width="1" stroke-linecap="round" stroke-linejoin="round" opacity="1.0"/>
<path d="M683.5,1250.7 Q688.5,1240.9 693.6,1238.9 Q698.7,1236.9 701.7,1241.5 Q704.7,1246.1 704.8,1251.6 Q705,1257.1 703.2,1262.3 Q701.3,1267.5 702.9,1272.8 Q704.5,1278 705.3,1283.5 L706.1,1288.9" fill="none" stroke="#33c433" stroke-width="1.8" stroke-linecap="round" stroke-linejoin="round" opacity="1.0"/>
<path d="M548.2,1215.1 Q539.4,1217.3 535.7,1219.8 Q532,1222.3 527.8,1224 L523.7,1225.8" fill="none" stroke="#2aa82a" stroke-width="4.2" stroke-linecap="round" stroke-linejoin="round" opacity="1.0"/>
<path d="M620.9,1297 Q627.2,1290.6 629.4,1286.7 L631.7,1282.8" fill="none" stroke="#33c433" stroke-width="4.6" stroke-linecap="round" stroke-linejoin="round" opacity="1.0"/>
<path d="M708.7,1281.5 Q703,1288.5 698.6,1288 L694.1,1287.4" fill="none" stroke="#2aa82a" stroke-width="4.5" stroke-linecap="round" stroke-linejoin="round" opacity="1.0"/>
<path d="M688,1243 Q684,1251 680,1253.2 L676.1,1255.4" fill="none" stroke="#33c433" stroke-width="5" stroke-linecap="round" stroke-linejoin="round" opacity="1.0"/>
<path d="M583.4,1290.3 Q581.6,1281.5 579,1277.8 Q576.3,1274.2 576.6,1269.7 L576.8,1265.2" fill="none" stroke="#55d055" stroke-width="5.6" stroke-linecap="round" stroke-linejoin="round" opacity="1.0"/>
<path d="M710.9,1263.8 Q706.7,1271.7 704.9,1275.8 L703.1,1279.9" fill="none" stroke="#33c433" stroke-width="6" stroke-linecap="round" stroke-linejoin="round" opacity="1.0"/>
<path d="M574,1249.9 Q580,1243.2 584.4,1244 Q588.8,1244.8 588.6,1249.3 L588.4,1253.8" fill="none" stroke="#33c433" stroke-width="5.6" stroke-linecap="round" stroke-linejoin="round" opacity="1.0"/>
<path d="M697.2,1279.6 Q704.2,1285.2 700,1286.8 Q695.8,1288.4 697.8,1284.4 L699.8,1280.4" fill="none" stroke="#55d055" stroke-width="3.7" stroke-linecap="round" stroke-linejoin="round" opacity="1.0"/>
<path d="M548.7,1269.5 Q547.9,1260.5 545.8,1256.5 Q543.7,1252.6 545.6,1248.5 L547.4,1244.4" fill="none" stroke="#2aa82a" stroke-width="6.2" stroke-linecap="round" stroke-linejoin="round" opacity="1.0"/>
<path d="M582.5,1283.4 Q578.5,1275.4 576.1,1271.6 Q573.7,1267.8 573.1,1263.3 L572.5,1258.8" fill="none" stroke="#33c433" stroke-width="4.6" stroke-linecap="round" stroke-linejoin="round" opacity="1.0"/>
<path d="M638.6,1297.5 Q645.8,1292.1 650.3,1291.7 L654.8,1291.3" fill="none" stroke="#33c433" stroke-width="4.9" stroke-linecap="round" stroke-linejoin="round" opacity="1.0"/>
<path d="M687.2,1241.9 Q686.5,1250.9 685.6,1255.3 L684.7,1259.7" fill="none" stroke="#2aa82a" stroke-width="3.6" stroke-linecap="round" stroke-linejoin="round" opacity="1.0"/>
<path d="M518.6,1251.8 Q520.9,1243 518.5,1239.2 L516.2,1235.4" fill="none" stroke="#55d055" stroke-width="6.4" stroke-linecap="round" stroke-linejoin="round" opacity="1.0"/>
<path d="M636.7,1259.4 Q627.7,1258.6 624.7,1255.2 L621.7,1251.9" fill="none" stroke="#33c433" stroke-width="5.2" stroke-linecap="round" stroke-linejoin="round" opacity="1.0"/>
<path d="M660,1227.3 Q651.9,1219.8 651.7,1214.3 Q651.4,1208.8 649.1,1203.8 Q646.7,1198.9 641.9,1201.7 Q637.2,1204.5 635,1209.5 Q632.7,1214.5 636.5,1218.5 Q640.4,1222.4 645.4,1224.6 Q650.5,1226.8 651.4,1232.2 Q652.2,1237.6 655.5,1242 L658.9,1246.4" fill="none" stroke="#c00068" stroke-width="1" stroke-linecap="round" stroke-linejoin="round" opacity="1.0"/>
<path d="M664.4,1200.2 Q675.4,1200.4 669.9,1200 Q664.4,1199.6 664.9,1205 Q665.3,1210.5 660,1212.2 Q654.8,1213.8 653.4,1208.5 Q651.9,1203.2 656.4,1206.4 Q660.9,1209.6 665.9,1211.8 L670.9,1214.1" fill="none" stroke="#c00068" stroke-width="1.2" stroke-linecap="round" stroke-linejoin="round" opacity="1.0"/>
<path d="M644.9,1259.7 Q637.1,1251.8 641.9,1249.1 Q646.7,1246.4 651.7,1244.1 Q656.7,1241.8 661,1238.5 Q665.4,1235.2 660.4,1237.3 Q655.3,1239.4 650.2,1241.5 Q645.1,1243.6 639.8,1245 Q634.5,1246.3 629.8,1249.2 Q625.1,1252.1 625.1,1257.6 Q625.1,1263.1 621,1259.4 L616.9,1255.8" fill="none" stroke="#c00068" stroke-width="1.6" stroke-linecap="round" stroke-linejoin="round" opacity="1.0"/>
<path d="M677.9,1212 Q667,1213 661.5,1213.8 Q656.1,1214.6 650.6,1214.8 Q645.1,1214.9 639.9,1213 Q634.7,1211.2 634.4,1205.7 Q634,1200.2 633.7,1205.7 Q633.3,1211.2 630.3,1215.7 Q627.2,1220.3 629.6,1225.3 Q631.9,1230.3 636.8,1232.8 Q641.7,1235.2 646.3,1238.2 L650.9,1241.2" fill="none" stroke="#c00068" stroke-width="1.6" stroke-linecap="round" stroke-linejoin="round" opacity="1.0"/>
<path d="M664,1231.4 Q670.7,1222.7 670.8,1217.2 Q670.9,1211.7 672.5,1206.4 Q674,1201.1 676.2,1206.2 Q678.5,1211.2 675.6,1206.5 Q672.7,1201.8 668.5,1205.4 Q664.4,1209 663.7,1214.5 Q663.1,1220 657.6,1220.1 Q652.1,1220.2 646.8,1218.8 L641.5,1217.4" fill="none" stroke="#d4107a" stroke-width="1.4" stroke-linecap="round" stroke-linejoin="round" opacity="1.0"/>
<path d="M669.4,1225.9 Q658.6,1224 654.3,1220.5 Q650,1217.1 651.9,1212 Q653.8,1206.8 658.5,1203.9 Q663.1,1200.9 667,1204.8 Q670.9,1208.7 674.6,1212.8 Q678.3,1216.9 672.9,1215.7 Q667.5,1214.5 662.1,1215.5 Q656.7,1216.6 652,1219.4 Q647.2,1222.1 648.8,1227.4 Q650.3,1232.7 645.7,1235.7 Q641,1238.7 637.1,1234.9 Q633.1,1231.1 632.8,1225.6 L632.4,1220.1" fill="none" stroke="#d4107a" stroke-width="1.3" stroke-linecap="round" stroke-linejoin="round" opacity="1.0"/>
<path d="M656.5,1264.6 Q649.2,1256.4 644,1254.6 Q638.8,1252.8 633.4,1251.9 Q628,1251 622.5,1251.1 Q617,1251.2 617.3,1245.8 Q617.6,1240.3 622.9,1238.8 Q628.2,1237.3 632.4,1240.8 Q636.6,1244.3 641.9,1246.1 Q647.1,1247.8 651.3,1244.3 Q655.6,1240.8 658.4,1236 Q661.2,1231.3 657.1,1235 L653.1,1238.7" fill="none" stroke="#d4107a" stroke-width="1.3" stroke-linecap="round" stroke-linejoin="round" opacity="1.0"/>
<path d="M640.4,1202.2 Q630.4,1206.7 635.8,1207.4 Q641.3,1208.2 643.3,1203.1 Q645.3,1198 650.5,1199.7 Q655.7,1201.5 660.9,1199.7 Q666.1,1197.9 666.4,1203.4 Q666.7,1208.8 661.2,1209.5 Q655.8,1210.2 661.2,1209 Q666.5,1207.9 669.7,1212.4 Q672.8,1216.9 667.6,1218.6 L662.3,1220.4" fill="none" stroke="#c00068" stroke-width="1.6" stroke-linecap="round" stroke-linejoin="round" opacity="1.0"/>
<path d="M641,1201.6 Q636.3,1211.6 631.1,1213.2 Q625.8,1214.8 620.5,1216.4 Q615.3,1217.9 618.2,1213.2 Q621.1,1208.6 626.2,1206.6 Q631.3,1204.6 636.8,1204.2 L642.3,1203.9" fill="none" stroke="#c00068" stroke-width="1" stroke-linecap="round" stroke-linejoin="round" opacity="1.0"/>
<path d="M664.8,1218 Q675.7,1217.2 670.4,1218.4 Q665,1219.6 661.2,1215.7 Q657.3,1211.8 651.9,1210.8 Q646.5,1209.7 642.3,1206.2 Q638.1,1202.6 633.2,1205 Q628.2,1207.4 632.4,1203.8 Q636.5,1200.2 636,1205.7 Q635.5,1211.2 633.4,1216.3 Q631.4,1221.4 629,1226.3 Q626.7,1231.3 621.2,1232.1 Q615.8,1232.9 618.7,1228.3 Q621.6,1223.6 624.1,1218.7 L626.5,1213.8" fill="none" stroke="#d4107a" stroke-width="1.2" stroke-linecap="round" stroke-linejoin="round" opacity="1.0"/>
<path d="M660.5,1200.9 Q649.6,1199.6 655.1,1200.3 Q660.5,1201 666,1201.3 Q671.5,1201.5 666,1201 Q660.5,1200.4 655.1,1200.8 Q649.6,1201.2 653.4,1205.1 Q657.3,1209 661.1,1213 Q664.9,1217 665.3,1222.5 Q665.8,1228 664,1233.2 Q662.3,1238.4 656.8,1237.5 L651.4,1236.6" fill="none" stroke="#c00068" stroke-width="1.6" stroke-linecap="round" stroke-linejoin="round" opacity="1.0"/>
<path d="M675.3,1208.7 Q664.4,1207.2 659,1208 Q653.6,1208.8 648.1,1209.5 Q642.6,1210.2 639.4,1214.6 Q636.2,1219.1 634.2,1224.2 Q632.2,1229.4 633.2,1234.8 Q634.3,1240.2 631.5,1244.9 L628.8,1249.7" fill="none" stroke="#c00068" stroke-width="1.5" stroke-linecap="round" stroke-linejoin="round" opacity="1.0"/>
<path d="M631.4,1266.4 Q642.4,1266.7 647.9,1266 L653.3,1265.4" fill="none" stroke="#d4107a" stroke-width="1.4" stroke-linecap="round" stroke-linejoin="round" opacity="1.0"/>
<path d="M658.7,1209.7 Q667.9,1215.7 670.7,1220.5 Q673.5,1225.2 668.3,1227 Q663,1228.8 660.2,1233.4 Q657.3,1238.1 652.3,1240.5 Q647.3,1242.9 642.8,1239.7 Q638.3,1236.6 632.9,1237.5 Q627.5,1238.4 625.2,1243.5 Q623,1248.5 628.4,1249.5 Q633.8,1250.5 638.3,1247.4 Q642.8,1244.2 644.5,1238.9 Q646.2,1233.7 646.6,1228.2 L646.9,1222.7" fill="none" stroke="#d4107a" stroke-width="1.1" stroke-linecap="round" stroke-linejoin="round" opacity="1.0"/>
<path d="M667.5,1211.3 Q658.5,1217.6 653.6,1220.2 Q648.8,1222.8 644.4,1226.1 Q640,1229.4 634.5,1230.3 Q629.1,1231.1 624.1,1233.3 Q619,1235.5 617.8,1240.9 Q616.5,1246.2 616.1,1251.7 Q615.8,1257.2 620.6,1254.7 Q625.5,1252.2 627.5,1247 Q629.4,1241.9 632.5,1246.4 L635.7,1250.9" fill="none" stroke="#c00068" stroke-width="1.8" stroke-linecap="round" stroke-linejoin="round" opacity="1.0"/>
<path d="M664.8,1208.5 Q673.7,1207.5 669.7,1209.5 Q665.7,1211.5 661.2,1212.2 L656.8,1212.8" fill="none" stroke="#d4107a" stroke-width="6.1" stroke-linecap="round" stroke-linejoin="round" opacity="1.0"/>
<path d="M642.7,1200.2 Q651.4,1202.6 654.4,1205.9 Q657.5,1209.2 656,1213.5 L654.5,1217.7" fill="none" stroke="#c00068" stroke-width="5.9" stroke-linecap="round" stroke-linejoin="round" opacity="1.0"/>
<path d="M660.6,1196.4 Q668.8,1200.2 665.1,1202.8 L661.4,1205.4" fill="none" stroke="#c00068" stroke-width="4.5" stroke-linecap="round" stroke-linejoin="round" opacity="1.0"/>
<path d="M664.1,1214.4 Q658.3,1221.3 659.3,1225.7 Q660.2,1230.1 661.1,1234.5 L661.9,1238.9" fill="none" stroke="#c00068" stroke-width="4.7" stroke-linecap="round" stroke-linejoin="round" opacity="1.0"/>
<path d="M678,1217.9 Q672.4,1225 668.6,1222.6 Q664.8,1220.2 660.3,1219.6 L655.9,1219.1" fill="none" stroke="#c00068" stroke-width="4.3" stroke-linecap="round" stroke-linejoin="round" opacity="1.0"/>
<path d="M673.4,1200.9 Q673.1,1209.9 668.6,1210.5 L664.1,1211" fill="none" stroke="#d4107a" stroke-width="4.5" stroke-linecap="round" stroke-linejoin="round" opacity="1.0"/>
<path d="M647.6,1214.4 Q642.3,1221.7 637.9,1222.7 L633.5,1223.8" fill="none" stroke="#d4107a" stroke-width="4.7" stroke-linecap="round" stroke-linejoin="round" opacity="1.0"/>
<path d="M666.7,1221.3 Q675.3,1224 671.6,1226.5 Q667.9,1229 665.2,1232.6 L662.5,1236.3" fill="none" stroke="#d4107a" stroke-width="6.2" stroke-linecap="round" stroke-linejoin="round" opacity="1.0"/>
<path d="M612.8,1241.2 Q617.4,1233.5 615.4,1229.5 L613.4,1225.5" fill="none" stroke="#d4107a" stroke-width="4" stroke-linecap="round" stroke-linejoin="round" opacity="1.0"/>
<path d="M672.2,1306.2 Q661.3,1304.7 656.1,1306.4 Q650.9,1308.1 655.3,1304.8 Q659.7,1301.5 665,1302.8 Q670.4,1304.2 672.1,1309.4 L673.8,1314.6" fill="none" stroke="#e8e060" stroke-width="1.5" stroke-linecap="round" stroke-linejoin="round" opacity="1.0"/>
<path d="M689.5,1296.7 Q689.2,1307.7 684.6,1304.7 Q679.9,1301.8 684,1305.4 Q688.2,1309 685.5,1304.2 Q682.9,1299.4 683.2,1293.9 Q683.6,1288.4 685.2,1283.2 Q686.9,1278 686.4,1272.5 Q686,1267 691.4,1267.8 Q696.9,1268.5 699.6,1263.8 L702.4,1259" fill="none" stroke="#e8e060" stroke-width="1.2" stroke-linecap="round" stroke-linejoin="round" opacity="1.0"/>
<path d="M703.6,1243.5 Q692.8,1245.9 688,1243.3 Q683.1,1240.7 685.5,1235.8 Q687.9,1230.8 693.1,1228.9 Q698.2,1226.9 702.6,1223.6 Q707.1,1220.3 708.3,1225.7 Q709.6,1231 706,1235.2 Q702.5,1239.4 706.4,1243.3 Q710.3,1247.1 705.7,1250 Q701,1253 703.5,1257.9 Q706.1,1262.8 709.2,1267.3 Q712.4,1271.7 707.8,1274.8 Q703.3,1277.9 700.2,1282.4 L697.2,1287" fill="none" stroke="#e8e060" stroke-width="1.5" stroke-linecap="round" stroke-linejoin="round" opacity="1.0"/>
<path d="M692.4,1286.4 Q690.3,1275.6 689.2,1270.2 Q688.1,1264.8 693.1,1262.5 Q698.1,1260.2 703.2,1258.1 Q708.3,1256 710.5,1261 Q712.8,1266 713.3,1271.5 Q713.8,1276.9 709.3,1273.8 L704.8,1270.6" fill="none" stroke="#f0ea70" stroke-width="1.6" stroke-linecap="round" stroke-linejoin="round" opacity="1.0"/>
<path d="M700.6,1269.6 Q693.9,1260.8 688.5,1259.8 Q683.1,1258.7 688.1,1256.5 Q693.2,1254.2 698.1,1256.8 Q702.9,1259.3 703.5,1264.8 Q704.1,1270.2 705.7,1275.5 Q707.3,1280.8 707.8,1286.2 Q708.4,1291.7 703.7,1288.8 L699,1285.9" fill="none" stroke="#f0ea70" stroke-width="1.3" stroke-linecap="round" stroke-linejoin="round" opacity="1.0"/>
<path d="M644.4,1306.8 Q655.4,1307.4 660.4,1305 Q665.4,1302.7 668.7,1307.1 Q672.1,1311.4 670,1306.3 Q667.8,1301.3 671.6,1305.2 Q675.5,1309.2 670.5,1306.9 Q665.5,1304.5 660.6,1301.9 L655.8,1299.3" fill="none" stroke="#e8e060" stroke-width="1.4" stroke-linecap="round" stroke-linejoin="round" opacity="1.0"/>
<path d="M659.3,1307.7 Q659.9,1296.8 661.8,1301.9 Q663.8,1307 661.2,1302.2 Q658.6,1297.3 658.6,1302.8 Q658.7,1308.3 657.4,1303 L656.2,1297.6" fill="none" stroke="#f0ea70" stroke-width="1.8" stroke-linecap="round" stroke-linejoin="round" opacity="1.0"/>
<path d="M657.6,1303.3 Q652.7,1313.1 647.7,1310.9 Q642.7,1308.6 648.1,1309.3 Q653.6,1309.9 657.7,1306.2 Q661.8,1302.6 666.8,1300.2 Q671.7,1297.9 677.2,1298.3 Q682.7,1298.8 685.5,1303.5 L688.3,1308.2" fill="none" stroke="#e8e060" stroke-width="1.5" stroke-linecap="round" stroke-linejoin="round" opacity="1.0"/>
<path d="M649.7,1296.4 Q660.7,1296.9 665.6,1299.3 Q670.6,1301.7 675.5,1304.1 Q680.5,1306.5 676.4,1302.9 Q672.3,1299.2 667,1300.5 Q661.6,1301.9 657.5,1305.5 Q653.3,1309.1 655.6,1304.1 Q657.9,1299.1 663.3,1298.3 Q668.7,1297.4 670.3,1302.7 Q671.9,1308 677,1309.9 L682.2,1311.7" fill="none" stroke="#e8e060" stroke-width="1.7" stroke-linecap="round" stroke-linejoin="round" opacity="1.0"/>
<path d="M678.1,1298 Q684.2,1307.2 679.6,1310.2 Q675,1313.3 677.1,1308.2 L679.2,1303.1" fill="none" stroke="#f0ea70" stroke-width="0.9" stroke-linecap="round" stroke-linejoin="round" opacity="1.0"/>
<path d="M675.7,1264 Q684.7,1257.7 680.3,1254.4 L675.9,1251.1" fill="none" stroke="#e8e060" stroke-width="1.6" stroke-linecap="round" stroke-linejoin="round" opacity="1.0"/>
<path d="M709.4,1266.7 Q699.4,1271.4 696.6,1276.1 Q693.8,1280.8 692.3,1286.1 L690.8,1291.4" fill="none" stroke="#e8e060" stroke-width="1.5" stroke-linecap="round" stroke-linejoin="round" opacity="1.0"/>
<path d="M693.5,1243.8 Q688.4,1251.2 684,1252.2 L679.6,1253.2" fill="none" stroke="#f0ea70" stroke-width="5.4" stroke-linecap="round" stroke-linejoin="round" opacity="1.0"/>
<path d="M695.8,1248.9 Q704.5,1246.6 706.9,1242.9 L709.4,1239.1" fill="none" stroke="#e8e060" stroke-width="5" stroke-linecap="round" stroke-linejoin="round" opacity="1.0"/>
<path d="M680.6,1230.9 Q683.8,1222.5 686,1218.5 Q688.2,1214.6 690.2,1218.7 L692.1,1222.7" fill="none" stroke="#e8e060" stroke-width="3.7" stroke-linecap="round" stroke-linejoin="round" opacity="1.0"/>
<path d="M508.1,1335.4 Q515.5,1343.6 518.3,1348.3 Q521.1,1353.1 525.3,1356.6 Q529.5,1360.1 534.7,1362.1 Q539.8,1364.1 543.6,1368 Q547.5,1372 542.9,1368.9 Q538.3,1365.9 539.6,1360.6 Q540.8,1355.2 539.8,1349.8 Q538.8,1344.4 539.4,1338.9 L540,1333.5" fill="none" stroke="#e8860c" stroke-width="1.4" stroke-linecap="round" stroke-linejoin="round" opacity="1.0"/>
<path d="M478.5,1316.1 Q487.3,1309.5 489.5,1304.5 Q491.6,1299.4 494.1,1304.3 Q496.6,1309.2 501.4,1311.9 Q506.2,1314.5 511.7,1314.9 Q517.2,1315.2 522.7,1314.6 L528.1,1314.1" fill="none" stroke="#d97a08" stroke-width="1.5" stroke-linecap="round" stroke-linejoin="round" opacity="1.0"/>
<path d="M545.5,1309.3 Q552.1,1318.1 553.3,1323.4 Q554.5,1328.8 554.4,1334.3 Q554.4,1339.8 549.8,1342.9 Q545.2,1346 541.1,1349.6 Q536.9,1353.2 539.4,1358.1 Q541.8,1363.1 542.7,1368.5 Q543.6,1373.9 538.1,1374.4 Q532.7,1374.9 535.1,1379.9 Q537.6,1384.8 534,1380.6 Q530.5,1376.4 526.7,1372.4 Q522.9,1368.5 519.6,1364 Q516.4,1359.5 515,1354.2 L513.6,1348.9" fill="none" stroke="#e8860c" stroke-width="1.5" stroke-linecap="round" stroke-linejoin="round" opacity="1.0"/>
<path d="M484.1,1371.5 Q493.4,1377.5 496.5,1382 Q499.6,1386.6 504.8,1384.8 Q510,1383 515.5,1382.9 Q521,1382.7 526.4,1381.7 Q531.8,1380.7 537.2,1379.8 Q542.7,1378.9 546.1,1374.7 L549.5,1370.4" fill="none" stroke="#d97a08" stroke-width="1" stroke-linecap="round" stroke-linejoin="round" opacity="1.0"/>
<path d="M511.5,1368.8 Q522.3,1371.1 527.5,1372.8 Q532.7,1374.6 528.8,1378.4 Q524.8,1382.3 519.4,1383.1 Q513.9,1383.9 508.6,1382.6 Q503.3,1381.3 499,1377.8 Q494.7,1374.3 489.8,1376.7 Q484.8,1379.1 481.4,1374.8 Q478,1370.5 480.8,1365.7 Q483.5,1360.9 488.6,1358.9 L493.7,1356.8" fill="none" stroke="#e8860c" stroke-width="1.4" stroke-linecap="round" stroke-linejoin="round" opacity="1.0"/>
<path d="M518,1305.5 Q507.4,1302.5 504.2,1298.1 Q501,1293.6 506.5,1292.8 Q511.9,1291.9 517.1,1293.7 Q522.3,1295.4 527.7,1294.4 L533.1,1293.4" fill="none" stroke="#f0941c" stroke-width="1.1" stroke-linecap="round" stroke-linejoin="round" opacity="1.0"/>
<path d="M529.3,1319.4 Q532,1330.1 537.3,1331.8 Q542.5,1333.6 540.4,1338.7 Q538.3,1343.7 535.2,1348.3 Q532.1,1352.8 526.6,1352.1 Q521.2,1351.4 516.2,1349.2 Q511.1,1346.9 509.4,1341.7 Q507.6,1336.5 506.9,1331.1 Q506.2,1325.6 501.1,1323.7 Q495.9,1321.8 490.6,1323.3 Q485.4,1324.9 479.9,1324.7 Q474.4,1324.4 471.2,1328.9 L468.1,1333.4" fill="none" stroke="#d97a08" stroke-width="1.1" stroke-linecap="round" stroke-linejoin="round" opacity="1.0"/>
<path d="M487.4,1370.1 Q491.6,1360 496.7,1362.1 Q501.8,1364.2 505.8,1360.4 Q509.8,1356.6 509.3,1351.1 Q508.7,1345.6 513.1,1342.3 Q517.5,1339 522.4,1336.4 Q527.2,1333.9 530.5,1329.4 Q533.7,1325 537.7,1321.3 Q541.8,1317.5 547.2,1316.9 L552.7,1316.4" fill="none" stroke="#e8860c" stroke-width="1.2" stroke-linecap="round" stroke-linejoin="round" opacity="1.0"/>
<path d="M498.9,1381.2 Q504.5,1371.7 506.9,1366.7 Q509.3,1361.8 514.7,1361.1 Q520.2,1360.5 525.4,1358.8 Q530.7,1357.1 535,1353.7 Q539.2,1350.3 537.8,1345 Q536.4,1339.7 532.3,1335.9 Q528.2,1332.2 525,1327.8 Q521.8,1323.4 518.2,1319.2 Q514.6,1315 513.9,1309.6 Q513.2,1304.1 508.4,1301.4 Q503.6,1298.7 498.1,1298.4 Q492.6,1298.1 492.6,1303.6 L492.7,1309.1" fill="none" stroke="#e8860c" stroke-width="1.6" stroke-linecap="round" stroke-linejoin="round" opacity="1.0"/>
<path d="M498.2,1372.4 Q500,1383.3 504.2,1386.8 Q508.4,1390.3 513.9,1389.7 Q519.4,1389.1 523,1385 Q526.7,1380.9 531.7,1378.7 Q536.8,1376.6 531.9,1379.1 Q527.1,1381.7 521.6,1382.2 Q516.1,1382.8 510.8,1384.2 Q505.5,1385.7 504.6,1380.2 Q503.6,1374.8 502.1,1369.6 Q500.5,1364.3 501.5,1358.9 L502.4,1353.5" fill="none" stroke="#d97a08" stroke-width="1.2" stroke-linecap="round" stroke-linejoin="round" opacity="1.0"/>
<path d="M544.2,1369.6 Q552.2,1362.1 552.1,1356.6 Q552,1351.1 549,1346.5 Q545.9,1341.9 548.5,1337.1 Q551.1,1332.3 556.4,1330.8 L561.7,1329.2" fill="none" stroke="#d97a08" stroke-width="1" stroke-linecap="round" stroke-linejoin="round" opacity="1.0"/>
<path d="M502.6,1333.2 Q496.8,1323.9 494.4,1319 Q491.9,1314 487.4,1310.9 Q482.9,1307.8 478.4,1311 L474,1314.2" fill="none" stroke="#e8860c" stroke-width="1.5" stroke-linecap="round" stroke-linejoin="round" opacity="1.0"/>
<path d="M476.2,1327.5 Q485.9,1322.2 486.4,1316.8 Q487,1311.3 491.9,1313.9 Q496.7,1316.4 499.4,1321.2 Q502,1326.1 501.2,1331.5 Q500.4,1337 494.9,1336.7 Q489.4,1336.4 483.9,1336.8 Q478.4,1337.3 480.1,1342.5 Q481.8,1347.7 485.7,1351.6 Q489.6,1355.5 495.1,1354.9 L500.5,1354.2" fill="none" stroke="#d97a08" stroke-width="1.2" stroke-linecap="round" stroke-linejoin="round" opacity="1.0"/>
<path d="M525.7,1388.7 Q514.8,1387.3 509.3,1386.6 Q503.9,1386 502,1380.8 Q500.1,1375.6 502.3,1370.6 Q504.5,1365.6 508.5,1361.8 Q512.4,1358 517.7,1356.3 L522.9,1354.7" fill="none" stroke="#f0941c" stroke-width="1" stroke-linecap="round" stroke-linejoin="round" opacity="1.0"/>
<path d="M536.3,1353.3 Q547.3,1353 550.5,1357.4 Q553.7,1361.9 549.8,1365.7 Q545.8,1369.5 541,1372 Q536.1,1374.6 531.1,1372.3 Q526,1370.1 520.9,1368.1 Q515.7,1366.2 510.2,1366.3 Q504.7,1366.5 502.2,1361.6 L499.6,1356.7" fill="none" stroke="#e8860c" stroke-width="1.4" stroke-linecap="round" stroke-linejoin="round" opacity="1.0"/>
<path d="M500.8,1350.3 Q492.1,1357.1 492.1,1362.6 Q492.2,1368.1 488.2,1371.8 Q484.1,1375.6 485.5,1370.2 Q486.8,1364.9 490.3,1360.6 Q493.8,1356.4 491.5,1351.4 Q489.2,1346.4 485.5,1342.3 Q481.8,1338.3 476.4,1339.5 Q471.1,1340.8 474.5,1336.5 Q477.9,1332.2 482.7,1329.5 Q487.5,1326.9 493,1326.3 Q498.5,1325.8 503.7,1327.7 Q508.9,1329.5 514.2,1328.2 L519.6,1327" fill="none" stroke="#f0941c" stroke-width="1" stroke-linecap="round" stroke-linejoin="round" opacity="1.0"/>
<path d="M559.4,1330.4 Q553.5,1321.2 553.4,1315.7 Q553.3,1310.2 555.7,1315.1 Q558.1,1320 554.2,1323.9 Q550.2,1327.7 544.8,1328.8 L539.4,1329.9" fill="none" stroke="#e8860c" stroke-width="1.3" stroke-linecap="round" stroke-linejoin="round" opacity="1.0"/>
<path d="M516.6,1305 Q510.7,1314.3 515.1,1317.7 Q519.4,1321.1 519.1,1315.6 Q518.8,1310.1 515.6,1305.6 Q512.4,1301.1 507.6,1298.5 Q502.8,1295.8 508.1,1294.3 Q513.4,1292.8 517.3,1296.7 L521.3,1300.5" fill="none" stroke="#e8860c" stroke-width="1.5" stroke-linecap="round" stroke-linejoin="round" opacity="1.0"/>
<path d="M521,1361.1 Q518.4,1350.4 515.6,1345.6 Q512.8,1340.9 509.7,1336.3 Q506.6,1331.8 503.8,1327.1 Q501.1,1322.3 499.1,1317.2 Q497.2,1312 498.2,1306.6 Q499.2,1301.2 504.3,1299.1 Q509.3,1296.9 511,1302.2 Q512.7,1307.4 515.7,1312 L518.7,1316.6" fill="none" stroke="#e8860c" stroke-width="1.7" stroke-linecap="round" stroke-linejoin="round" opacity="1.0"/>
<path d="M483,1374.9 Q493.4,1371.3 496.9,1367.1 Q500.4,1362.9 505.1,1365.7 Q509.8,1368.6 512.9,1373.1 Q515.9,1377.7 515.9,1383.2 L515.9,1388.7" fill="none" stroke="#e8860c" stroke-width="1.4" stroke-linecap="round" stroke-linejoin="round" opacity="1.0"/>
<path d="M541.1,1351.3 Q541.8,1360.3 538.2,1363 Q534.6,1365.7 530.3,1364.2 L526.1,1362.7" fill="none" stroke="#e8860c" stroke-width="4.3" stroke-linecap="round" stroke-linejoin="round" opacity="1.0"/>
<path d="M508.5,1317.6 Q512.6,1325.5 508.8,1328 L505,1330.4" fill="none" stroke="#f0941c" stroke-width="5.7" stroke-linecap="round" stroke-linejoin="round" opacity="1.0"/>
<path d="M540,1373.6 Q531.4,1376.3 527,1376.8 Q522.5,1377.2 519.6,1373.7 L516.8,1370.2" fill="none" stroke="#d97a08" stroke-width="3.7" stroke-linecap="round" stroke-linejoin="round" opacity="1.0"/>
<path d="M543.8,1366.9 Q535.1,1364.7 534.8,1360.2 Q534.5,1355.7 533.4,1351.3 L532.4,1347" fill="none" stroke="#f0941c" stroke-width="6.5" stroke-linecap="round" stroke-linejoin="round" opacity="1.0"/>
<path d="M511.4,1360.4 Q515.9,1352.6 516.4,1348.1 L517,1343.7" fill="none" stroke="#e8860c" stroke-width="6.3" stroke-linecap="round" stroke-linejoin="round" opacity="1.0"/>
<path d="M513.2,1297.2 Q522.2,1298 526.7,1298.5 Q531.2,1298.9 535.6,1299.5 L540.1,1300.1" fill="none" stroke="#f0941c" stroke-width="5.2" stroke-linecap="round" stroke-linejoin="round" opacity="1.0"/>
<path d="M498.1,1354.7 Q504.5,1348.4 505.7,1344 L506.8,1339.7" fill="none" stroke="#d97a08" stroke-width="4.6" stroke-linecap="round" stroke-linejoin="round" opacity="1.0"/>
<path d="M524.7,1316.7 Q533.5,1314.5 536.9,1317.4 Q540.4,1320.3 544.2,1322.6 L548.1,1325" fill="none" stroke="#f0941c" stroke-width="5" stroke-linecap="round" stroke-linejoin="round" opacity="1.0"/>
<path d="M525.6,1302.6 Q534.5,1301.8 532.4,1297.8 Q530.3,1293.8 534.2,1296.1 L538.1,1298.4" fill="none" stroke="#e8860c" stroke-width="4.2" stroke-linecap="round" stroke-linejoin="round" opacity="1.0"/>
<path d="M514.2,1344.5 Q513.5,1353.5 515.5,1357.5 Q517.5,1361.6 522,1361.7 L526.5,1361.8" fill="none" stroke="#d97a08" stroke-width="4.6" stroke-linecap="round" stroke-linejoin="round" opacity="1.0"/>
<path d="M509.1,1389.1 Q512.1,1380.6 510.7,1376.3 Q509.3,1372.1 509.2,1367.6 L509.1,1363.1" fill="none" stroke="#d97a08" stroke-width="6.4" stroke-linecap="round" stroke-linejoin="round" opacity="1.0"/>
<path d="M524.8,1336.6 Q531.6,1330.7 536,1331.9 L540.3,1333.1" fill="none" stroke="#f0941c" stroke-width="4.7" stroke-linecap="round" stroke-linejoin="round" opacity="1.0"/>
<path d="M556,1351.4 Q552.4,1343.2 548.3,1341.3 Q544.2,1339.4 543.4,1335 L542.7,1330.5" fill="none" stroke="#e8860c" stroke-width="5.8" stroke-linecap="round" stroke-linejoin="round" opacity="1.0"/>
<path d="M494.2,1329.6 Q485.5,1331.7 483.3,1327.8 L481.2,1323.8" fill="none" stroke="#e8860c" stroke-width="5.5" stroke-linecap="round" stroke-linejoin="round" opacity="1.0"/>
<path d="M546.9,1350 Q543.3,1341.8 538.8,1341.5 L534.3,1341.3" fill="none" stroke="#e8860c" stroke-width="3.6" stroke-linecap="round" stroke-linejoin="round" opacity="1.0"/>
<path d="M509.5,1374.5 Q513.3,1382.7 516.9,1385.4 Q520.4,1388.2 520.4,1383.7 L520.3,1379.2" fill="none" stroke="#e8860c" stroke-width="4.9" stroke-linecap="round" stroke-linejoin="round" opacity="1.0"/>
<path d="M478.2,1359.7 Q482,1351.6 486.3,1352.8 L490.7,1354.1" fill="none" stroke="#f0941c" stroke-width="4.3" stroke-linecap="round" stroke-linejoin="round" opacity="1.0"/>
<path d="M488.2,1378 Q482.4,1371.1 482.4,1366.6 L482.4,1362.1" fill="none" stroke="#f0941c" stroke-width="5.1" stroke-linecap="round" stroke-linejoin="round" opacity="1.0"/>
<path d="M510.9,1342.2 Q517.8,1336.5 522.2,1335.5 Q526.6,1334.4 527.7,1330.1 L528.8,1325.7" fill="none" stroke="#f0941c" stroke-width="4.4" stroke-linecap="round" stroke-linejoin="round" opacity="1.0"/>
<path d="M524.7,1292.4 Q515.7,1292.6 511.3,1293.5 Q506.8,1294.4 502.7,1296.3 L498.6,1298.1" fill="none" stroke="#e8860c" stroke-width="4.9" stroke-linecap="round" stroke-linejoin="round" opacity="1.0"/>
<path d="M491.2,1354.1 Q486,1361.4 486.3,1365.9 Q486.6,1370.4 486.9,1374.9 L487.2,1379.4" fill="none" stroke="#e8860c" stroke-width="4.6" stroke-linecap="round" stroke-linejoin="round" opacity="1.0"/>
<path d="M505.1,1338.8 Q513.6,1335.8 516.7,1339.1 Q519.7,1342.4 519.4,1346.9 L519,1351.4" fill="none" stroke="#e8860c" stroke-width="6.4" stroke-linecap="round" stroke-linejoin="round" opacity="1.0"/>
<path d="M619.6,1293.7 Q625.7,1302.9 629.7,1306.7 Q633.7,1310.5 628.8,1313.1 Q624,1315.7 618.6,1314.8 Q613.2,1313.9 614.3,1308.5 Q615.5,1303.1 616.9,1297.8 Q618.4,1292.5 613.7,1289.6 Q609.1,1286.7 604.1,1289 L599.1,1291.3" fill="none" stroke="#cc1010" stroke-width="1.4" stroke-linecap="round" stroke-linejoin="round" opacity="1.0"/>
<path d="M609.1,1317.8 Q598.1,1318.7 592.9,1320.4 Q587.7,1322.1 589.7,1327.2 Q591.7,1332.3 593,1337.7 Q594.2,1343.1 595.3,1348.4 Q596.4,1353.8 595.3,1359.2 Q594.2,1364.6 595.4,1370 Q596.6,1375.4 595.6,1380.8 Q594.6,1386.2 591.7,1390.8 L588.8,1395.5" fill="none" stroke="#dd1a1a" stroke-width="1.4" stroke-linecap="round" stroke-linejoin="round" opacity="1.0"/>
<path d="M590.3,1304.2 Q587.4,1314.8 586.1,1320.1 Q584.8,1325.5 581.3,1329.6 Q577.7,1333.8 572.3,1332.6 Q566.9,1331.4 562.4,1334.5 Q557.8,1337.6 562.3,1334.3 L566.7,1331" fill="none" stroke="#dd1a1a" stroke-width="1.7" stroke-linecap="round" stroke-linejoin="round" opacity="1.0"/>
<path d="M621.2,1300.5 Q622.2,1289.5 618.9,1285.1 Q615.7,1280.6 611.6,1277 Q607.5,1273.3 612.9,1273.8 Q618.4,1274.4 623.8,1275.3 Q629.3,1276.1 624.8,1279.3 Q620.3,1282.4 616.9,1286.8 Q613.5,1291.1 613.3,1296.6 Q613.1,1302.1 607.6,1301.6 Q602.1,1301.2 597.2,1303.7 Q592.3,1306.2 592.8,1300.7 Q593.3,1295.2 593,1289.7 Q592.7,1284.2 597.6,1281.6 L602.4,1279" fill="none" stroke="#e83030" stroke-width="1" stroke-linecap="round" stroke-linejoin="round" opacity="1.0"/>
<path d="M576.8,1275.1 Q568.8,1282.7 565.6,1278.2 Q562.3,1273.8 567.6,1272.4 Q572.9,1271 577.8,1268.4 Q582.6,1265.7 586.3,1269.8 Q590,1273.9 594.5,1270.8 Q599.1,1267.8 599.4,1273.3 Q599.6,1278.8 596.7,1283.4 L593.8,1288.1" fill="none" stroke="#dd1a1a" stroke-width="1.2" stroke-linecap="round" stroke-linejoin="round" opacity="1.0"/>
<path d="M640.4,1335.6 Q646.1,1345.1 641.3,1347.8 Q636.6,1350.6 632.8,1354.6 Q629,1358.5 625.2,1362.6 Q621.5,1366.6 619.8,1371.8 Q618.1,1377.1 614.4,1381.2 Q610.8,1385.4 613.1,1390.4 Q615.3,1395.4 610.5,1392.8 Q605.6,1390.2 600.4,1388.4 Q595.3,1386.5 596.7,1381.2 Q598.2,1375.9 598.4,1370.4 Q598.5,1364.9 598.1,1359.4 Q597.7,1353.9 598.3,1348.5 L598.9,1343" fill="none" stroke="#dd1a1a" stroke-width="1.6" stroke-linecap="round" stroke-linejoin="round" opacity="1.0"/>
<path d="M617.7,1310.2 Q610.6,1301.8 609.3,1296.5 Q608,1291.1 604.5,1286.9 Q601,1282.6 597.3,1278.5 Q593.6,1274.5 588.2,1273.3 L582.9,1272.1" fill="none" stroke="#dd1a1a" stroke-width="1.1" stroke-linecap="round" stroke-linejoin="round" opacity="1.0"/>
<path d="M610.3,1270.9 Q620.7,1274.4 620,1279.8 Q619.3,1285.3 621.4,1290.4 Q623.4,1295.5 618.5,1292.9 Q613.7,1290.3 608.2,1290.2 Q602.7,1290.1 598.5,1286.5 Q594.4,1282.9 594.8,1277.5 Q595.2,1272 598.2,1267.4 Q601.2,1262.8 597.6,1266.9 Q594,1271.1 594.6,1276.6 Q595.1,1282 589.8,1283.1 L584.4,1284.2" fill="none" stroke="#e83030" stroke-width="1.7" stroke-linecap="round" stroke-linejoin="round" opacity="1.0"/>
<path d="M565.9,1284.9 Q555.3,1281.9 560.2,1284.5 Q565.1,1287 562.4,1291.8 Q559.7,1296.6 562.7,1301.2 Q565.7,1305.8 563.7,1300.7 Q561.8,1295.5 563.5,1290.3 L565.3,1285.1" fill="none" stroke="#e83030" stroke-width="1.4" stroke-linecap="round" stroke-linejoin="round" opacity="1.0"/>
<path d="M558.9,1339.5 Q569.9,1340.5 575.4,1340.7 Q580.8,1340.8 583.5,1345.6 Q586.1,1350.5 590.3,1354 Q594.5,1357.6 596,1352.3 Q597.6,1347.1 593.7,1343.2 Q589.8,1339.3 584.6,1341 Q579.3,1342.7 573.8,1342.9 Q568.3,1343 562.9,1342.1 L557.5,1341.2" fill="none" stroke="#dd1a1a" stroke-width="1.5" stroke-linecap="round" stroke-linejoin="round" opacity="1.0"/>
<path d="M608.7,1296.8 Q608.8,1285.8 611.9,1281.2 Q615,1276.7 620.5,1276.7 Q626,1276.7 623,1281.3 Q620,1285.9 616.3,1289.9 L612.5,1293.9" fill="none" stroke="#dd1a1a" stroke-width="1.5" stroke-linecap="round" stroke-linejoin="round" opacity="1.0"/>
<path d="M589.5,1299.1 Q582.5,1290.6 579,1286.4 Q575.5,1282.1 571.2,1278.8 Q566.9,1275.4 571.2,1272 Q575.5,1268.6 581,1269 Q586.5,1269.5 591.9,1269.1 Q597.4,1268.6 601.5,1272.3 L605.6,1276" fill="none" stroke="#e83030" stroke-width="0.9" stroke-linecap="round" stroke-linejoin="round" opacity="1.0"/>
<path d="M630.6,1274.8 Q623.9,1283.6 620.6,1279.2 Q617.4,1274.7 621.4,1278.5 Q625.5,1282.2 629.3,1286.2 Q633.1,1290.2 628.5,1287.1 Q623.9,1284 621.1,1279.3 Q618.4,1274.5 614.3,1270.8 L610.3,1267" fill="none" stroke="#cc1010" stroke-width="1.5" stroke-linecap="round" stroke-linejoin="round" opacity="1.0"/>
<path d="M572.8,1320.7 Q583.3,1317.3 586.6,1312.8 Q589.8,1308.4 593.7,1304.5 Q597.5,1300.5 601.1,1296.4 Q604.7,1292.2 600.2,1289.1 Q595.7,1285.9 590.6,1283.7 Q585.6,1281.5 581.7,1277.6 Q577.9,1273.7 582.8,1276.1 Q587.7,1278.6 591.4,1274.5 Q595.1,1270.4 600.1,1272.6 Q605.2,1274.7 608.2,1279.3 Q611.3,1283.9 616.8,1284.4 L622.3,1284.9" fill="none" stroke="#e83030" stroke-width="1.7" stroke-linecap="round" stroke-linejoin="round" opacity="1.0"/>
<path d="M613.6,1345.6 Q624.6,1345.9 629,1342.6 Q633.4,1339.2 638.5,1337.2 Q643.6,1335.1 641.5,1340.2 Q639.4,1345.3 634,1344.3 Q628.6,1343.2 623.5,1341.3 Q618.4,1339.3 613.9,1336.2 Q609.4,1333 609.5,1327.5 Q609.7,1322 614.1,1318.8 Q618.5,1315.5 614.4,1311.9 Q610.2,1308.3 614.7,1305 L619.2,1301.8" fill="none" stroke="#cc1010" stroke-width="1.2" stroke-linecap="round" stroke-linejoin="round" opacity="1.0"/>
<path d="M588.2,1265.1 Q597.5,1271 602.8,1272.4 Q608.1,1273.8 613.1,1271.5 Q618.1,1269.2 618.5,1274.7 Q618.9,1280.2 617.2,1285.4 Q615.5,1290.7 611.4,1294.4 Q607.4,1298.1 603.7,1302.2 L600.1,1306.4" fill="none" stroke="#cc1010" stroke-width="1.6" stroke-linecap="round" stroke-linejoin="round" opacity="1.0"/>
<path d="M643.9,1373.4 Q632.9,1372.7 633,1378.2 Q633,1383.7 627.9,1381.9 Q622.7,1380.1 617.6,1377.9 Q612.6,1375.7 608.4,1372.1 L604.2,1368.5" fill="none" stroke="#dd1a1a" stroke-width="0.9" stroke-linecap="round" stroke-linejoin="round" opacity="1.0"/>
<path d="M603.2,1267.9 Q605.2,1278.7 602.6,1283.6 Q599.9,1288.4 598.5,1293.7 Q597.1,1299 595.4,1304.3 Q593.8,1309.5 588.6,1307.7 Q583.4,1305.9 584.5,1300.6 Q585.7,1295.2 590.9,1297.2 Q596,1299.3 595.9,1304.8 Q595.9,1310.3 596.2,1315.7 Q596.6,1321.2 597.7,1326.6 Q598.8,1332 604.3,1331.9 Q609.8,1331.7 611.9,1336.8 Q614,1341.9 610.2,1345.9 L606.5,1349.9" fill="none" stroke="#e83030" stroke-width="1.2" stroke-linecap="round" stroke-linejoin="round" opacity="1.0"/>
<path d="M588.9,1373.7 Q599.4,1370.3 601,1365.1 Q602.6,1359.8 604.3,1354.6 Q605.9,1349.3 603.3,1344.5 Q600.6,1339.7 596.4,1336.1 L592.3,1332.5" fill="none" stroke="#dd1a1a" stroke-width="1.5" stroke-linecap="round" stroke-linejoin="round" opacity="1.0"/>
<path d="M576.3,1382.8 L577.9,1393.7" fill="none" stroke="#e83030" stroke-width="1.3" stroke-linecap="round" stroke-linejoin="round" opacity="1.0"/>
<path d="M583.7,1314 Q573.1,1317 572.4,1311.6 Q571.6,1306.1 575.4,1302.1 Q579.2,1298.1 575.1,1294.4 Q571.1,1290.7 567.9,1286.2 Q564.7,1281.7 570.2,1282.1 L575.7,1282.5" fill="none" stroke="#e83030" stroke-width="1.1" stroke-linecap="round" stroke-linejoin="round" opacity="1.0"/>
<path d="M573.8,1376.4 Q567.7,1367.3 566.3,1362 Q564.9,1356.7 568.9,1352.9 Q572.9,1349.1 573.8,1343.7 Q574.6,1338.3 574.9,1332.8 Q575.2,1327.3 578.9,1323.1 Q582.5,1319 579.2,1314.6 Q576,1310.1 571,1307.9 Q565.9,1305.6 566.9,1300.2 Q567.8,1294.8 566.3,1289.5 Q564.8,1284.2 563.4,1278.9 Q562,1273.6 566.9,1276.1 Q571.8,1278.7 570.1,1284 L568.5,1289.2" fill="none" stroke="#e83030" stroke-width="1.2" stroke-linecap="round" stroke-linejoin="round" opacity="1.0"/>
<path d="M607.8,1304.8 Q617.6,1299.8 623,1299.5 Q628.5,1299.1 631.5,1303.8 Q634.4,1308.4 633,1313.8 Q631.6,1319.1 629.8,1324.3 L628.1,1329.5" fill="none" stroke="#cc1010" stroke-width="1.5" stroke-linecap="round" stroke-linejoin="round" opacity="1.0"/>
<path d="M578.4,1322.6 Q579.7,1311.7 574.4,1310.4 Q569,1309 573.3,1305.6 Q577.6,1302.2 581.5,1306.1 Q585.3,1310.1 579.9,1308.9 Q574.6,1307.6 571.2,1303.2 Q567.9,1298.9 562.8,1301 Q557.7,1303.2 561.3,1299 Q564.8,1294.7 560.3,1291.6 Q555.8,1288.4 561.2,1289.6 Q566.5,1290.8 565.1,1296.1 Q563.7,1301.4 565.9,1306.4 Q568.1,1311.4 573,1314.1 L577.8,1316.8" fill="none" stroke="#e83030" stroke-width="1.1" stroke-linecap="round" stroke-linejoin="round" opacity="1.0"/>
<path d="M612.7,1390.1 Q623.4,1387.6 626.3,1392.2 Q629.3,1396.9 626.9,1391.9 Q624.5,1386.9 619.6,1384.4 Q614.8,1381.9 609.3,1381 Q603.9,1380.2 598.6,1381.8 Q593.3,1383.3 594.1,1388.8 Q594.8,1394.2 589.4,1393.1 L584,1392" fill="none" stroke="#dd1a1a" stroke-width="1.6" stroke-linecap="round" stroke-linejoin="round" opacity="1.0"/>
<path d="M618.2,1395.8 Q611.8,1386.9 606.6,1385.3 Q601.3,1383.7 598.8,1388.5 Q596.2,1393.4 596.3,1398.9 Q596.3,1404.4 598.7,1399.5 Q601.1,1394.5 601.8,1389 L602.4,1383.6" fill="none" stroke="#dd1a1a" stroke-width="1.2" stroke-linecap="round" stroke-linejoin="round" opacity="1.0"/>
<path d="M585.1,1288 Q591.4,1297 595.2,1301 Q598.9,1305 603.7,1302.3 Q608.5,1299.6 613.4,1297.1 Q618.3,1294.6 623.6,1296.2 Q628.8,1297.9 634,1296.1 Q639.2,1294.3 635.9,1289.9 Q632.6,1285.5 627.1,1286.2 Q621.7,1286.9 616.9,1284.2 Q612.1,1281.5 614.1,1276.4 L616.1,1271.3" fill="none" stroke="#cc1010" stroke-width="1.2" stroke-linecap="round" stroke-linejoin="round" opacity="1.0"/>
<path d="M632.8,1282.7 Q629.4,1293.2 626.2,1297.6 Q622.9,1302.1 622.9,1307.6 Q622.9,1313.1 624.5,1318.3 Q626.1,1323.6 623.1,1328.2 Q620.1,1332.8 620.8,1338.3 Q621.4,1343.7 626.9,1344.3 L632.4,1345" fill="none" stroke="#e83030" stroke-width="1.3" stroke-linecap="round" stroke-linejoin="round" opacity="1.0"/>
<path d="M557.8,1304.8 Q568.7,1303.2 573.9,1305 Q579.1,1306.7 582.8,1310.8 Q586.5,1314.9 586.8,1320.4 Q587.1,1325.9 587.1,1331.4 L587.2,1336.9" fill="none" stroke="#cc1010" stroke-width="1.6" stroke-linecap="round" stroke-linejoin="round" opacity="1.0"/>
<path d="M597.7,1327.3 Q601.8,1317.1 598.6,1312.6 Q595.4,1308.2 595.1,1302.7 Q594.8,1297.2 591.9,1292.5 Q589,1287.9 584,1285.6 Q579,1283.3 573.5,1283.9 Q568,1284.6 564.5,1288.8 Q560.9,1293 561.7,1298.5 L562.5,1303.9" fill="none" stroke="#e83030" stroke-width="1.3" stroke-linecap="round" stroke-linejoin="round" opacity="1.0"/>
<path d="M621.1,1298.5 Q612.1,1298.9 608.9,1295.7 Q605.8,1292.6 601.3,1293.1 L596.8,1293.6" fill="none" stroke="#cc1010" stroke-width="3.8" stroke-linecap="round" stroke-linejoin="round" opacity="1.0"/>
<path d="M627.4,1321.2 Q618.4,1321.3 616.3,1317.3 Q614.3,1313.3 618.5,1311.7 L622.7,1310.1" fill="none" stroke="#cc1010" stroke-width="5" stroke-linecap="round" stroke-linejoin="round" opacity="1.0"/>
<path d="M633.2,1392.4 Q636.5,1384 640.3,1381.5 Q644,1378.9 645.1,1374.6 L646.3,1370.2" fill="none" stroke="#cc1010" stroke-width="4.9" stroke-linecap="round" stroke-linejoin="round" opacity="1.0"/>
<path d="M581.2,1294.6 Q584,1286 587,1282.6 L590,1279.3" fill="none" stroke="#cc1010" stroke-width="5" stroke-linecap="round" stroke-linejoin="round" opacity="1.0"/>
<path d="M604.7,1368.9 Q609.8,1361.5 608.4,1357.2 L607.1,1352.9" fill="none" stroke="#e83030" stroke-width="4.7" stroke-linecap="round" stroke-linejoin="round" opacity="1.0"/>
<path d="M567.2,1348.3 Q575.3,1352.3 571.7,1355 L568.1,1357.7" fill="none" stroke="#dd1a1a" stroke-width="3.9" stroke-linecap="round" stroke-linejoin="round" opacity="1.0"/>
<path d="M591.6,1315.3 Q597.3,1322.2 600.2,1325.6 Q603.2,1329 606.1,1332.4 L609.1,1335.9" fill="none" stroke="#e83030" stroke-width="4.4" stroke-linecap="round" stroke-linejoin="round" opacity="1.0"/>
<path d="M590.3,1372.5 Q595.5,1379.9 599.9,1380.5 L604.4,1381" fill="none" stroke="#cc1010" stroke-width="5.9" stroke-linecap="round" stroke-linejoin="round" opacity="1.0"/>
<path d="M585,1351.6 Q576.1,1352.4 573.8,1348.5 L571.5,1344.7" fill="none" stroke="#e83030" stroke-width="4.6" stroke-linecap="round" stroke-linejoin="round" opacity="1.0"/>
<path d="M573.6,1303.4 Q564.9,1301 560.4,1300.4 Q556,1299.7 560.5,1299.8 L565,1299.9" fill="none" stroke="#cc1010" stroke-width="3.9" stroke-linecap="round" stroke-linejoin="round" opacity="1.0"/>
<path d="M571.4,1275.2 Q565.4,1281.9 568.8,1284.7 Q572.3,1287.6 568.9,1290.4 L565.4,1293.3" fill="none" stroke="#e83030" stroke-width="5" stroke-linecap="round" stroke-linejoin="round" opacity="1.0"/>
<path d="M576.4,1353.2 Q571.5,1360.7 568,1363.5 Q564.5,1366.4 563.6,1370.8 L562.8,1375.2" fill="none" stroke="#dd1a1a" stroke-width="3.9" stroke-linecap="round" stroke-linejoin="round" opacity="1.0"/>
<path d="M649.8,1368.1 L652.7,1359.6" fill="none" stroke="#e83030" stroke-width="4.8" stroke-linecap="round" stroke-linejoin="round" opacity="1.0"/>
<path d="M587.5,1323.4 Q580.4,1317.8 576.3,1316.1 L572.1,1314.3" fill="none" stroke="#e83030" stroke-width="3.9" stroke-linecap="round" stroke-linejoin="round" opacity="1.0"/>
<path d="M595.8,1294.6 Q587.5,1298.1 583.5,1295.9 Q579.5,1293.8 575.9,1296.5 L572.3,1299.2" fill="none" stroke="#e83030" stroke-width="6.3" stroke-linecap="round" stroke-linejoin="round" opacity="1.0"/>
<path d="M592.4,1321.5 Q601.1,1319.3 604.3,1316.1 L607.5,1312.9" fill="none" stroke="#dd1a1a" stroke-width="5.1" stroke-linecap="round" stroke-linejoin="round" opacity="1.0"/>
<path d="M597.2,1315.8 Q606.1,1316.8 610.1,1318.9 L614,1321.1" fill="none" stroke="#cc1010" stroke-width="5.1" stroke-linecap="round" stroke-linejoin="round" opacity="1.0"/>
<path d="M581.5,1340.6 Q584.9,1332.3 583.1,1328.2 L581.3,1324" fill="none" stroke="#dd1a1a" stroke-width="3.8" stroke-linecap="round" stroke-linejoin="round" opacity="1.0"/>
<path d="M640,1188 C631.1,1194.1 635.1,1201.3 645,1197 C636.1,1203.1 640.1,1210.3 650,1206 C641.1,1212.1 645.1,1219.3 655,1215" fill="none" stroke="#c00068" stroke-width="5" stroke-linecap="round"/>
<path d="M668,1232 C657.6,1235.1 659.2,1243.1 670,1242 C659.6,1245.1 661.2,1253.1 672,1252 C661.6,1255.1 663.2,1263.1 674,1262" fill="none" stroke="#c00068" stroke-width="5" stroke-linecap="round"/>
<path d="M548,1240 C545.1,1250.5 552.3,1253.1 557,1243.3 C554.1,1253.8 561.3,1256.5 566,1246.7 C563.1,1257.1 570.3,1259.8 575,1250" fill="none" stroke="#2aa82a" stroke-width="5" stroke-linecap="round"/>
<path d="M580,1255 C575.8,1265 581.2,1267.7 586.7,1258.3 C582.5,1268.3 587.8,1271 593.3,1261.7 C589.2,1271.7 594.5,1274.3 600,1265" fill="none" stroke="#33c433" stroke-width="5" stroke-linecap="round"/>
<path d="M690,1262 C680.3,1266.7 682.9,1273.7 693.3,1270.7 C683.6,1275.4 686.3,1282.3 696.7,1279.3 C686.9,1284.1 689.6,1291 700,1288" fill="none" stroke="#33c433" stroke-width="5" stroke-linecap="round"/>
<path d="M520,1305 C516.4,1315.2 523.9,1318.7 529.3,1309.3 C525.7,1319.6 533.2,1323 538.7,1313.7 C535.1,1323.9 542.5,1327.4 548,1318" fill="none" stroke="#e8860c" stroke-width="5" stroke-linecap="round"/>
<path d="M472,1318 C464,1325.3 469.3,1332.5 478.7,1327 C470.7,1334.3 476,1341.5 485.3,1336 C477.3,1343.3 482.7,1350.5 492,1345" fill="none" stroke="#e8860c" stroke-width="5" stroke-linecap="round"/>
<path d="M525,1330 C521.2,1340.2 529.2,1344.2 535,1335 C531.2,1345.2 539.2,1349.2 545,1340 C541.2,1350.2 549.2,1354.2 555,1345" fill="none" stroke="#e8860c" stroke-width="5" stroke-linecap="round"/>
<path d="M575,1328 C572.9,1338.6 579.6,1340.5 583.3,1330.3 C581.3,1341 587.9,1342.8 591.7,1332.7 C589.6,1343.3 596.3,1345.2 600,1335" fill="none" stroke="#bb0000" stroke-width="5" stroke-linecap="round"/>
<path d="M612,1358 C609.3,1368.5 618.9,1372.3 624,1362.7 C621.3,1373.2 630.9,1376.9 636,1367.3 C633.3,1377.9 642.9,1381.6 648,1372" fill="none" stroke="#ee1111" stroke-width="5" stroke-linecap="round"/>
<path d="M578,1398 C581.6,1408.2 590.7,1406.1 589.3,1395.3 C592.9,1405.6 602,1403.4 600.7,1392.7 C604.3,1402.9 613.3,1400.8 612,1390" fill="none" stroke="#ee1111" stroke-width="5" stroke-linecap="round"/>
<path d="M640,1340 C630.9,1345.9 634.1,1351.8 644,1347.3 C634.9,1353.2 638.1,1359.1 648,1354.7 C638.9,1360.6 642.1,1366.4 652,1362" fill="none" stroke="#ee1111" stroke-width="5" stroke-linecap="round"/>
<path d="M515,1282 C507.2,1289.5 511.2,1294.3 520,1288 C512.2,1295.5 516.2,1300.3 525,1294 C517.2,1301.5 521.2,1306.3 530,1300" fill="none" stroke="#33c433" stroke-width="5" stroke-linecap="round"/>
<line x1="462" y1="1245" x2="500" y2="1232" stroke="#2f86e0" stroke-width="5" stroke-linecap="butt"/>
<line x1="468" y1="1262" x2="503" y2="1240" stroke="#2f86e0" stroke-width="5" stroke-linecap="butt"/>
<line x1="485" y1="1290" x2="500" y2="1245" stroke="#2f86e0" stroke-width="5" stroke-linecap="butt"/>
<line x1="605" y1="1270" x2="655" y2="1262" stroke="#c00068" stroke-width="5" stroke-linecap="butt"/>
<line x1="612" y1="1282" x2="650" y2="1248" stroke="#a0005a" stroke-width="5" stroke-linecap="butt"/>
<line x1="610" y1="1288" x2="680" y2="1282" stroke="#2aa82a" stroke-width="5" stroke-linecap="butt"/>
<line x1="620" y1="1295" x2="690" y2="1275" stroke="#44bb44" stroke-width="5" stroke-linecap="butt"/>
<line x1="500" y1="1350" x2="510" y2="1390" stroke="#e07c08" stroke-width="5" stroke-linecap="butt"/>
<line x1="515" y1="1348" x2="522" y2="1385" stroke="#e07c08" stroke-width="5" stroke-linecap="butt"/>
<line x1="600" y1="1310" x2="628" y2="1355" stroke="#cc1010" stroke-width="5" stroke-linecap="butt"/>
<line x1="612" y1="1300" x2="640" y2="1340" stroke="#cc1010" stroke-width="5" stroke-linecap="butt"/>
</g>
<line x1="602" y1="1178.2" x2="641.2" y2="1198.4" stroke="#000" stroke-width="1.6"/>
<line x1="460.6" y1="1214.8" x2="479.5" y2="1240" stroke="#000" stroke-width="1.6"/>
<line x1="660" y1="1300.7" x2="679.8" y2="1328.4" stroke="#000" stroke-width="1.6"/>
<line x1="506" y1="1389" x2="487" y2="1414.3" stroke="#000" stroke-width="1.6"/>
<line x1="609" y1="1397.9" x2="625.5" y2="1415.6" stroke="#000" stroke-width="1.6"/>
<defs><filter id="surf" x="-6%" y="-6%" width="112%" height="112%" color-interpolation-filters="sRGB"><feTurbulence type="fractalNoise" baseFrequency="0.07" numOctaves="2" seed="3" result="dn"/><feDisplacementMap in="SourceGraphic" in2="dn" scale="9" xChannelSelector="R" yChannelSelector="G" result="shape"/><feTurbulence type="fractalNoise" baseFrequency="0.03" numOctaves="3" seed="4" result="n1"/><feColorMatrix in="n1" type="matrix" values="0 0 0 0 1  0 0 0 0 0.88  0 0 0 0 0.88  3.2 0 0 0 -1.72" result="wh"/><feComposite in="wh" in2="shape" operator="in" result="wh2"/><feMerge result="col"><feMergeNode in="shape"/><feMergeNode in="wh2"/></feMerge><feTurbulence type="fractalNoise" baseFrequency="0.09" numOctaves="3" seed="8" result="bump"/><feDiffuseLighting in="bump" surfaceScale="2.2" diffuseConstant="1.15" lighting-color="#ffffff" result="light"><feDistantLight azimuth="225" elevation="50"/></feDiffuseLighting><feComposite in="col" in2="light" operator="arithmetic" k1="0.42" k2="0.62" k3="0" k4="0" result="lit"/><feComposite in="lit" in2="shape" operator="in"/></filter></defs>
<defs><filter id="bl6" x="-50%" y="-50%" width="200%" height="200%"><feGaussianBlur stdDeviation="6"/></filter><filter id="bl2" x="-50%" y="-50%" width="200%" height="200%"><feGaussianBlur stdDeviation="1.5"/></filter></defs>
<clipPath id="c3"><path d="M794.2,1208.5 C794.8,1205.1 795.4,1198.4 799.5,1193.4 C803.6,1188.4 813.4,1180.9 819,1178.4 C824.6,1175.9 828.5,1179.3 833.2,1178.4 C837.9,1177.5 842.1,1174.2 847.4,1173 C852.7,1171.8 859.5,1172 865.1,1171.3 C870.7,1170.6 876.1,1168.3 881.1,1168.6 C886.1,1168.9 891.5,1169.4 895.3,1173 C899.1,1176.6 900.9,1187.8 904.1,1190 C907.4,1192.2 910.4,1188.1 914.8,1186.4 C919.2,1184.8 925.1,1182.5 930.7,1180.1 C936.3,1177.7 944.1,1172.5 948.5,1172.2 C952.9,1171.9 952.9,1177.2 957.3,1178.4 C961.7,1179.6 969.2,1178.7 975.1,1179.3 C981,1179.9 989.3,1180.3 992.8,1181.9 C996.3,1183.5 993.3,1187.5 996.3,1189 C999.2,1190.5 1004.6,1190.6 1010.5,1190.8 C1016.4,1191 1027.1,1188.1 1031.8,1189.9 C1036.5,1191.7 1033.6,1197.7 1038.9,1201.4 C1044.2,1205.1 1058.1,1208.2 1063.7,1212.1 C1069.3,1215.9 1071.7,1219.5 1072.6,1224.5 C1073.5,1229.5 1070.5,1237.6 1069,1242.2 C1067.5,1246.8 1067,1247.6 1063.7,1252 C1060.5,1256.4 1052.5,1263.3 1049.5,1268.8 C1046.5,1274.3 1046.9,1278 1046,1284.8 C1045.1,1291.6 1045.7,1302.5 1044.2,1309.6 C1042.7,1316.7 1038.6,1321.4 1037.1,1327.3 C1035.6,1333.2 1036.9,1339.8 1035.4,1345.1 C1033.9,1350.4 1032.2,1356 1028.3,1359.3 C1024.4,1362.5 1016.4,1364.6 1012.3,1364.6 C1008.1,1364.6 1005.2,1365.5 1003.4,1359.3 C1001.6,1353.1 1002.6,1337.3 1001.7,1327.3 C1000.8,1317.2 999.3,1304.7 998.1,1299 C996.9,1293.3 995.2,1289.8 994.6,1293 C994,1296.2 995.5,1311 994.6,1318.5 C993.7,1326 991.1,1332.4 989.3,1338 C987.5,1343.6 987.8,1349.8 983.9,1352.2 C980,1354.6 972.1,1351.3 966.2,1352.2 C960.3,1353.1 952.9,1356 948.5,1357.5 C944.1,1359 944,1361 939.6,1361 C935.2,1361 927.8,1358.7 921.9,1357.5 C916,1356.3 910,1354.2 904.1,1353.9 C898.2,1353.6 891.7,1355.4 886.4,1355.7 C881.1,1356 876.6,1358.1 872.2,1355.7 C867.8,1353.3 863.3,1346.2 859.8,1341.5 C856.2,1336.8 854.1,1331.7 850.9,1327.3 C847.6,1322.9 843.5,1319.3 840.3,1314.9 C837,1310.5 832.9,1305.1 831.4,1300.7 C829.9,1296.3 829.6,1292.7 831.4,1288.3 C833.2,1283.9 839.4,1278.8 842.1,1274.1 C844.8,1269.4 846.5,1263.8 847.4,1260 C848.3,1256.2 849.8,1253.5 847.4,1251.1 C845,1248.7 837.6,1247.9 833.2,1245.8 C828.8,1243.7 824.3,1242.2 820.8,1238.7 C817.2,1235.2 816,1228.7 811.9,1224.5 C807.8,1220.3 799,1216.5 796,1213.8 C793,1211.1 793.6,1211.9 794.2,1208.5 Z"/></clipPath>
<g filter="url(#surf)"><path d="M794.2,1208.5 C794.8,1205.1 795.4,1198.4 799.5,1193.4 C803.6,1188.4 813.4,1180.9 819,1178.4 C824.6,1175.9 828.5,1179.3 833.2,1178.4 C837.9,1177.5 842.1,1174.2 847.4,1173 C852.7,1171.8 859.5,1172 865.1,1171.3 C870.7,1170.6 876.1,1168.3 881.1,1168.6 C886.1,1168.9 891.5,1169.4 895.3,1173 C899.1,1176.6 900.9,1187.8 904.1,1190 C907.4,1192.2 910.4,1188.1 914.8,1186.4 C919.2,1184.8 925.1,1182.5 930.7,1180.1 C936.3,1177.7 944.1,1172.5 948.5,1172.2 C952.9,1171.9 952.9,1177.2 957.3,1178.4 C961.7,1179.6 969.2,1178.7 975.1,1179.3 C981,1179.9 989.3,1180.3 992.8,1181.9 C996.3,1183.5 993.3,1187.5 996.3,1189 C999.2,1190.5 1004.6,1190.6 1010.5,1190.8 C1016.4,1191 1027.1,1188.1 1031.8,1189.9 C1036.5,1191.7 1033.6,1197.7 1038.9,1201.4 C1044.2,1205.1 1058.1,1208.2 1063.7,1212.1 C1069.3,1215.9 1071.7,1219.5 1072.6,1224.5 C1073.5,1229.5 1070.5,1237.6 1069,1242.2 C1067.5,1246.8 1067,1247.6 1063.7,1252 C1060.5,1256.4 1052.5,1263.3 1049.5,1268.8 C1046.5,1274.3 1046.9,1278 1046,1284.8 C1045.1,1291.6 1045.7,1302.5 1044.2,1309.6 C1042.7,1316.7 1038.6,1321.4 1037.1,1327.3 C1035.6,1333.2 1036.9,1339.8 1035.4,1345.1 C1033.9,1350.4 1032.2,1356 1028.3,1359.3 C1024.4,1362.5 1016.4,1364.6 1012.3,1364.6 C1008.1,1364.6 1005.2,1365.5 1003.4,1359.3 C1001.6,1353.1 1002.6,1337.3 1001.7,1327.3 C1000.8,1317.2 999.3,1304.7 998.1,1299 C996.9,1293.3 995.2,1289.8 994.6,1293 C994,1296.2 995.5,1311 994.6,1318.5 C993.7,1326 991.1,1332.4 989.3,1338 C987.5,1343.6 987.8,1349.8 983.9,1352.2 C980,1354.6 972.1,1351.3 966.2,1352.2 C960.3,1353.1 952.9,1356 948.5,1357.5 C944.1,1359 944,1361 939.6,1361 C935.2,1361 927.8,1358.7 921.9,1357.5 C916,1356.3 910,1354.2 904.1,1353.9 C898.2,1353.6 891.7,1355.4 886.4,1355.7 C881.1,1356 876.6,1358.1 872.2,1355.7 C867.8,1353.3 863.3,1346.2 859.8,1341.5 C856.2,1336.8 854.1,1331.7 850.9,1327.3 C847.6,1322.9 843.5,1319.3 840.3,1314.9 C837,1310.5 832.9,1305.1 831.4,1300.7 C829.9,1296.3 829.6,1292.7 831.4,1288.3 C833.2,1283.9 839.4,1278.8 842.1,1274.1 C844.8,1269.4 846.5,1263.8 847.4,1260 C848.3,1256.2 849.8,1253.5 847.4,1251.1 C845,1248.7 837.6,1247.9 833.2,1245.8 C828.8,1243.7 824.3,1242.2 820.8,1238.7 C817.2,1235.2 816,1228.7 811.9,1224.5 C807.8,1220.3 799,1216.5 796,1213.8 C793,1211.1 793.6,1211.9 794.2,1208.5 Z" fill="#e61c1c"/>
<g clip-path="url(#c3)"><g filter="url(#bl6)">
<ellipse cx="908" cy="1262" rx="22" ry="32" fill="#a80808" opacity="0.7"/>
<ellipse cx="1020" cy="1310" rx="15" ry="35" fill="#b81010" opacity="0.6"/>
<ellipse cx="960" cy="1280" rx="12" ry="20" fill="#a80808" opacity="0.4"/>
<ellipse cx="828" cy="1198" rx="26" ry="16" fill="#fff4f4" opacity="0.80"/>
<ellipse cx="868" cy="1186" rx="18" ry="12" fill="#fff4f4" opacity="0.60"/>
<ellipse cx="855" cy="1215" rx="14" ry="10" fill="#f6b0b0" opacity="0.60"/>
<ellipse cx="985" cy="1232" rx="38" ry="26" fill="#fff4f4" opacity="0.50"/>
<ellipse cx="1005" cy="1205" rx="18" ry="12" fill="#f6b0b0" opacity="0.55"/>
<ellipse cx="940" cy="1200" rx="14" ry="12" fill="#fff4f4" opacity="0.50"/>
<ellipse cx="866" cy="1300" rx="28" ry="18" fill="#f6b0b0" opacity="0.60"/>
<ellipse cx="955" cy="1325" rx="25" ry="22" fill="#fff4f4" opacity="0.55"/>
<ellipse cx="1045" cy="1232" rx="14" ry="14" fill="#f6b0b0" opacity="0.50"/>
<ellipse cx="840" cy="1270" rx="12" ry="12" fill="#f6b0b0" opacity="0.45"/>
<ellipse cx="900" cy="1330" rx="14" ry="10" fill="#f6b0b0" opacity="0.45"/>
<ellipse cx="1025" cy="1345" rx="10" ry="10" fill="#f6b0b0" opacity="0.45"/>
</g><g filter="url(#bl2)">
<ellipse cx="820" cy="1220" rx="7" ry="6" fill="#a8b0ee"/>
<ellipse cx="795" cy="1212" rx="4" ry="3" fill="#c8ccf0"/>
<ellipse cx="963" cy="1350" rx="7" ry="4" fill="#aab0e8"/>
<ellipse cx="918" cy="1202" rx="5" ry="4" fill="#c0c4f0"/>
</g></g></g>
<clipPath id="c4"><path d="M1199.4,1189.6 C1200.5,1185.5 1205.5,1183.5 1209.3,1179.7 C1213.1,1175.9 1217.5,1169.8 1222.5,1166.5 C1227.5,1163.2 1233.5,1161.4 1239,1159.9 C1244.5,1158.4 1250,1156.3 1255.5,1157.4 C1261,1158.5 1267,1163.3 1272,1166.5 C1277,1169.7 1282.5,1172.3 1285.2,1176.4 C1288,1180.5 1285.8,1189.3 1288.5,1191.2 C1291.2,1193.1 1296.2,1187.5 1301.7,1188 C1307.2,1188.5 1315.5,1192.6 1321.5,1194.5 C1327.5,1196.4 1335,1195.9 1338,1199.5 C1341,1203.1 1337.9,1211 1339.6,1216 C1341.2,1221 1345.4,1225.6 1347.9,1229.2 C1350.4,1232.8 1354,1232.7 1354.5,1237.4 C1355,1242.1 1352,1250.9 1351.2,1257.2 C1350.4,1263.5 1350.9,1270.7 1349.5,1275.4 C1348.1,1280.1 1346.8,1281.5 1343,1285.3 C1339.2,1289.1 1330,1293.5 1326.4,1298.5 C1322.8,1303.5 1322.3,1307.3 1321.5,1315 C1320.7,1322.7 1324.2,1337.8 1321.5,1344.7 C1318.8,1351.6 1310,1351 1305,1356.2 C1300,1361.4 1295.6,1370.8 1291.8,1376 C1288,1381.2 1285.8,1386.2 1281.9,1387.6 C1278.1,1389 1272.3,1385.9 1268.7,1384.3 C1265.1,1382.7 1261.5,1382.1 1260.4,1377.7 C1259.3,1373.3 1262.9,1362 1262.1,1357.9 C1261.3,1353.8 1259.3,1353.5 1255.5,1352.9 C1251.7,1352.4 1245,1354 1239,1354.6 C1233,1355.1 1224.7,1357 1219.2,1356.2 C1213.7,1355.4 1209.8,1352.6 1206,1349.6 C1202.2,1346.6 1199.7,1342.5 1196.1,1338.1 C1192.5,1333.7 1189.2,1326.5 1184.5,1323.2 C1179.8,1319.9 1172.7,1321 1168,1318.3 C1163.3,1315.5 1159,1311.1 1156.5,1306.7 C1154,1302.3 1154.3,1298.2 1153.2,1291.9 C1152.1,1285.6 1149.6,1274.8 1149.9,1268.8 C1150.2,1262.8 1153.2,1261.1 1154.8,1255.6 C1156.4,1250.1 1157.9,1241 1159.8,1235.8 C1161.7,1230.6 1162.6,1226.4 1166.4,1224.2 C1170.2,1222 1177.4,1223.4 1182.9,1222.6 C1188.4,1221.8 1196.1,1222.3 1199.4,1219.3 C1202.7,1216.3 1202.7,1209.4 1202.7,1204.4 C1202.7,1199.5 1198.3,1193.7 1199.4,1189.6 Z"/></clipPath>
<g filter="url(#surf)"><path d="M1199.4,1189.6 C1200.5,1185.5 1205.5,1183.5 1209.3,1179.7 C1213.1,1175.9 1217.5,1169.8 1222.5,1166.5 C1227.5,1163.2 1233.5,1161.4 1239,1159.9 C1244.5,1158.4 1250,1156.3 1255.5,1157.4 C1261,1158.5 1267,1163.3 1272,1166.5 C1277,1169.7 1282.5,1172.3 1285.2,1176.4 C1288,1180.5 1285.8,1189.3 1288.5,1191.2 C1291.2,1193.1 1296.2,1187.5 1301.7,1188 C1307.2,1188.5 1315.5,1192.6 1321.5,1194.5 C1327.5,1196.4 1335,1195.9 1338,1199.5 C1341,1203.1 1337.9,1211 1339.6,1216 C1341.2,1221 1345.4,1225.6 1347.9,1229.2 C1350.4,1232.8 1354,1232.7 1354.5,1237.4 C1355,1242.1 1352,1250.9 1351.2,1257.2 C1350.4,1263.5 1350.9,1270.7 1349.5,1275.4 C1348.1,1280.1 1346.8,1281.5 1343,1285.3 C1339.2,1289.1 1330,1293.5 1326.4,1298.5 C1322.8,1303.5 1322.3,1307.3 1321.5,1315 C1320.7,1322.7 1324.2,1337.8 1321.5,1344.7 C1318.8,1351.6 1310,1351 1305,1356.2 C1300,1361.4 1295.6,1370.8 1291.8,1376 C1288,1381.2 1285.8,1386.2 1281.9,1387.6 C1278.1,1389 1272.3,1385.9 1268.7,1384.3 C1265.1,1382.7 1261.5,1382.1 1260.4,1377.7 C1259.3,1373.3 1262.9,1362 1262.1,1357.9 C1261.3,1353.8 1259.3,1353.5 1255.5,1352.9 C1251.7,1352.4 1245,1354 1239,1354.6 C1233,1355.1 1224.7,1357 1219.2,1356.2 C1213.7,1355.4 1209.8,1352.6 1206,1349.6 C1202.2,1346.6 1199.7,1342.5 1196.1,1338.1 C1192.5,1333.7 1189.2,1326.5 1184.5,1323.2 C1179.8,1319.9 1172.7,1321 1168,1318.3 C1163.3,1315.5 1159,1311.1 1156.5,1306.7 C1154,1302.3 1154.3,1298.2 1153.2,1291.9 C1152.1,1285.6 1149.6,1274.8 1149.9,1268.8 C1150.2,1262.8 1153.2,1261.1 1154.8,1255.6 C1156.4,1250.1 1157.9,1241 1159.8,1235.8 C1161.7,1230.6 1162.6,1226.4 1166.4,1224.2 C1170.2,1222 1177.4,1223.4 1182.9,1222.6 C1188.4,1221.8 1196.1,1222.3 1199.4,1219.3 C1202.7,1216.3 1202.7,1209.4 1202.7,1204.4 C1202.7,1199.5 1198.3,1193.7 1199.4,1189.6 Z" fill="#e61c1c"/>
<g clip-path="url(#c4)"><g filter="url(#bl6)">
<ellipse cx="1275" cy="1280" rx="40" ry="32" fill="#b80606" opacity="0.8"/>
<ellipse cx="1172" cy="1290" rx="20" ry="30" fill="#b03030" opacity="0.7"/>
<ellipse cx="1245" cy="1185" rx="28" ry="18" fill="#fff4f4" opacity="0.70"/>
<ellipse cx="1218" cy="1205" rx="12" ry="12" fill="#f6b0b0" opacity="0.60"/>
<ellipse cx="1215" cy="1270" rx="22" ry="32" fill="#fff4f4" opacity="0.80"/>
<ellipse cx="1232" cy="1300" rx="14" ry="16" fill="#fff4f4" opacity="0.60"/>
<ellipse cx="1335" cy="1245" rx="14" ry="24" fill="#fff4f4" opacity="0.75"/>
<ellipse cx="1295" cy="1330" rx="16" ry="22" fill="#f6b0b0" opacity="0.60"/>
<ellipse cx="1280" cy="1370" rx="10" ry="10" fill="#f6b0b0" opacity="0.50"/>
<ellipse cx="1160" cy="1262" rx="10" ry="14" fill="#f6b0b0" opacity="0.45"/>
<ellipse cx="1310" cy="1215" rx="12" ry="10" fill="#f6b0b0" opacity="0.45"/>
</g><g filter="url(#bl2)">
<ellipse cx="1240" cy="1232" rx="5" ry="11" fill="#1a2aa0"/>
<ellipse cx="1248" cy="1240" rx="4" ry="6" fill="#c8ccf0"/>
<ellipse cx="1213" cy="1325" rx="6" ry="4" fill="#a8b0ec"/>
<ellipse cx="1232" cy="1293" rx="6" ry="6" fill="#d0d4f4"/>
<ellipse cx="1350" cy="1235" rx="3" ry="4" fill="#c8ccf0"/>
</g></g></g>
<clipPath id="c5"><path d="M1427,1205.2 C1427.9,1201.8 1429.3,1197.2 1433.9,1191.5 C1438.5,1185.8 1449.7,1176.1 1454.5,1170.9 C1459.3,1165.8 1458.7,1162.3 1463,1160.6 C1467.3,1158.9 1474.8,1161.5 1480.2,1160.6 C1485.7,1159.7 1491.1,1156.4 1495.7,1155.4 C1500.3,1154.4 1504,1152.9 1507.7,1154.6 C1511.4,1156.3 1513.4,1163.8 1518,1165.7 C1522.6,1167.6 1529.4,1164.6 1535.1,1165.7 C1540.8,1166.8 1547.1,1174 1552.3,1172.6 C1557.5,1171.2 1561.7,1160.2 1566,1157.2 C1570.3,1154.2 1574.6,1153.8 1578,1154.6 C1581.4,1155.4 1582.3,1161.9 1586.6,1162.3 C1590.9,1162.7 1598.1,1156 1603.8,1157.2 C1609.5,1158.4 1615.8,1166.4 1620.9,1169.2 C1626.1,1172 1629.6,1175.2 1634.7,1174.3 C1639.8,1173.4 1645.5,1166 1651.8,1164 C1658.1,1162 1666.1,1159.7 1672.4,1162.3 C1678.7,1164.9 1685.6,1173.5 1689.6,1179.5 C1693.6,1185.5 1694.1,1190.6 1696.4,1198.3 C1698.7,1206 1703.9,1217.8 1703.3,1225.8 C1702.7,1233.8 1697.6,1243.5 1693,1246.4 C1688.4,1249.3 1679.9,1241.3 1675.9,1243 C1671.9,1244.7 1670.2,1249.5 1669,1256.7 C1667.8,1263.9 1670.7,1276.8 1669,1285.9 C1667.3,1295.1 1663.9,1304.4 1658.7,1311.6 C1653.5,1318.8 1644.4,1322.5 1638.1,1328.8 C1631.8,1335.1 1628.2,1344.8 1621,1349.4 C1613.8,1354 1603.8,1353.6 1595.2,1356.2 C1586.6,1358.8 1576.7,1363.7 1569.5,1364.8 C1562.3,1365.9 1558.6,1364.5 1552.3,1363.1 C1546,1361.7 1538,1359.6 1531.7,1356.2 C1525.4,1352.8 1519.7,1347.1 1514.5,1342.5 C1509.3,1337.9 1503.6,1334 1500.8,1328.8 C1498,1323.6 1498.2,1317.3 1497.4,1311.6 C1496.6,1305.9 1495.1,1300.2 1495.7,1294.5 C1496.3,1288.8 1499.1,1282.5 1500.8,1277.3 C1502.5,1272.1 1508.3,1266.2 1506,1263.6 C1503.7,1261 1492.2,1264.1 1487.1,1261.8 C1481.9,1259.5 1479.7,1254.1 1475.1,1249.8 C1470.5,1245.5 1463.9,1240.9 1459.6,1236.1 C1455.3,1231.2 1454.4,1224.7 1449.3,1220.7 C1444.2,1216.7 1432.4,1214.7 1428.7,1212.1 C1425,1209.5 1426.1,1208.6 1427,1205.2 Z"/></clipPath>
<g filter="url(#surf)"><path d="M1427,1205.2 C1427.9,1201.8 1429.3,1197.2 1433.9,1191.5 C1438.5,1185.8 1449.7,1176.1 1454.5,1170.9 C1459.3,1165.8 1458.7,1162.3 1463,1160.6 C1467.3,1158.9 1474.8,1161.5 1480.2,1160.6 C1485.7,1159.7 1491.1,1156.4 1495.7,1155.4 C1500.3,1154.4 1504,1152.9 1507.7,1154.6 C1511.4,1156.3 1513.4,1163.8 1518,1165.7 C1522.6,1167.6 1529.4,1164.6 1535.1,1165.7 C1540.8,1166.8 1547.1,1174 1552.3,1172.6 C1557.5,1171.2 1561.7,1160.2 1566,1157.2 C1570.3,1154.2 1574.6,1153.8 1578,1154.6 C1581.4,1155.4 1582.3,1161.9 1586.6,1162.3 C1590.9,1162.7 1598.1,1156 1603.8,1157.2 C1609.5,1158.4 1615.8,1166.4 1620.9,1169.2 C1626.1,1172 1629.6,1175.2 1634.7,1174.3 C1639.8,1173.4 1645.5,1166 1651.8,1164 C1658.1,1162 1666.1,1159.7 1672.4,1162.3 C1678.7,1164.9 1685.6,1173.5 1689.6,1179.5 C1693.6,1185.5 1694.1,1190.6 1696.4,1198.3 C1698.7,1206 1703.9,1217.8 1703.3,1225.8 C1702.7,1233.8 1697.6,1243.5 1693,1246.4 C1688.4,1249.3 1679.9,1241.3 1675.9,1243 C1671.9,1244.7 1670.2,1249.5 1669,1256.7 C1667.8,1263.9 1670.7,1276.8 1669,1285.9 C1667.3,1295.1 1663.9,1304.4 1658.7,1311.6 C1653.5,1318.8 1644.4,1322.5 1638.1,1328.8 C1631.8,1335.1 1628.2,1344.8 1621,1349.4 C1613.8,1354 1603.8,1353.6 1595.2,1356.2 C1586.6,1358.8 1576.7,1363.7 1569.5,1364.8 C1562.3,1365.9 1558.6,1364.5 1552.3,1363.1 C1546,1361.7 1538,1359.6 1531.7,1356.2 C1525.4,1352.8 1519.7,1347.1 1514.5,1342.5 C1509.3,1337.9 1503.6,1334 1500.8,1328.8 C1498,1323.6 1498.2,1317.3 1497.4,1311.6 C1496.6,1305.9 1495.1,1300.2 1495.7,1294.5 C1496.3,1288.8 1499.1,1282.5 1500.8,1277.3 C1502.5,1272.1 1508.3,1266.2 1506,1263.6 C1503.7,1261 1492.2,1264.1 1487.1,1261.8 C1481.9,1259.5 1479.7,1254.1 1475.1,1249.8 C1470.5,1245.5 1463.9,1240.9 1459.6,1236.1 C1455.3,1231.2 1454.4,1224.7 1449.3,1220.7 C1444.2,1216.7 1432.4,1214.7 1428.7,1212.1 C1425,1209.5 1426.1,1208.6 1427,1205.2 Z" fill="#e61c1c"/>
<g clip-path="url(#c5)"><g filter="url(#bl6)">
<ellipse cx="1540" cy="1210" rx="18" ry="26" fill="#d80808" opacity="0.6"/>
<ellipse cx="1575" cy="1345" rx="22" ry="14" fill="#d00808" opacity="0.6"/>
<ellipse cx="1462" cy="1205" rx="32" ry="30" fill="#fff4f4" opacity="1.00"/>
<ellipse cx="1445" cy="1190" rx="20" ry="15" fill="#fff4f4" opacity="0.90"/>
<ellipse cx="1480" cy="1240" rx="16" ry="12" fill="#fff4f4" opacity="0.80"/>
<ellipse cx="1500" cy="1180" rx="20" ry="16" fill="#f6b0b0" opacity="0.70"/>
<ellipse cx="1570" cy="1290" rx="30" ry="32" fill="#fff4f4" opacity="0.75"/>
<ellipse cx="1535" cy="1310" rx="14" ry="18" fill="#f6b0b0" opacity="0.55"/>
<ellipse cx="1600" cy="1185" rx="16" ry="14" fill="#fff4f4" opacity="0.50"/>
<ellipse cx="1650" cy="1215" rx="28" ry="22" fill="#f6b0b0" opacity="0.60"/>
<ellipse cx="1690" cy="1230" rx="10" ry="14" fill="#fff4f4" opacity="0.70"/>
<ellipse cx="1610" cy="1320" rx="20" ry="14" fill="#f6b0b0" opacity="0.50"/>
<ellipse cx="1550" cy="1345" rx="12" ry="8" fill="#f6b0b0" opacity="0.40"/>
</g><g filter="url(#bl2)">
<ellipse cx="1470" cy="1215" rx="14" ry="10" fill="#a4aae8"/>
<ellipse cx="1490" cy="1228" rx="6" ry="6" fill="#c0c6f0"/>
<ellipse cx="1575" cy="1209" rx="4" ry="3" fill="#10209a"/>
<ellipse cx="1586" cy="1215" rx="3" ry="4" fill="#10209a"/>
<ellipse cx="1560" cy="1275" rx="4" ry="3" fill="#10209a"/>
<ellipse cx="1505" cy="1292" rx="4" ry="6" fill="#b0b8ee"/>
<ellipse cx="1667" cy="1245" rx="3" ry="4" fill="#a0a8e4"/>
</g></g></g>
<defs><linearGradient id="rwb" x1="0" y1="0" x2="1" y2="0"><stop offset="0.02" stop-color="#ff0808"/><stop offset="0.25" stop-color="#ff7878"/><stop offset="0.46" stop-color="#ffffff"/><stop offset="0.54" stop-color="#ffffff"/><stop offset="0.75" stop-color="#7878ff"/><stop offset="0.98" stop-color="#0808ff"/></linearGradient></defs>
<rect x="819.8" y="1390.5" width="227" height="23.2" fill="#fff" stroke="#9a9a9a" stroke-width="1.8"/>
<rect x="823.4" y="1394" width="219.8" height="8.8" fill="url(#rwb)"/>
<rect x="823.4" y="1402.8" width="219.8" height="7.6" fill="#1e1e1e"/>
<text x="830.9" y="1409.6" font-family="'Liberation Mono', monospace" font-size="10" fill="#8a8a8a" textLength="36" lengthAdjust="spacingAndGlyphs">-4.000</text>
<text x="1007.7" y="1409.6" font-family="'Liberation Mono', monospace" font-size="10" fill="#8a8a8a" textLength="28" lengthAdjust="spacingAndGlyphs">4.000</text>
<rect x="1120" y="1395" width="248.4" height="23.6" fill="#fff" stroke="#9a9a9a" stroke-width="1.8"/>
<rect x="1123.6" y="1398.5" width="241.2" height="8.8" fill="url(#rwb)"/>
<rect x="1123.6" y="1407.3" width="241.2" height="7.6" fill="#1e1e1e"/>
<text x="1131.1" y="1414.1" font-family="'Liberation Mono', monospace" font-size="10" fill="#8a8a8a" textLength="36" lengthAdjust="spacingAndGlyphs">-4.000</text>
<text x="1329.3" y="1414.1" font-family="'Liberation Mono', monospace" font-size="10" fill="#8a8a8a" textLength="28" lengthAdjust="spacingAndGlyphs">4.000</text>
<rect x="1451" y="1389.2" width="246" height="24.4" fill="#fff" stroke="#9a9a9a" stroke-width="1.8"/>
<rect x="1454.6" y="1392.7" width="238.8" height="8.8" fill="url(#rwb)"/>
<rect x="1454.6" y="1401.5" width="238.8" height="7.6" fill="#1e1e1e"/>
<text x="1462.1" y="1408.3" font-family="'Liberation Mono', monospace" font-size="10" fill="#8a8a8a" textLength="36" lengthAdjust="spacingAndGlyphs">-4.000</text>
<text x="1657.9" y="1408.3" font-family="'Liberation Mono', monospace" font-size="10" fill="#8a8a8a" textLength="28" lengthAdjust="spacingAndGlyphs">4.000</text>
<text x="13" y="1129" font-size="76" text-anchor="start" stroke="#000" stroke-width="1.1">e</text>
<text x="58" y="1164.7" font-size="49" text-anchor="start" >(i)</text>
<text x="405.4" y="1164.1" font-size="49" text-anchor="start" >(ii)</text>
<text x="770.1" y="1158.9" font-size="49" text-anchor="start" >(iii)</text>
<text x="1094.2" y="1159.1" font-size="49" text-anchor="start" >(iv)</text>
<text x="1384.1" y="1152.7" font-size="49" text-anchor="start" >(v)</text>
<text x="0" y="1371.8" font-size="31" text-anchor="start" >Donor</text>
<text x="87.7" y="1415.4" font-size="31" text-anchor="start" >H-bonds</text>
<text x="1.1" y="1460.4" font-size="30.3" text-anchor="start" >Acceptor</text>
<text x="541.7" y="1188.3" font-size="31" text-anchor="start" >PAZ</text>
<text x="436.5" y="1208" font-size="30.5" text-anchor="start" >RepA</text>
<text x="652.9" y="1352.4" font-size="31" text-anchor="start" >N terminus</text>
<text x="454.7" y="1439.5" font-size="31.3" text-anchor="start" >MID</text>
<text x="591.5" y="1439.5" font-size="31" text-anchor="start" >PIWI</text>
<text x="794.79" y="1451.7" font-size="46" text-anchor="start" >-4V</text>
<text x="987.68" y="1451.7" font-size="46" text-anchor="start" >4V</text>
<text x="873.73" y="1477.6" font-size="39.3" text-anchor="start" >(kT/e)</text>
<text x="1095.59" y="1455.5" font-size="46" text-anchor="start" >-4V</text>
<text x="1317.78" y="1455.5" font-size="46" text-anchor="start" >4V</text>
<text x="1196.93" y="1478" font-size="39.3" text-anchor="start" >(kT/e)</text>
<text x="1451.69" y="1455.5" font-size="46" text-anchor="start" >-4V</text>
<text x="1669.58" y="1452" font-size="46" text-anchor="start" >4V</text>
<text x="1544.93" y="1478.5" font-size="39.3" text-anchor="start" >(kT/e)</text>
</g>
</svg></body></html>
